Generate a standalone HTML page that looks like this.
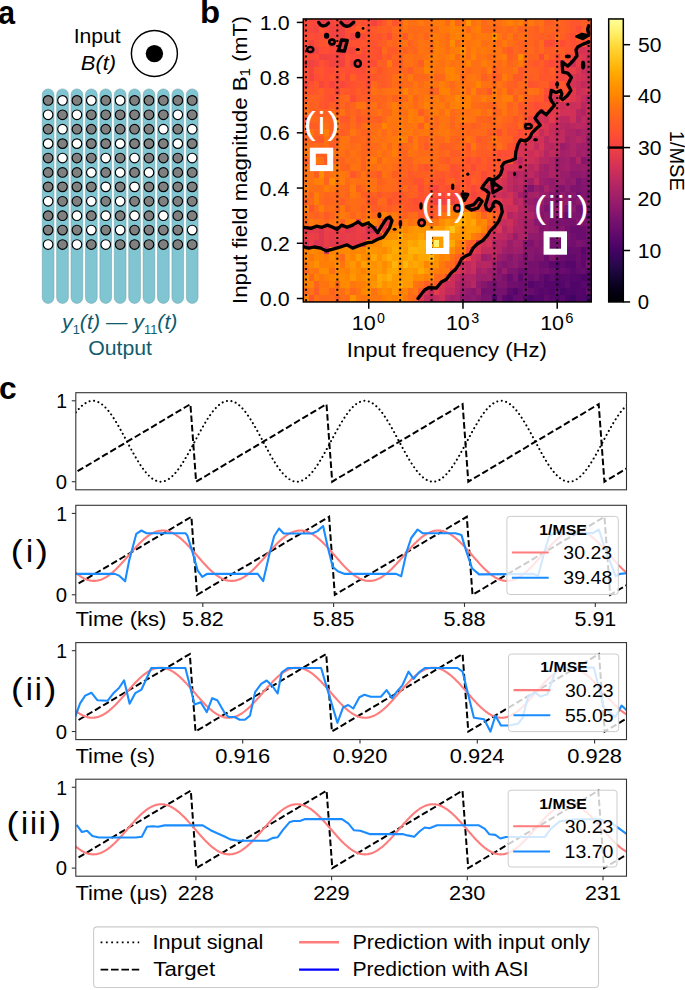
<!DOCTYPE html><html><head><meta charset="utf-8"><style>html,body{margin:0;padding:0;background:#fff;}svg{display:block;font-family:"Liberation Sans",sans-serif;}</style></head><body>
<svg width="685" height="990" viewBox="0 0 685 990">
<rect width="685" height="990" fill="#fff"/>
<g id="pa">
<text x="-1.68" y="23.60" font-size="33.00" font-weight="bold" font-style="normal" fill="#000" textLength="16.79" lengthAdjust="spacingAndGlyphs">a</text>
<text x="73.65" y="42.60" font-size="20.80" font-weight="normal" font-style="normal" fill="#000" textLength="47.11" lengthAdjust="spacingAndGlyphs">Input</text>
<text x="80.83" y="70.30" font-size="20.80" font-weight="normal" font-style="italic" fill="#000" textLength="35.28" lengthAdjust="spacingAndGlyphs">B(t)</text>
<circle cx="154.4" cy="53.5" r="23.0" fill="none" stroke="#000" stroke-width="1.45"/>
<circle cx="154.4" cy="53.6" r="8.7" fill="#000"/>
<rect x="42.25" y="88.9" width="11.7" height="214.5" rx="5.85" ry="5.85" fill="#80c5d2" stroke="#6a9aa3" stroke-width="0.5"/>
<rect x="56.66" y="88.9" width="11.7" height="214.5" rx="5.85" ry="5.85" fill="#80c5d2" stroke="#6a9aa3" stroke-width="0.5"/>
<rect x="71.07" y="88.9" width="11.7" height="214.5" rx="5.85" ry="5.85" fill="#80c5d2" stroke="#6a9aa3" stroke-width="0.5"/>
<rect x="85.48" y="88.9" width="11.7" height="214.5" rx="5.85" ry="5.85" fill="#80c5d2" stroke="#6a9aa3" stroke-width="0.5"/>
<rect x="99.89" y="88.9" width="11.7" height="214.5" rx="5.85" ry="5.85" fill="#80c5d2" stroke="#6a9aa3" stroke-width="0.5"/>
<rect x="114.30" y="88.9" width="11.7" height="214.5" rx="5.85" ry="5.85" fill="#80c5d2" stroke="#6a9aa3" stroke-width="0.5"/>
<rect x="128.71" y="88.9" width="11.7" height="214.5" rx="5.85" ry="5.85" fill="#80c5d2" stroke="#6a9aa3" stroke-width="0.5"/>
<rect x="143.12" y="88.9" width="11.7" height="214.5" rx="5.85" ry="5.85" fill="#80c5d2" stroke="#6a9aa3" stroke-width="0.5"/>
<rect x="157.53" y="88.9" width="11.7" height="214.5" rx="5.85" ry="5.85" fill="#80c5d2" stroke="#6a9aa3" stroke-width="0.5"/>
<rect x="171.94" y="88.9" width="11.7" height="214.5" rx="5.85" ry="5.85" fill="#80c5d2" stroke="#6a9aa3" stroke-width="0.5"/>
<rect x="186.35" y="88.9" width="11.7" height="214.5" rx="5.85" ry="5.85" fill="#80c5d2" stroke="#6a9aa3" stroke-width="0.5"/>
<circle cx="48.10" cy="100.40" r="4.8" fill="#808080" stroke="#000" stroke-width="1.15"/>
<circle cx="62.51" cy="100.40" r="4.8" fill="#fff" stroke="#000" stroke-width="1.15"/>
<circle cx="76.92" cy="100.40" r="4.8" fill="#808080" stroke="#000" stroke-width="1.15"/>
<circle cx="91.33" cy="100.40" r="4.8" fill="#fff" stroke="#000" stroke-width="1.15"/>
<circle cx="105.74" cy="100.40" r="4.8" fill="#808080" stroke="#000" stroke-width="1.15"/>
<circle cx="120.15" cy="100.40" r="4.8" fill="#fff" stroke="#000" stroke-width="1.15"/>
<circle cx="134.56" cy="100.40" r="4.8" fill="#808080" stroke="#000" stroke-width="1.15"/>
<circle cx="148.97" cy="100.40" r="4.8" fill="#808080" stroke="#000" stroke-width="1.15"/>
<circle cx="163.38" cy="100.40" r="4.8" fill="#808080" stroke="#000" stroke-width="1.15"/>
<circle cx="177.79" cy="100.40" r="4.8" fill="#808080" stroke="#000" stroke-width="1.15"/>
<circle cx="192.20" cy="100.40" r="4.8" fill="#808080" stroke="#000" stroke-width="1.15"/>
<circle cx="48.10" cy="114.81" r="4.8" fill="#fff" stroke="#000" stroke-width="1.15"/>
<circle cx="62.51" cy="114.81" r="4.8" fill="#808080" stroke="#000" stroke-width="1.15"/>
<circle cx="76.92" cy="114.81" r="4.8" fill="#fff" stroke="#000" stroke-width="1.15"/>
<circle cx="91.33" cy="114.81" r="4.8" fill="#808080" stroke="#000" stroke-width="1.15"/>
<circle cx="105.74" cy="114.81" r="4.8" fill="#808080" stroke="#000" stroke-width="1.15"/>
<circle cx="120.15" cy="114.81" r="4.8" fill="#808080" stroke="#000" stroke-width="1.15"/>
<circle cx="134.56" cy="114.81" r="4.8" fill="#808080" stroke="#000" stroke-width="1.15"/>
<circle cx="148.97" cy="114.81" r="4.8" fill="#808080" stroke="#000" stroke-width="1.15"/>
<circle cx="163.38" cy="114.81" r="4.8" fill="#808080" stroke="#000" stroke-width="1.15"/>
<circle cx="177.79" cy="114.81" r="4.8" fill="#fff" stroke="#000" stroke-width="1.15"/>
<circle cx="192.20" cy="114.81" r="4.8" fill="#808080" stroke="#000" stroke-width="1.15"/>
<circle cx="48.10" cy="129.22" r="4.8" fill="#808080" stroke="#000" stroke-width="1.15"/>
<circle cx="62.51" cy="129.22" r="4.8" fill="#fff" stroke="#000" stroke-width="1.15"/>
<circle cx="76.92" cy="129.22" r="4.8" fill="#808080" stroke="#000" stroke-width="1.15"/>
<circle cx="91.33" cy="129.22" r="4.8" fill="#808080" stroke="#000" stroke-width="1.15"/>
<circle cx="105.74" cy="129.22" r="4.8" fill="#808080" stroke="#000" stroke-width="1.15"/>
<circle cx="120.15" cy="129.22" r="4.8" fill="#808080" stroke="#000" stroke-width="1.15"/>
<circle cx="134.56" cy="129.22" r="4.8" fill="#808080" stroke="#000" stroke-width="1.15"/>
<circle cx="148.97" cy="129.22" r="4.8" fill="#808080" stroke="#000" stroke-width="1.15"/>
<circle cx="163.38" cy="129.22" r="4.8" fill="#fff" stroke="#000" stroke-width="1.15"/>
<circle cx="177.79" cy="129.22" r="4.8" fill="#808080" stroke="#000" stroke-width="1.15"/>
<circle cx="192.20" cy="129.22" r="4.8" fill="#fff" stroke="#000" stroke-width="1.15"/>
<circle cx="48.10" cy="143.63" r="4.8" fill="#fff" stroke="#000" stroke-width="1.15"/>
<circle cx="62.51" cy="143.63" r="4.8" fill="#808080" stroke="#000" stroke-width="1.15"/>
<circle cx="76.92" cy="143.63" r="4.8" fill="#fff" stroke="#000" stroke-width="1.15"/>
<circle cx="91.33" cy="143.63" r="4.8" fill="#808080" stroke="#000" stroke-width="1.15"/>
<circle cx="105.74" cy="143.63" r="4.8" fill="#808080" stroke="#000" stroke-width="1.15"/>
<circle cx="120.15" cy="143.63" r="4.8" fill="#fff" stroke="#000" stroke-width="1.15"/>
<circle cx="134.56" cy="143.63" r="4.8" fill="#808080" stroke="#000" stroke-width="1.15"/>
<circle cx="148.97" cy="143.63" r="4.8" fill="#808080" stroke="#000" stroke-width="1.15"/>
<circle cx="163.38" cy="143.63" r="4.8" fill="#808080" stroke="#000" stroke-width="1.15"/>
<circle cx="177.79" cy="143.63" r="4.8" fill="#fff" stroke="#000" stroke-width="1.15"/>
<circle cx="192.20" cy="143.63" r="4.8" fill="#808080" stroke="#000" stroke-width="1.15"/>
<circle cx="48.10" cy="158.04" r="4.8" fill="#808080" stroke="#000" stroke-width="1.15"/>
<circle cx="62.51" cy="158.04" r="4.8" fill="#fff" stroke="#000" stroke-width="1.15"/>
<circle cx="76.92" cy="158.04" r="4.8" fill="#808080" stroke="#000" stroke-width="1.15"/>
<circle cx="91.33" cy="158.04" r="4.8" fill="#808080" stroke="#000" stroke-width="1.15"/>
<circle cx="105.74" cy="158.04" r="4.8" fill="#fff" stroke="#000" stroke-width="1.15"/>
<circle cx="120.15" cy="158.04" r="4.8" fill="#808080" stroke="#000" stroke-width="1.15"/>
<circle cx="134.56" cy="158.04" r="4.8" fill="#fff" stroke="#000" stroke-width="1.15"/>
<circle cx="148.97" cy="158.04" r="4.8" fill="#808080" stroke="#000" stroke-width="1.15"/>
<circle cx="163.38" cy="158.04" r="4.8" fill="#808080" stroke="#000" stroke-width="1.15"/>
<circle cx="177.79" cy="158.04" r="4.8" fill="#808080" stroke="#000" stroke-width="1.15"/>
<circle cx="192.20" cy="158.04" r="4.8" fill="#fff" stroke="#000" stroke-width="1.15"/>
<circle cx="48.10" cy="172.45" r="4.8" fill="#808080" stroke="#000" stroke-width="1.15"/>
<circle cx="62.51" cy="172.45" r="4.8" fill="#808080" stroke="#000" stroke-width="1.15"/>
<circle cx="76.92" cy="172.45" r="4.8" fill="#808080" stroke="#000" stroke-width="1.15"/>
<circle cx="91.33" cy="172.45" r="4.8" fill="#fff" stroke="#000" stroke-width="1.15"/>
<circle cx="105.74" cy="172.45" r="4.8" fill="#808080" stroke="#000" stroke-width="1.15"/>
<circle cx="120.15" cy="172.45" r="4.8" fill="#fff" stroke="#000" stroke-width="1.15"/>
<circle cx="134.56" cy="172.45" r="4.8" fill="#808080" stroke="#000" stroke-width="1.15"/>
<circle cx="148.97" cy="172.45" r="4.8" fill="#fff" stroke="#000" stroke-width="1.15"/>
<circle cx="163.38" cy="172.45" r="4.8" fill="#808080" stroke="#000" stroke-width="1.15"/>
<circle cx="177.79" cy="172.45" r="4.8" fill="#808080" stroke="#000" stroke-width="1.15"/>
<circle cx="192.20" cy="172.45" r="4.8" fill="#808080" stroke="#000" stroke-width="1.15"/>
<circle cx="48.10" cy="186.86" r="4.8" fill="#808080" stroke="#000" stroke-width="1.15"/>
<circle cx="62.51" cy="186.86" r="4.8" fill="#808080" stroke="#000" stroke-width="1.15"/>
<circle cx="76.92" cy="186.86" r="4.8" fill="#808080" stroke="#000" stroke-width="1.15"/>
<circle cx="91.33" cy="186.86" r="4.8" fill="#808080" stroke="#000" stroke-width="1.15"/>
<circle cx="105.74" cy="186.86" r="4.8" fill="#fff" stroke="#000" stroke-width="1.15"/>
<circle cx="120.15" cy="186.86" r="4.8" fill="#808080" stroke="#000" stroke-width="1.15"/>
<circle cx="134.56" cy="186.86" r="4.8" fill="#fff" stroke="#000" stroke-width="1.15"/>
<circle cx="148.97" cy="186.86" r="4.8" fill="#808080" stroke="#000" stroke-width="1.15"/>
<circle cx="163.38" cy="186.86" r="4.8" fill="#808080" stroke="#000" stroke-width="1.15"/>
<circle cx="177.79" cy="186.86" r="4.8" fill="#808080" stroke="#000" stroke-width="1.15"/>
<circle cx="192.20" cy="186.86" r="4.8" fill="#808080" stroke="#000" stroke-width="1.15"/>
<circle cx="48.10" cy="201.27" r="4.8" fill="#fff" stroke="#000" stroke-width="1.15"/>
<circle cx="62.51" cy="201.27" r="4.8" fill="#808080" stroke="#000" stroke-width="1.15"/>
<circle cx="76.92" cy="201.27" r="4.8" fill="#808080" stroke="#000" stroke-width="1.15"/>
<circle cx="91.33" cy="201.27" r="4.8" fill="#fff" stroke="#000" stroke-width="1.15"/>
<circle cx="105.74" cy="201.27" r="4.8" fill="#808080" stroke="#000" stroke-width="1.15"/>
<circle cx="120.15" cy="201.27" r="4.8" fill="#fff" stroke="#000" stroke-width="1.15"/>
<circle cx="134.56" cy="201.27" r="4.8" fill="#808080" stroke="#000" stroke-width="1.15"/>
<circle cx="148.97" cy="201.27" r="4.8" fill="#808080" stroke="#000" stroke-width="1.15"/>
<circle cx="163.38" cy="201.27" r="4.8" fill="#808080" stroke="#000" stroke-width="1.15"/>
<circle cx="177.79" cy="201.27" r="4.8" fill="#808080" stroke="#000" stroke-width="1.15"/>
<circle cx="192.20" cy="201.27" r="4.8" fill="#808080" stroke="#000" stroke-width="1.15"/>
<circle cx="48.10" cy="215.68" r="4.8" fill="#808080" stroke="#000" stroke-width="1.15"/>
<circle cx="62.51" cy="215.68" r="4.8" fill="#808080" stroke="#000" stroke-width="1.15"/>
<circle cx="76.92" cy="215.68" r="4.8" fill="#fff" stroke="#000" stroke-width="1.15"/>
<circle cx="91.33" cy="215.68" r="4.8" fill="#808080" stroke="#000" stroke-width="1.15"/>
<circle cx="105.74" cy="215.68" r="4.8" fill="#fff" stroke="#000" stroke-width="1.15"/>
<circle cx="120.15" cy="215.68" r="4.8" fill="#808080" stroke="#000" stroke-width="1.15"/>
<circle cx="134.56" cy="215.68" r="4.8" fill="#fff" stroke="#000" stroke-width="1.15"/>
<circle cx="148.97" cy="215.68" r="4.8" fill="#808080" stroke="#000" stroke-width="1.15"/>
<circle cx="163.38" cy="215.68" r="4.8" fill="#fff" stroke="#000" stroke-width="1.15"/>
<circle cx="177.79" cy="215.68" r="4.8" fill="#808080" stroke="#000" stroke-width="1.15"/>
<circle cx="192.20" cy="215.68" r="4.8" fill="#808080" stroke="#000" stroke-width="1.15"/>
<circle cx="48.10" cy="230.09" r="4.8" fill="#808080" stroke="#000" stroke-width="1.15"/>
<circle cx="62.51" cy="230.09" r="4.8" fill="#808080" stroke="#000" stroke-width="1.15"/>
<circle cx="76.92" cy="230.09" r="4.8" fill="#808080" stroke="#000" stroke-width="1.15"/>
<circle cx="91.33" cy="230.09" r="4.8" fill="#fff" stroke="#000" stroke-width="1.15"/>
<circle cx="105.74" cy="230.09" r="4.8" fill="#808080" stroke="#000" stroke-width="1.15"/>
<circle cx="120.15" cy="230.09" r="4.8" fill="#fff" stroke="#000" stroke-width="1.15"/>
<circle cx="134.56" cy="230.09" r="4.8" fill="#808080" stroke="#000" stroke-width="1.15"/>
<circle cx="148.97" cy="230.09" r="4.8" fill="#808080" stroke="#000" stroke-width="1.15"/>
<circle cx="163.38" cy="230.09" r="4.8" fill="#808080" stroke="#000" stroke-width="1.15"/>
<circle cx="177.79" cy="230.09" r="4.8" fill="#808080" stroke="#000" stroke-width="1.15"/>
<circle cx="192.20" cy="230.09" r="4.8" fill="#fff" stroke="#000" stroke-width="1.15"/>
<circle cx="48.10" cy="244.50" r="4.8" fill="#fff" stroke="#000" stroke-width="1.15"/>
<circle cx="62.51" cy="244.50" r="4.8" fill="#808080" stroke="#000" stroke-width="1.15"/>
<circle cx="76.92" cy="244.50" r="4.8" fill="#fff" stroke="#000" stroke-width="1.15"/>
<circle cx="91.33" cy="244.50" r="4.8" fill="#808080" stroke="#000" stroke-width="1.15"/>
<circle cx="105.74" cy="244.50" r="4.8" fill="#fff" stroke="#000" stroke-width="1.15"/>
<circle cx="120.15" cy="244.50" r="4.8" fill="#808080" stroke="#000" stroke-width="1.15"/>
<circle cx="134.56" cy="244.50" r="4.8" fill="#808080" stroke="#000" stroke-width="1.15"/>
<circle cx="148.97" cy="244.50" r="4.8" fill="#808080" stroke="#000" stroke-width="1.15"/>
<circle cx="163.38" cy="244.50" r="4.8" fill="#808080" stroke="#000" stroke-width="1.15"/>
<circle cx="177.79" cy="244.50" r="4.8" fill="#808080" stroke="#000" stroke-width="1.15"/>
<circle cx="192.20" cy="244.50" r="4.8" fill="#808080" stroke="#000" stroke-width="1.15"/>
<text x="62.0" y="329.3" font-size="21.0" font-style="italic" fill="#0f5b6d" textLength="115.5" lengthAdjust="spacingAndGlyphs">y<tspan font-size="12.5" dy="5" font-style="normal">1</tspan><tspan dy="-5">(t) — y</tspan><tspan font-size="12.5" dy="5" font-style="normal">11</tspan><tspan dy="-5">(t)</tspan></text>
<text x="88.19" y="354.60" font-size="21.00" font-weight="normal" font-style="normal" fill="#0f5b6d" textLength="63.76" lengthAdjust="spacingAndGlyphs">Output</text>
</g>
<g id="pb">
<text x="200.13" y="23.20" font-size="32.00" font-weight="bold" font-style="normal" fill="#000" textLength="20.12" lengthAdjust="spacingAndGlyphs">b</text>
<g shape-rendering="crispEdges">
<rect x="303.31" y="295.05" width="5.29" height="6.96" fill="#ff7e06"/>
<rect x="308.55" y="295.05" width="5.29" height="6.96" fill="#ff562b"/>
<rect x="313.78" y="295.05" width="5.29" height="6.96" fill="#ff6f13"/>
<rect x="319.02" y="295.05" width="5.29" height="6.96" fill="#ff671b"/>
<rect x="324.25" y="295.05" width="5.29" height="6.96" fill="#ff671b"/>
<rect x="329.49" y="295.05" width="5.29" height="6.96" fill="#ff6a18"/>
<rect x="334.72" y="295.05" width="5.29" height="6.96" fill="#ff5a27"/>
<rect x="339.96" y="295.05" width="5.29" height="6.96" fill="#ff6c16"/>
<rect x="345.19" y="295.05" width="5.29" height="6.96" fill="#ff6919"/>
<rect x="350.43" y="295.05" width="5.29" height="6.96" fill="#ff9400"/>
<rect x="355.66" y="295.05" width="5.29" height="6.96" fill="#ff780c"/>
<rect x="360.90" y="295.05" width="5.29" height="6.96" fill="#ff740f"/>
<rect x="366.13" y="295.05" width="5.29" height="6.96" fill="#ff780c"/>
<rect x="371.37" y="295.05" width="5.29" height="6.96" fill="#ff780c"/>
<rect x="376.60" y="295.05" width="5.29" height="6.96" fill="#ff760e"/>
<rect x="381.84" y="295.05" width="5.29" height="6.96" fill="#ff7e06"/>
<rect x="387.07" y="295.05" width="5.29" height="6.96" fill="#ff8700"/>
<rect x="392.31" y="295.05" width="5.29" height="6.96" fill="#ff8005"/>
<rect x="397.54" y="295.05" width="5.29" height="6.96" fill="#ff8b00"/>
<rect x="402.78" y="295.05" width="5.29" height="6.96" fill="#ff780c"/>
<rect x="408.01" y="295.05" width="5.29" height="6.96" fill="#ff6c16"/>
<rect x="413.25" y="295.05" width="5.29" height="6.96" fill="#ff631f"/>
<rect x="418.48" y="295.05" width="5.29" height="6.96" fill="#dd3750"/>
<rect x="423.72" y="295.05" width="5.29" height="6.96" fill="#c42b5d"/>
<rect x="428.95" y="295.05" width="5.29" height="6.96" fill="#bb2861"/>
<rect x="434.19" y="295.05" width="5.29" height="6.96" fill="#c22b5e"/>
<rect x="439.42" y="295.05" width="5.29" height="6.96" fill="#cd2f59"/>
<rect x="444.66" y="295.05" width="5.29" height="6.96" fill="#ac2366"/>
<rect x="449.89" y="295.05" width="5.29" height="6.96" fill="#a32068"/>
<rect x="455.13" y="295.05" width="5.29" height="6.96" fill="#a82267"/>
<rect x="460.36" y="295.05" width="5.29" height="6.96" fill="#8e196c"/>
<rect x="465.60" y="295.05" width="5.29" height="6.96" fill="#8c186d"/>
<rect x="470.83" y="295.05" width="5.29" height="6.96" fill="#901a6c"/>
<rect x="476.07" y="295.05" width="5.29" height="6.96" fill="#87166d"/>
<rect x="481.30" y="295.05" width="5.29" height="6.96" fill="#7b136e"/>
<rect x="486.54" y="295.05" width="5.29" height="6.96" fill="#7d136e"/>
<rect x="491.77" y="295.05" width="5.29" height="6.96" fill="#520569"/>
<rect x="497.01" y="295.05" width="5.29" height="6.96" fill="#76116e"/>
<rect x="502.24" y="295.05" width="5.29" height="6.96" fill="#5d086c"/>
<rect x="507.48" y="295.05" width="5.29" height="6.96" fill="#54066a"/>
<rect x="512.71" y="295.05" width="5.29" height="6.96" fill="#650b6d"/>
<rect x="517.95" y="295.05" width="5.29" height="6.96" fill="#670b6d"/>
<rect x="523.18" y="295.05" width="5.29" height="6.96" fill="#57076b"/>
<rect x="528.42" y="295.05" width="5.29" height="6.96" fill="#4e0568"/>
<rect x="533.65" y="295.05" width="5.29" height="6.96" fill="#57076b"/>
<rect x="538.89" y="295.05" width="5.29" height="6.96" fill="#54066a"/>
<rect x="544.12" y="295.05" width="5.29" height="6.96" fill="#630a6d"/>
<rect x="549.36" y="295.05" width="5.29" height="6.96" fill="#59076b"/>
<rect x="554.59" y="295.05" width="5.29" height="6.96" fill="#520569"/>
<rect x="559.83" y="295.05" width="5.29" height="6.96" fill="#59076b"/>
<rect x="565.06" y="295.05" width="5.29" height="6.96" fill="#4a0466"/>
<rect x="570.30" y="295.05" width="5.29" height="6.96" fill="#420462"/>
<rect x="575.53" y="295.05" width="5.29" height="6.96" fill="#500568"/>
<rect x="580.77" y="295.05" width="5.29" height="6.96" fill="#500568"/>
<rect x="586.00" y="295.05" width="5.29" height="6.96" fill="#460464"/>
<rect x="303.31" y="288.15" width="5.29" height="6.96" fill="#ff6919"/>
<rect x="308.55" y="288.15" width="5.29" height="6.96" fill="#ff7311"/>
<rect x="313.78" y="288.15" width="5.29" height="6.96" fill="#ff5c26"/>
<rect x="319.02" y="288.15" width="5.29" height="6.96" fill="#ff780c"/>
<rect x="324.25" y="288.15" width="5.29" height="6.96" fill="#ff760e"/>
<rect x="329.49" y="288.15" width="5.29" height="6.96" fill="#ff641d"/>
<rect x="334.72" y="288.15" width="5.29" height="6.96" fill="#ff740f"/>
<rect x="339.96" y="288.15" width="5.29" height="6.96" fill="#ff6e15"/>
<rect x="345.19" y="288.15" width="5.29" height="6.96" fill="#ff8005"/>
<rect x="350.43" y="288.15" width="5.29" height="6.96" fill="#ff6919"/>
<rect x="355.66" y="288.15" width="5.29" height="6.96" fill="#ff740f"/>
<rect x="360.90" y="288.15" width="5.29" height="6.96" fill="#ff8700"/>
<rect x="366.13" y="288.15" width="5.29" height="6.96" fill="#ff8e00"/>
<rect x="371.37" y="288.15" width="5.29" height="6.96" fill="#ff7112"/>
<rect x="376.60" y="288.15" width="5.29" height="6.96" fill="#ff8203"/>
<rect x="381.84" y="288.15" width="5.29" height="6.96" fill="#ff8c00"/>
<rect x="387.07" y="288.15" width="5.29" height="6.96" fill="#ff8501"/>
<rect x="392.31" y="288.15" width="5.29" height="6.96" fill="#ff9b00"/>
<rect x="397.54" y="288.15" width="5.29" height="6.96" fill="#ff7e06"/>
<rect x="402.78" y="288.15" width="5.29" height="6.96" fill="#ff8501"/>
<rect x="408.01" y="288.15" width="5.29" height="6.96" fill="#ff6f13"/>
<rect x="413.25" y="288.15" width="5.29" height="6.96" fill="#ff780c"/>
<rect x="418.48" y="288.15" width="5.29" height="6.96" fill="#ff562b"/>
<rect x="423.72" y="288.15" width="5.29" height="6.96" fill="#d53255"/>
<rect x="428.95" y="288.15" width="5.29" height="6.96" fill="#c12a5e"/>
<rect x="434.19" y="288.15" width="5.29" height="6.96" fill="#e43a4b"/>
<rect x="439.42" y="288.15" width="5.29" height="6.96" fill="#d13157"/>
<rect x="444.66" y="288.15" width="5.29" height="6.96" fill="#c42b5d"/>
<rect x="449.89" y="288.15" width="5.29" height="6.96" fill="#c12a5e"/>
<rect x="455.13" y="288.15" width="5.29" height="6.96" fill="#b02465"/>
<rect x="460.36" y="288.15" width="5.29" height="6.96" fill="#9b1d6a"/>
<rect x="465.60" y="288.15" width="5.29" height="6.96" fill="#901a6c"/>
<rect x="470.83" y="288.15" width="5.29" height="6.96" fill="#89176d"/>
<rect x="476.07" y="288.15" width="5.29" height="6.96" fill="#991d6b"/>
<rect x="481.30" y="288.15" width="5.29" height="6.96" fill="#74106e"/>
<rect x="486.54" y="288.15" width="5.29" height="6.96" fill="#78116e"/>
<rect x="491.77" y="288.15" width="5.29" height="6.96" fill="#74106e"/>
<rect x="497.01" y="288.15" width="5.29" height="6.96" fill="#76116e"/>
<rect x="502.24" y="288.15" width="5.29" height="6.96" fill="#76116e"/>
<rect x="507.48" y="288.15" width="5.29" height="6.96" fill="#5f096c"/>
<rect x="512.71" y="288.15" width="5.29" height="6.96" fill="#56066a"/>
<rect x="517.95" y="288.15" width="5.29" height="6.96" fill="#650b6d"/>
<rect x="523.18" y="288.15" width="5.29" height="6.96" fill="#6e0e6e"/>
<rect x="528.42" y="288.15" width="5.29" height="6.96" fill="#670b6d"/>
<rect x="533.65" y="288.15" width="5.29" height="6.96" fill="#5f096c"/>
<rect x="538.89" y="288.15" width="5.29" height="6.96" fill="#57076b"/>
<rect x="544.12" y="288.15" width="5.29" height="6.96" fill="#5b086c"/>
<rect x="549.36" y="288.15" width="5.29" height="6.96" fill="#54066a"/>
<rect x="554.59" y="288.15" width="5.29" height="6.96" fill="#5d086c"/>
<rect x="559.83" y="288.15" width="5.29" height="6.96" fill="#4a0466"/>
<rect x="565.06" y="288.15" width="5.29" height="6.96" fill="#520569"/>
<rect x="570.30" y="288.15" width="5.29" height="6.96" fill="#4e0568"/>
<rect x="575.53" y="288.15" width="5.29" height="6.96" fill="#54066a"/>
<rect x="580.77" y="288.15" width="5.29" height="6.96" fill="#500568"/>
<rect x="586.00" y="288.15" width="5.29" height="6.96" fill="#670b6d"/>
<rect x="303.31" y="281.24" width="5.29" height="6.96" fill="#ff8203"/>
<rect x="308.55" y="281.24" width="5.29" height="6.96" fill="#ff8402"/>
<rect x="313.78" y="281.24" width="5.29" height="6.96" fill="#ff641d"/>
<rect x="319.02" y="281.24" width="5.29" height="6.96" fill="#ff740f"/>
<rect x="324.25" y="281.24" width="5.29" height="6.96" fill="#ff7311"/>
<rect x="329.49" y="281.24" width="5.29" height="6.96" fill="#ff7e06"/>
<rect x="334.72" y="281.24" width="5.29" height="6.96" fill="#ff661c"/>
<rect x="339.96" y="281.24" width="5.29" height="6.96" fill="#ff8900"/>
<rect x="345.19" y="281.24" width="5.29" height="6.96" fill="#ff8b00"/>
<rect x="350.43" y="281.24" width="5.29" height="6.96" fill="#ff760e"/>
<rect x="355.66" y="281.24" width="5.29" height="6.96" fill="#ff7d08"/>
<rect x="360.90" y="281.24" width="5.29" height="6.96" fill="#ff8005"/>
<rect x="366.13" y="281.24" width="5.29" height="6.96" fill="#ff8b00"/>
<rect x="371.37" y="281.24" width="5.29" height="6.96" fill="#ff9400"/>
<rect x="376.60" y="281.24" width="5.29" height="6.96" fill="#ffa500"/>
<rect x="381.84" y="281.24" width="5.29" height="6.96" fill="#ff9000"/>
<rect x="387.07" y="281.24" width="5.29" height="6.96" fill="#ff9b00"/>
<rect x="392.31" y="281.24" width="5.29" height="6.96" fill="#ff9600"/>
<rect x="397.54" y="281.24" width="5.29" height="6.96" fill="#ffa600"/>
<rect x="402.78" y="281.24" width="5.29" height="6.96" fill="#ff9700"/>
<rect x="408.01" y="281.24" width="5.29" height="6.96" fill="#ff9700"/>
<rect x="413.25" y="281.24" width="5.29" height="6.96" fill="#ff740f"/>
<rect x="418.48" y="281.24" width="5.29" height="6.96" fill="#ff6e15"/>
<rect x="423.72" y="281.24" width="5.29" height="6.96" fill="#ff5c26"/>
<rect x="428.95" y="281.24" width="5.29" height="6.96" fill="#ff6a18"/>
<rect x="434.19" y="281.24" width="5.29" height="6.96" fill="#ff5c26"/>
<rect x="439.42" y="281.24" width="5.29" height="6.96" fill="#d63354"/>
<rect x="444.66" y="281.24" width="5.29" height="6.96" fill="#ca2e5a"/>
<rect x="449.89" y="281.24" width="5.29" height="6.96" fill="#ca2e5a"/>
<rect x="455.13" y="281.24" width="5.29" height="6.96" fill="#b22564"/>
<rect x="460.36" y="281.24" width="5.29" height="6.96" fill="#a52068"/>
<rect x="465.60" y="281.24" width="5.29" height="6.96" fill="#aa2266"/>
<rect x="470.83" y="281.24" width="5.29" height="6.96" fill="#b72762"/>
<rect x="476.07" y="281.24" width="5.29" height="6.96" fill="#921a6c"/>
<rect x="481.30" y="281.24" width="5.29" height="6.96" fill="#87166d"/>
<rect x="486.54" y="281.24" width="5.29" height="6.96" fill="#7a126e"/>
<rect x="491.77" y="281.24" width="5.29" height="6.96" fill="#74106e"/>
<rect x="497.01" y="281.24" width="5.29" height="6.96" fill="#81156e"/>
<rect x="502.24" y="281.24" width="5.29" height="6.96" fill="#81156e"/>
<rect x="507.48" y="281.24" width="5.29" height="6.96" fill="#720f6e"/>
<rect x="512.71" y="281.24" width="5.29" height="6.96" fill="#720f6e"/>
<rect x="517.95" y="281.24" width="5.29" height="6.96" fill="#6c0d6e"/>
<rect x="523.18" y="281.24" width="5.29" height="6.96" fill="#6b0d6e"/>
<rect x="528.42" y="281.24" width="5.29" height="6.96" fill="#56066a"/>
<rect x="533.65" y="281.24" width="5.29" height="6.96" fill="#5d086c"/>
<rect x="538.89" y="281.24" width="5.29" height="6.96" fill="#610a6d"/>
<rect x="544.12" y="281.24" width="5.29" height="6.96" fill="#56066a"/>
<rect x="549.36" y="281.24" width="5.29" height="6.96" fill="#56066a"/>
<rect x="554.59" y="281.24" width="5.29" height="6.96" fill="#500568"/>
<rect x="559.83" y="281.24" width="5.29" height="6.96" fill="#54066a"/>
<rect x="565.06" y="281.24" width="5.29" height="6.96" fill="#5f096c"/>
<rect x="570.30" y="281.24" width="5.29" height="6.96" fill="#500568"/>
<rect x="575.53" y="281.24" width="5.29" height="6.96" fill="#520569"/>
<rect x="580.77" y="281.24" width="5.29" height="6.96" fill="#59076b"/>
<rect x="586.00" y="281.24" width="5.29" height="6.96" fill="#57076b"/>
<rect x="303.31" y="274.34" width="5.29" height="6.96" fill="#ff8700"/>
<rect x="308.55" y="274.34" width="5.29" height="6.96" fill="#ff661c"/>
<rect x="313.78" y="274.34" width="5.29" height="6.96" fill="#ff8203"/>
<rect x="319.02" y="274.34" width="5.29" height="6.96" fill="#ff760e"/>
<rect x="324.25" y="274.34" width="5.29" height="6.96" fill="#ff7e06"/>
<rect x="329.49" y="274.34" width="5.29" height="6.96" fill="#ff8501"/>
<rect x="334.72" y="274.34" width="5.29" height="6.96" fill="#ff8900"/>
<rect x="339.96" y="274.34" width="5.29" height="6.96" fill="#ff8c00"/>
<rect x="345.19" y="274.34" width="5.29" height="6.96" fill="#ff8501"/>
<rect x="350.43" y="274.34" width="5.29" height="6.96" fill="#ff9700"/>
<rect x="355.66" y="274.34" width="5.29" height="6.96" fill="#ff8700"/>
<rect x="360.90" y="274.34" width="5.29" height="6.96" fill="#ff8b00"/>
<rect x="366.13" y="274.34" width="5.29" height="6.96" fill="#ff9700"/>
<rect x="371.37" y="274.34" width="5.29" height="6.96" fill="#ff8c00"/>
<rect x="376.60" y="274.34" width="5.29" height="6.96" fill="#ffaa00"/>
<rect x="381.84" y="274.34" width="5.29" height="6.96" fill="#ffa100"/>
<rect x="387.07" y="274.34" width="5.29" height="6.96" fill="#ffb005"/>
<rect x="392.31" y="274.34" width="5.29" height="6.96" fill="#ff9b00"/>
<rect x="397.54" y="274.34" width="5.29" height="6.96" fill="#ff9700"/>
<rect x="402.78" y="274.34" width="5.29" height="6.96" fill="#ff9b00"/>
<rect x="408.01" y="274.34" width="5.29" height="6.96" fill="#ff9b00"/>
<rect x="413.25" y="274.34" width="5.29" height="6.96" fill="#ff8900"/>
<rect x="418.48" y="274.34" width="5.29" height="6.96" fill="#ff8c00"/>
<rect x="423.72" y="274.34" width="5.29" height="6.96" fill="#ff8005"/>
<rect x="428.95" y="274.34" width="5.29" height="6.96" fill="#ff9000"/>
<rect x="434.19" y="274.34" width="5.29" height="6.96" fill="#ff6919"/>
<rect x="439.42" y="274.34" width="5.29" height="6.96" fill="#ff671b"/>
<rect x="444.66" y="274.34" width="5.29" height="6.96" fill="#fa483a"/>
<rect x="449.89" y="274.34" width="5.29" height="6.96" fill="#ca2e5a"/>
<rect x="455.13" y="274.34" width="5.29" height="6.96" fill="#bf295f"/>
<rect x="460.36" y="274.34" width="5.29" height="6.96" fill="#b02465"/>
<rect x="465.60" y="274.34" width="5.29" height="6.96" fill="#b42563"/>
<rect x="470.83" y="274.34" width="5.29" height="6.96" fill="#b22564"/>
<rect x="476.07" y="274.34" width="5.29" height="6.96" fill="#9f1f69"/>
<rect x="481.30" y="274.34" width="5.29" height="6.96" fill="#9d1e6a"/>
<rect x="486.54" y="274.34" width="5.29" height="6.96" fill="#a32068"/>
<rect x="491.77" y="274.34" width="5.29" height="6.96" fill="#8e196c"/>
<rect x="497.01" y="274.34" width="5.29" height="6.96" fill="#87166d"/>
<rect x="502.24" y="274.34" width="5.29" height="6.96" fill="#7b136e"/>
<rect x="507.48" y="274.34" width="5.29" height="6.96" fill="#690c6d"/>
<rect x="512.71" y="274.34" width="5.29" height="6.96" fill="#7d136e"/>
<rect x="517.95" y="274.34" width="5.29" height="6.96" fill="#5f096c"/>
<rect x="523.18" y="274.34" width="5.29" height="6.96" fill="#76116e"/>
<rect x="528.42" y="274.34" width="5.29" height="6.96" fill="#6b0d6e"/>
<rect x="533.65" y="274.34" width="5.29" height="6.96" fill="#74106e"/>
<rect x="538.89" y="274.34" width="5.29" height="6.96" fill="#650b6d"/>
<rect x="544.12" y="274.34" width="5.29" height="6.96" fill="#59076b"/>
<rect x="549.36" y="274.34" width="5.29" height="6.96" fill="#630a6d"/>
<rect x="554.59" y="274.34" width="5.29" height="6.96" fill="#57076b"/>
<rect x="559.83" y="274.34" width="5.29" height="6.96" fill="#59076b"/>
<rect x="565.06" y="274.34" width="5.29" height="6.96" fill="#5b086c"/>
<rect x="570.30" y="274.34" width="5.29" height="6.96" fill="#57076b"/>
<rect x="575.53" y="274.34" width="5.29" height="6.96" fill="#56066a"/>
<rect x="580.77" y="274.34" width="5.29" height="6.96" fill="#4c0567"/>
<rect x="586.00" y="274.34" width="5.29" height="6.96" fill="#520569"/>
<rect x="303.31" y="267.44" width="5.29" height="6.96" fill="#ff671b"/>
<rect x="308.55" y="267.44" width="5.29" height="6.96" fill="#ff7b09"/>
<rect x="313.78" y="267.44" width="5.29" height="6.96" fill="#ff7311"/>
<rect x="319.02" y="267.44" width="5.29" height="6.96" fill="#ff8b00"/>
<rect x="324.25" y="267.44" width="5.29" height="6.96" fill="#ff8c00"/>
<rect x="329.49" y="267.44" width="5.29" height="6.96" fill="#ff6f13"/>
<rect x="334.72" y="267.44" width="5.29" height="6.96" fill="#ff8402"/>
<rect x="339.96" y="267.44" width="5.29" height="6.96" fill="#ff8501"/>
<rect x="345.19" y="267.44" width="5.29" height="6.96" fill="#ff7e06"/>
<rect x="350.43" y="267.44" width="5.29" height="6.96" fill="#ff9000"/>
<rect x="355.66" y="267.44" width="5.29" height="6.96" fill="#ff8900"/>
<rect x="360.90" y="267.44" width="5.29" height="6.96" fill="#ff8005"/>
<rect x="366.13" y="267.44" width="5.29" height="6.96" fill="#ff9000"/>
<rect x="371.37" y="267.44" width="5.29" height="6.96" fill="#ff9600"/>
<rect x="376.60" y="267.44" width="5.29" height="6.96" fill="#ff9900"/>
<rect x="381.84" y="267.44" width="5.29" height="6.96" fill="#ff8e00"/>
<rect x="387.07" y="267.44" width="5.29" height="6.96" fill="#ffa500"/>
<rect x="392.31" y="267.44" width="5.29" height="6.96" fill="#ffa800"/>
<rect x="397.54" y="267.44" width="5.29" height="6.96" fill="#ff9600"/>
<rect x="402.78" y="267.44" width="5.29" height="6.96" fill="#ff9900"/>
<rect x="408.01" y="267.44" width="5.29" height="6.96" fill="#ff9d00"/>
<rect x="413.25" y="267.44" width="5.29" height="6.96" fill="#ff9600"/>
<rect x="418.48" y="267.44" width="5.29" height="6.96" fill="#ffaa00"/>
<rect x="423.72" y="267.44" width="5.29" height="6.96" fill="#ff9700"/>
<rect x="428.95" y="267.44" width="5.29" height="6.96" fill="#ff8700"/>
<rect x="434.19" y="267.44" width="5.29" height="6.96" fill="#ff7d08"/>
<rect x="439.42" y="267.44" width="5.29" height="6.96" fill="#ff760e"/>
<rect x="444.66" y="267.44" width="5.29" height="6.96" fill="#ff760e"/>
<rect x="449.89" y="267.44" width="5.29" height="6.96" fill="#ff4e33"/>
<rect x="455.13" y="267.44" width="5.29" height="6.96" fill="#d83453"/>
<rect x="460.36" y="267.44" width="5.29" height="6.96" fill="#cf3058"/>
<rect x="465.60" y="267.44" width="5.29" height="6.96" fill="#bd2960"/>
<rect x="470.83" y="267.44" width="5.29" height="6.96" fill="#c82d5b"/>
<rect x="476.07" y="267.44" width="5.29" height="6.96" fill="#a52068"/>
<rect x="481.30" y="267.44" width="5.29" height="6.96" fill="#ac2366"/>
<rect x="486.54" y="267.44" width="5.29" height="6.96" fill="#9d1e6a"/>
<rect x="491.77" y="267.44" width="5.29" height="6.96" fill="#9b1d6a"/>
<rect x="497.01" y="267.44" width="5.29" height="6.96" fill="#81156e"/>
<rect x="502.24" y="267.44" width="5.29" height="6.96" fill="#991d6b"/>
<rect x="507.48" y="267.44" width="5.29" height="6.96" fill="#81156e"/>
<rect x="512.71" y="267.44" width="5.29" height="6.96" fill="#7f146e"/>
<rect x="517.95" y="267.44" width="5.29" height="6.96" fill="#700f6e"/>
<rect x="523.18" y="267.44" width="5.29" height="6.96" fill="#6e0e6e"/>
<rect x="528.42" y="267.44" width="5.29" height="6.96" fill="#78116e"/>
<rect x="533.65" y="267.44" width="5.29" height="6.96" fill="#78116e"/>
<rect x="538.89" y="267.44" width="5.29" height="6.96" fill="#720f6e"/>
<rect x="544.12" y="267.44" width="5.29" height="6.96" fill="#74106e"/>
<rect x="549.36" y="267.44" width="5.29" height="6.96" fill="#6c0d6e"/>
<rect x="554.59" y="267.44" width="5.29" height="6.96" fill="#630a6d"/>
<rect x="559.83" y="267.44" width="5.29" height="6.96" fill="#690c6d"/>
<rect x="565.06" y="267.44" width="5.29" height="6.96" fill="#650b6d"/>
<rect x="570.30" y="267.44" width="5.29" height="6.96" fill="#5b086c"/>
<rect x="575.53" y="267.44" width="5.29" height="6.96" fill="#630a6d"/>
<rect x="580.77" y="267.44" width="5.29" height="6.96" fill="#670b6d"/>
<rect x="586.00" y="267.44" width="5.29" height="6.96" fill="#5b086c"/>
<rect x="303.31" y="260.54" width="5.29" height="6.96" fill="#ff780c"/>
<rect x="308.55" y="260.54" width="5.29" height="6.96" fill="#ff8402"/>
<rect x="313.78" y="260.54" width="5.29" height="6.96" fill="#ff9000"/>
<rect x="319.02" y="260.54" width="5.29" height="6.96" fill="#ff7d08"/>
<rect x="324.25" y="260.54" width="5.29" height="6.96" fill="#ff8005"/>
<rect x="329.49" y="260.54" width="5.29" height="6.96" fill="#ff8005"/>
<rect x="334.72" y="260.54" width="5.29" height="6.96" fill="#ff9000"/>
<rect x="339.96" y="260.54" width="5.29" height="6.96" fill="#ff740f"/>
<rect x="345.19" y="260.54" width="5.29" height="6.96" fill="#ff8c00"/>
<rect x="350.43" y="260.54" width="5.29" height="6.96" fill="#ff9700"/>
<rect x="355.66" y="260.54" width="5.29" height="6.96" fill="#ff8501"/>
<rect x="360.90" y="260.54" width="5.29" height="6.96" fill="#ffa100"/>
<rect x="366.13" y="260.54" width="5.29" height="6.96" fill="#ff9900"/>
<rect x="371.37" y="260.54" width="5.29" height="6.96" fill="#ff9000"/>
<rect x="376.60" y="260.54" width="5.29" height="6.96" fill="#ff9b00"/>
<rect x="381.84" y="260.54" width="5.29" height="6.96" fill="#ff8c00"/>
<rect x="387.07" y="260.54" width="5.29" height="6.96" fill="#ff9900"/>
<rect x="392.31" y="260.54" width="5.29" height="6.96" fill="#ffb409"/>
<rect x="397.54" y="260.54" width="5.29" height="6.96" fill="#ff9900"/>
<rect x="402.78" y="260.54" width="5.29" height="6.96" fill="#ffb60b"/>
<rect x="408.01" y="260.54" width="5.29" height="6.96" fill="#ffa100"/>
<rect x="413.25" y="260.54" width="5.29" height="6.96" fill="#ffaa00"/>
<rect x="418.48" y="260.54" width="5.29" height="6.96" fill="#ff9f00"/>
<rect x="423.72" y="260.54" width="5.29" height="6.96" fill="#ff8700"/>
<rect x="428.95" y="260.54" width="5.29" height="6.96" fill="#ff9400"/>
<rect x="434.19" y="260.54" width="5.29" height="6.96" fill="#ff9200"/>
<rect x="439.42" y="260.54" width="5.29" height="6.96" fill="#ff780c"/>
<rect x="444.66" y="260.54" width="5.29" height="6.96" fill="#ff6919"/>
<rect x="449.89" y="260.54" width="5.29" height="6.96" fill="#ff6919"/>
<rect x="455.13" y="260.54" width="5.29" height="6.96" fill="#ff4d35"/>
<rect x="460.36" y="260.54" width="5.29" height="6.96" fill="#c42b5d"/>
<rect x="465.60" y="260.54" width="5.29" height="6.96" fill="#c12a5e"/>
<rect x="470.83" y="260.54" width="5.29" height="6.96" fill="#ca2e5a"/>
<rect x="476.07" y="260.54" width="5.29" height="6.96" fill="#b42563"/>
<rect x="481.30" y="260.54" width="5.29" height="6.96" fill="#b92761"/>
<rect x="486.54" y="260.54" width="5.29" height="6.96" fill="#b52663"/>
<rect x="491.77" y="260.54" width="5.29" height="6.96" fill="#9d1e6a"/>
<rect x="497.01" y="260.54" width="5.29" height="6.96" fill="#8a186d"/>
<rect x="502.24" y="260.54" width="5.29" height="6.96" fill="#83156e"/>
<rect x="507.48" y="260.54" width="5.29" height="6.96" fill="#8a186d"/>
<rect x="512.71" y="260.54" width="5.29" height="6.96" fill="#901a6c"/>
<rect x="517.95" y="260.54" width="5.29" height="6.96" fill="#83156e"/>
<rect x="523.18" y="260.54" width="5.29" height="6.96" fill="#81156e"/>
<rect x="528.42" y="260.54" width="5.29" height="6.96" fill="#74106e"/>
<rect x="533.65" y="260.54" width="5.29" height="6.96" fill="#78116e"/>
<rect x="538.89" y="260.54" width="5.29" height="6.96" fill="#6c0d6e"/>
<rect x="544.12" y="260.54" width="5.29" height="6.96" fill="#6b0d6e"/>
<rect x="549.36" y="260.54" width="5.29" height="6.96" fill="#5d086c"/>
<rect x="554.59" y="260.54" width="5.29" height="6.96" fill="#57076b"/>
<rect x="559.83" y="260.54" width="5.29" height="6.96" fill="#610a6d"/>
<rect x="565.06" y="260.54" width="5.29" height="6.96" fill="#57076b"/>
<rect x="570.30" y="260.54" width="5.29" height="6.96" fill="#57076b"/>
<rect x="575.53" y="260.54" width="5.29" height="6.96" fill="#670b6d"/>
<rect x="580.77" y="260.54" width="5.29" height="6.96" fill="#5d086c"/>
<rect x="586.00" y="260.54" width="5.29" height="6.96" fill="#7b136e"/>
<rect x="303.31" y="253.63" width="5.29" height="6.96" fill="#ff8402"/>
<rect x="308.55" y="253.63" width="5.29" height="6.96" fill="#ff760e"/>
<rect x="313.78" y="253.63" width="5.29" height="6.96" fill="#ff8501"/>
<rect x="319.02" y="253.63" width="5.29" height="6.96" fill="#ff8203"/>
<rect x="324.25" y="253.63" width="5.29" height="6.96" fill="#ff790b"/>
<rect x="329.49" y="253.63" width="5.29" height="6.96" fill="#ff8c00"/>
<rect x="334.72" y="253.63" width="5.29" height="6.96" fill="#ff7b09"/>
<rect x="339.96" y="253.63" width="5.29" height="6.96" fill="#ff6919"/>
<rect x="345.19" y="253.63" width="5.29" height="6.96" fill="#ff9000"/>
<rect x="350.43" y="253.63" width="5.29" height="6.96" fill="#ff8501"/>
<rect x="355.66" y="253.63" width="5.29" height="6.96" fill="#ff9d00"/>
<rect x="360.90" y="253.63" width="5.29" height="6.96" fill="#ff8b00"/>
<rect x="366.13" y="253.63" width="5.29" height="6.96" fill="#ff8700"/>
<rect x="371.37" y="253.63" width="5.29" height="6.96" fill="#ffa600"/>
<rect x="376.60" y="253.63" width="5.29" height="6.96" fill="#ff8e00"/>
<rect x="381.84" y="253.63" width="5.29" height="6.96" fill="#ff9f00"/>
<rect x="387.07" y="253.63" width="5.29" height="6.96" fill="#ffae03"/>
<rect x="392.31" y="253.63" width="5.29" height="6.96" fill="#ffa300"/>
<rect x="397.54" y="253.63" width="5.29" height="6.96" fill="#ffa300"/>
<rect x="402.78" y="253.63" width="5.29" height="6.96" fill="#ffa500"/>
<rect x="408.01" y="253.63" width="5.29" height="6.96" fill="#ffac01"/>
<rect x="413.25" y="253.63" width="5.29" height="6.96" fill="#ff9900"/>
<rect x="418.48" y="253.63" width="5.29" height="6.96" fill="#ffa800"/>
<rect x="423.72" y="253.63" width="5.29" height="6.96" fill="#ffa600"/>
<rect x="428.95" y="253.63" width="5.29" height="6.96" fill="#ffb80e"/>
<rect x="434.19" y="253.63" width="5.29" height="6.96" fill="#ff9200"/>
<rect x="439.42" y="253.63" width="5.29" height="6.96" fill="#ff8402"/>
<rect x="444.66" y="253.63" width="5.29" height="6.96" fill="#ff8900"/>
<rect x="449.89" y="253.63" width="5.29" height="6.96" fill="#ff6f13"/>
<rect x="455.13" y="253.63" width="5.29" height="6.96" fill="#ff6120"/>
<rect x="460.36" y="253.63" width="5.29" height="6.96" fill="#ff5032"/>
<rect x="465.60" y="253.63" width="5.29" height="6.96" fill="#e63b4a"/>
<rect x="470.83" y="253.63" width="5.29" height="6.96" fill="#cc2e59"/>
<rect x="476.07" y="253.63" width="5.29" height="6.96" fill="#c42b5d"/>
<rect x="481.30" y="253.63" width="5.29" height="6.96" fill="#9d1e6a"/>
<rect x="486.54" y="253.63" width="5.29" height="6.96" fill="#a72168"/>
<rect x="491.77" y="253.63" width="5.29" height="6.96" fill="#b92761"/>
<rect x="497.01" y="253.63" width="5.29" height="6.96" fill="#9b1d6a"/>
<rect x="502.24" y="253.63" width="5.29" height="6.96" fill="#941b6c"/>
<rect x="507.48" y="253.63" width="5.29" height="6.96" fill="#87166d"/>
<rect x="512.71" y="253.63" width="5.29" height="6.96" fill="#941b6c"/>
<rect x="517.95" y="253.63" width="5.29" height="6.96" fill="#8a186d"/>
<rect x="523.18" y="253.63" width="5.29" height="6.96" fill="#78116e"/>
<rect x="528.42" y="253.63" width="5.29" height="6.96" fill="#87166d"/>
<rect x="533.65" y="253.63" width="5.29" height="6.96" fill="#7d136e"/>
<rect x="538.89" y="253.63" width="5.29" height="6.96" fill="#7f146e"/>
<rect x="544.12" y="253.63" width="5.29" height="6.96" fill="#6c0d6e"/>
<rect x="549.36" y="253.63" width="5.29" height="6.96" fill="#83156e"/>
<rect x="554.59" y="253.63" width="5.29" height="6.96" fill="#720f6e"/>
<rect x="559.83" y="253.63" width="5.29" height="6.96" fill="#690c6d"/>
<rect x="565.06" y="253.63" width="5.29" height="6.96" fill="#630a6d"/>
<rect x="570.30" y="253.63" width="5.29" height="6.96" fill="#630a6d"/>
<rect x="575.53" y="253.63" width="5.29" height="6.96" fill="#6c0d6e"/>
<rect x="580.77" y="253.63" width="5.29" height="6.96" fill="#5f096c"/>
<rect x="586.00" y="253.63" width="5.29" height="6.96" fill="#6b0d6e"/>
<rect x="303.31" y="246.73" width="5.29" height="6.96" fill="#ff8005"/>
<rect x="308.55" y="246.73" width="5.29" height="6.96" fill="#ff8900"/>
<rect x="313.78" y="246.73" width="5.29" height="6.96" fill="#ff8501"/>
<rect x="319.02" y="246.73" width="5.29" height="6.96" fill="#ff7e06"/>
<rect x="324.25" y="246.73" width="5.29" height="6.96" fill="#d83453"/>
<rect x="329.49" y="246.73" width="5.29" height="6.96" fill="#ff8501"/>
<rect x="334.72" y="246.73" width="5.29" height="6.96" fill="#ff8b00"/>
<rect x="339.96" y="246.73" width="5.29" height="6.96" fill="#ff8700"/>
<rect x="345.19" y="246.73" width="5.29" height="6.96" fill="#ff8c00"/>
<rect x="350.43" y="246.73" width="5.29" height="6.96" fill="#ff8501"/>
<rect x="355.66" y="246.73" width="5.29" height="6.96" fill="#ff8700"/>
<rect x="360.90" y="246.73" width="5.29" height="6.96" fill="#ff8402"/>
<rect x="366.13" y="246.73" width="5.29" height="6.96" fill="#ff9d00"/>
<rect x="371.37" y="246.73" width="5.29" height="6.96" fill="#ff9400"/>
<rect x="376.60" y="246.73" width="5.29" height="6.96" fill="#ff9000"/>
<rect x="381.84" y="246.73" width="5.29" height="6.96" fill="#ff8b00"/>
<rect x="387.07" y="246.73" width="5.29" height="6.96" fill="#ff9900"/>
<rect x="392.31" y="246.73" width="5.29" height="6.96" fill="#ffac01"/>
<rect x="397.54" y="246.73" width="5.29" height="6.96" fill="#ffa500"/>
<rect x="402.78" y="246.73" width="5.29" height="6.96" fill="#ff9900"/>
<rect x="408.01" y="246.73" width="5.29" height="6.96" fill="#ffb207"/>
<rect x="413.25" y="246.73" width="5.29" height="6.96" fill="#ffb409"/>
<rect x="418.48" y="246.73" width="5.29" height="6.96" fill="#ffb005"/>
<rect x="423.72" y="246.73" width="5.29" height="6.96" fill="#ffae03"/>
<rect x="428.95" y="246.73" width="5.29" height="6.96" fill="#ffb207"/>
<rect x="434.19" y="246.73" width="5.29" height="6.96" fill="#ffa500"/>
<rect x="439.42" y="246.73" width="5.29" height="6.96" fill="#ff9f00"/>
<rect x="444.66" y="246.73" width="5.29" height="6.96" fill="#ff8402"/>
<rect x="449.89" y="246.73" width="5.29" height="6.96" fill="#ff8e00"/>
<rect x="455.13" y="246.73" width="5.29" height="6.96" fill="#ff760e"/>
<rect x="460.36" y="246.73" width="5.29" height="6.96" fill="#ff7b09"/>
<rect x="465.60" y="246.73" width="5.29" height="6.96" fill="#ff4d35"/>
<rect x="470.83" y="246.73" width="5.29" height="6.96" fill="#e3394c"/>
<rect x="476.07" y="246.73" width="5.29" height="6.96" fill="#da3552"/>
<rect x="481.30" y="246.73" width="5.29" height="6.96" fill="#c22b5e"/>
<rect x="486.54" y="246.73" width="5.29" height="6.96" fill="#c42b5d"/>
<rect x="491.77" y="246.73" width="5.29" height="6.96" fill="#bf295f"/>
<rect x="497.01" y="246.73" width="5.29" height="6.96" fill="#b42563"/>
<rect x="502.24" y="246.73" width="5.29" height="6.96" fill="#9f1f69"/>
<rect x="507.48" y="246.73" width="5.29" height="6.96" fill="#9b1d6a"/>
<rect x="512.71" y="246.73" width="5.29" height="6.96" fill="#a11f69"/>
<rect x="517.95" y="246.73" width="5.29" height="6.96" fill="#9d1e6a"/>
<rect x="523.18" y="246.73" width="5.29" height="6.96" fill="#8c186d"/>
<rect x="528.42" y="246.73" width="5.29" height="6.96" fill="#87166d"/>
<rect x="533.65" y="246.73" width="5.29" height="6.96" fill="#83156e"/>
<rect x="538.89" y="246.73" width="5.29" height="6.96" fill="#87166d"/>
<rect x="544.12" y="246.73" width="5.29" height="6.96" fill="#6e0e6e"/>
<rect x="549.36" y="246.73" width="5.29" height="6.96" fill="#670b6d"/>
<rect x="554.59" y="246.73" width="5.29" height="6.96" fill="#720f6e"/>
<rect x="559.83" y="246.73" width="5.29" height="6.96" fill="#630a6d"/>
<rect x="565.06" y="246.73" width="5.29" height="6.96" fill="#650b6d"/>
<rect x="570.30" y="246.73" width="5.29" height="6.96" fill="#6b0d6e"/>
<rect x="575.53" y="246.73" width="5.29" height="6.96" fill="#6c0d6e"/>
<rect x="580.77" y="246.73" width="5.29" height="6.96" fill="#59076b"/>
<rect x="586.00" y="246.73" width="5.29" height="6.96" fill="#6c0d6e"/>
<rect x="303.31" y="239.83" width="5.29" height="6.96" fill="#da3552"/>
<rect x="308.55" y="239.83" width="5.29" height="6.96" fill="#e93d48"/>
<rect x="313.78" y="239.83" width="5.29" height="6.96" fill="#da3552"/>
<rect x="319.02" y="239.83" width="5.29" height="6.96" fill="#dd3750"/>
<rect x="324.25" y="239.83" width="5.29" height="6.96" fill="#e93d48"/>
<rect x="329.49" y="239.83" width="5.29" height="6.96" fill="#e3394c"/>
<rect x="334.72" y="239.83" width="5.29" height="6.96" fill="#e1384d"/>
<rect x="339.96" y="239.83" width="5.29" height="6.96" fill="#e3394c"/>
<rect x="345.19" y="239.83" width="5.29" height="6.96" fill="#e83c49"/>
<rect x="350.43" y="239.83" width="5.29" height="6.96" fill="#e43a4b"/>
<rect x="355.66" y="239.83" width="5.29" height="6.96" fill="#e63b4a"/>
<rect x="360.90" y="239.83" width="5.29" height="6.96" fill="#ec3f45"/>
<rect x="366.13" y="239.83" width="5.29" height="6.96" fill="#ff8402"/>
<rect x="371.37" y="239.83" width="5.29" height="6.96" fill="#ff8900"/>
<rect x="376.60" y="239.83" width="5.29" height="6.96" fill="#ff8b00"/>
<rect x="381.84" y="239.83" width="5.29" height="6.96" fill="#ff9f00"/>
<rect x="387.07" y="239.83" width="5.29" height="6.96" fill="#ffa100"/>
<rect x="392.31" y="239.83" width="5.29" height="6.96" fill="#ffa600"/>
<rect x="397.54" y="239.83" width="5.29" height="6.96" fill="#ff9b00"/>
<rect x="402.78" y="239.83" width="5.29" height="6.96" fill="#ff9d00"/>
<rect x="408.01" y="239.83" width="5.29" height="6.96" fill="#ffaa00"/>
<rect x="413.25" y="239.83" width="5.29" height="6.96" fill="#ffa100"/>
<rect x="418.48" y="239.83" width="5.29" height="6.96" fill="#ffb005"/>
<rect x="423.72" y="239.83" width="5.29" height="6.96" fill="#ffb207"/>
<rect x="428.95" y="239.83" width="5.29" height="6.96" fill="#ffa500"/>
<rect x="434.19" y="239.83" width="5.29" height="6.96" fill="#fff16c"/>
<rect x="439.42" y="239.83" width="5.29" height="6.96" fill="#ff9d00"/>
<rect x="444.66" y="239.83" width="5.29" height="6.96" fill="#ffaa00"/>
<rect x="449.89" y="239.83" width="5.29" height="6.96" fill="#ffaa00"/>
<rect x="455.13" y="239.83" width="5.29" height="6.96" fill="#ff8700"/>
<rect x="460.36" y="239.83" width="5.29" height="6.96" fill="#ff7b09"/>
<rect x="465.60" y="239.83" width="5.29" height="6.96" fill="#ff5c26"/>
<rect x="470.83" y="239.83" width="5.29" height="6.96" fill="#ff5e23"/>
<rect x="476.07" y="239.83" width="5.29" height="6.96" fill="#df374e"/>
<rect x="481.30" y="239.83" width="5.29" height="6.96" fill="#cd2f59"/>
<rect x="486.54" y="239.83" width="5.29" height="6.96" fill="#d53255"/>
<rect x="491.77" y="239.83" width="5.29" height="6.96" fill="#b22564"/>
<rect x="497.01" y="239.83" width="5.29" height="6.96" fill="#b52663"/>
<rect x="502.24" y="239.83" width="5.29" height="6.96" fill="#b02465"/>
<rect x="507.48" y="239.83" width="5.29" height="6.96" fill="#991d6b"/>
<rect x="512.71" y="239.83" width="5.29" height="6.96" fill="#a82267"/>
<rect x="517.95" y="239.83" width="5.29" height="6.96" fill="#a52068"/>
<rect x="523.18" y="239.83" width="5.29" height="6.96" fill="#83156e"/>
<rect x="528.42" y="239.83" width="5.29" height="6.96" fill="#7d136e"/>
<rect x="533.65" y="239.83" width="5.29" height="6.96" fill="#8e196c"/>
<rect x="538.89" y="239.83" width="5.29" height="6.96" fill="#83156e"/>
<rect x="544.12" y="239.83" width="5.29" height="6.96" fill="#720f6e"/>
<rect x="549.36" y="239.83" width="5.29" height="6.96" fill="#76116e"/>
<rect x="554.59" y="239.83" width="5.29" height="6.96" fill="#74106e"/>
<rect x="559.83" y="239.83" width="5.29" height="6.96" fill="#720f6e"/>
<rect x="565.06" y="239.83" width="5.29" height="6.96" fill="#78116e"/>
<rect x="570.30" y="239.83" width="5.29" height="6.96" fill="#720f6e"/>
<rect x="575.53" y="239.83" width="5.29" height="6.96" fill="#7d136e"/>
<rect x="580.77" y="239.83" width="5.29" height="6.96" fill="#78116e"/>
<rect x="586.00" y="239.83" width="5.29" height="6.96" fill="#6e0e6e"/>
<rect x="303.31" y="232.93" width="5.29" height="6.96" fill="#ec3f45"/>
<rect x="308.55" y="232.93" width="5.29" height="6.96" fill="#ec3f45"/>
<rect x="313.78" y="232.93" width="5.29" height="6.96" fill="#e93d48"/>
<rect x="319.02" y="232.93" width="5.29" height="6.96" fill="#dd3750"/>
<rect x="324.25" y="232.93" width="5.29" height="6.96" fill="#eb3e46"/>
<rect x="329.49" y="232.93" width="5.29" height="6.96" fill="#e63b4a"/>
<rect x="334.72" y="232.93" width="5.29" height="6.96" fill="#ec3f45"/>
<rect x="339.96" y="232.93" width="5.29" height="6.96" fill="#e63b4a"/>
<rect x="345.19" y="232.93" width="5.29" height="6.96" fill="#e93d48"/>
<rect x="350.43" y="232.93" width="5.29" height="6.96" fill="#e83c49"/>
<rect x="355.66" y="232.93" width="5.29" height="6.96" fill="#ec3f45"/>
<rect x="360.90" y="232.93" width="5.29" height="6.96" fill="#e63b4a"/>
<rect x="366.13" y="232.93" width="5.29" height="6.96" fill="#e43a4b"/>
<rect x="371.37" y="232.93" width="5.29" height="6.96" fill="#e83c49"/>
<rect x="376.60" y="232.93" width="5.29" height="6.96" fill="#e3394c"/>
<rect x="381.84" y="232.93" width="5.29" height="6.96" fill="#ff8c00"/>
<rect x="387.07" y="232.93" width="5.29" height="6.96" fill="#ff8e00"/>
<rect x="392.31" y="232.93" width="5.29" height="6.96" fill="#ff9400"/>
<rect x="397.54" y="232.93" width="5.29" height="6.96" fill="#ffa800"/>
<rect x="402.78" y="232.93" width="5.29" height="6.96" fill="#ff9200"/>
<rect x="408.01" y="232.93" width="5.29" height="6.96" fill="#ff9700"/>
<rect x="413.25" y="232.93" width="5.29" height="6.96" fill="#ff9700"/>
<rect x="418.48" y="232.93" width="5.29" height="6.96" fill="#ffa300"/>
<rect x="423.72" y="232.93" width="5.29" height="6.96" fill="#ff9200"/>
<rect x="428.95" y="232.93" width="5.29" height="6.96" fill="#ff9700"/>
<rect x="434.19" y="232.93" width="5.29" height="6.96" fill="#ff9f00"/>
<rect x="439.42" y="232.93" width="5.29" height="6.96" fill="#ffa500"/>
<rect x="444.66" y="232.93" width="5.29" height="6.96" fill="#ff9d00"/>
<rect x="449.89" y="232.93" width="5.29" height="6.96" fill="#ff9700"/>
<rect x="455.13" y="232.93" width="5.29" height="6.96" fill="#ff9000"/>
<rect x="460.36" y="232.93" width="5.29" height="6.96" fill="#ff9700"/>
<rect x="465.60" y="232.93" width="5.29" height="6.96" fill="#ff9700"/>
<rect x="470.83" y="232.93" width="5.29" height="6.96" fill="#ff7e06"/>
<rect x="476.07" y="232.93" width="5.29" height="6.96" fill="#ff7112"/>
<rect x="481.30" y="232.93" width="5.29" height="6.96" fill="#ff5c26"/>
<rect x="486.54" y="232.93" width="5.29" height="6.96" fill="#d13157"/>
<rect x="491.77" y="232.93" width="5.29" height="6.96" fill="#ca2e5a"/>
<rect x="497.01" y="232.93" width="5.29" height="6.96" fill="#c12a5e"/>
<rect x="502.24" y="232.93" width="5.29" height="6.96" fill="#bd2960"/>
<rect x="507.48" y="232.93" width="5.29" height="6.96" fill="#b02465"/>
<rect x="512.71" y="232.93" width="5.29" height="6.96" fill="#9b1d6a"/>
<rect x="517.95" y="232.93" width="5.29" height="6.96" fill="#ac2366"/>
<rect x="523.18" y="232.93" width="5.29" height="6.96" fill="#ac2366"/>
<rect x="528.42" y="232.93" width="5.29" height="6.96" fill="#901a6c"/>
<rect x="533.65" y="232.93" width="5.29" height="6.96" fill="#921a6c"/>
<rect x="538.89" y="232.93" width="5.29" height="6.96" fill="#8a186d"/>
<rect x="544.12" y="232.93" width="5.29" height="6.96" fill="#8a186d"/>
<rect x="549.36" y="232.93" width="5.29" height="6.96" fill="#6e0e6e"/>
<rect x="554.59" y="232.93" width="5.29" height="6.96" fill="#8a186d"/>
<rect x="559.83" y="232.93" width="5.29" height="6.96" fill="#720f6e"/>
<rect x="565.06" y="232.93" width="5.29" height="6.96" fill="#81156e"/>
<rect x="570.30" y="232.93" width="5.29" height="6.96" fill="#720f6e"/>
<rect x="575.53" y="232.93" width="5.29" height="6.96" fill="#6b0d6e"/>
<rect x="580.77" y="232.93" width="5.29" height="6.96" fill="#6b0d6e"/>
<rect x="586.00" y="232.93" width="5.29" height="6.96" fill="#74106e"/>
<rect x="303.31" y="226.02" width="5.29" height="6.96" fill="#df374e"/>
<rect x="308.55" y="226.02" width="5.29" height="6.96" fill="#e3394c"/>
<rect x="313.78" y="226.02" width="5.29" height="6.96" fill="#e3394c"/>
<rect x="319.02" y="226.02" width="5.29" height="6.96" fill="#da3552"/>
<rect x="324.25" y="226.02" width="5.29" height="6.96" fill="#ec3f45"/>
<rect x="329.49" y="226.02" width="5.29" height="6.96" fill="#e93d48"/>
<rect x="334.72" y="226.02" width="5.29" height="6.96" fill="#e63b4a"/>
<rect x="339.96" y="226.02" width="5.29" height="6.96" fill="#ec3f45"/>
<rect x="345.19" y="226.02" width="5.29" height="6.96" fill="#df374e"/>
<rect x="350.43" y="226.02" width="5.29" height="6.96" fill="#e43a4b"/>
<rect x="355.66" y="226.02" width="5.29" height="6.96" fill="#ec3f45"/>
<rect x="360.90" y="226.02" width="5.29" height="6.96" fill="#eb3e46"/>
<rect x="366.13" y="226.02" width="5.29" height="6.96" fill="#d63354"/>
<rect x="371.37" y="226.02" width="5.29" height="6.96" fill="#cf3058"/>
<rect x="376.60" y="226.02" width="5.29" height="6.96" fill="#ff760e"/>
<rect x="381.84" y="226.02" width="5.29" height="6.96" fill="#ec3f45"/>
<rect x="387.07" y="226.02" width="5.29" height="6.96" fill="#ff8203"/>
<rect x="392.31" y="226.02" width="5.29" height="6.96" fill="#ff8700"/>
<rect x="397.54" y="226.02" width="5.29" height="6.96" fill="#ff9200"/>
<rect x="402.78" y="226.02" width="5.29" height="6.96" fill="#ff8402"/>
<rect x="408.01" y="226.02" width="5.29" height="6.96" fill="#ff9000"/>
<rect x="413.25" y="226.02" width="5.29" height="6.96" fill="#ff9700"/>
<rect x="418.48" y="226.02" width="5.29" height="6.96" fill="#ff9600"/>
<rect x="423.72" y="226.02" width="5.29" height="6.96" fill="#ff9600"/>
<rect x="428.95" y="226.02" width="5.29" height="6.96" fill="#ff8c00"/>
<rect x="434.19" y="226.02" width="5.29" height="6.96" fill="#ff9d00"/>
<rect x="439.42" y="226.02" width="5.29" height="6.96" fill="#ff9900"/>
<rect x="444.66" y="226.02" width="5.29" height="6.96" fill="#ffb005"/>
<rect x="449.89" y="226.02" width="5.29" height="6.96" fill="#ffc219"/>
<rect x="455.13" y="226.02" width="5.29" height="6.96" fill="#ffa100"/>
<rect x="460.36" y="226.02" width="5.29" height="6.96" fill="#ff9400"/>
<rect x="465.60" y="226.02" width="5.29" height="6.96" fill="#ff9d00"/>
<rect x="470.83" y="226.02" width="5.29" height="6.96" fill="#ff9d00"/>
<rect x="476.07" y="226.02" width="5.29" height="6.96" fill="#ff9600"/>
<rect x="481.30" y="226.02" width="5.29" height="6.96" fill="#ff8005"/>
<rect x="486.54" y="226.02" width="5.29" height="6.96" fill="#ff532e"/>
<rect x="491.77" y="226.02" width="5.29" height="6.96" fill="#d33156"/>
<rect x="497.01" y="226.02" width="5.29" height="6.96" fill="#dd3750"/>
<rect x="502.24" y="226.02" width="5.29" height="6.96" fill="#b92761"/>
<rect x="507.48" y="226.02" width="5.29" height="6.96" fill="#c62c5c"/>
<rect x="512.71" y="226.02" width="5.29" height="6.96" fill="#b02465"/>
<rect x="517.95" y="226.02" width="5.29" height="6.96" fill="#b02465"/>
<rect x="523.18" y="226.02" width="5.29" height="6.96" fill="#a72168"/>
<rect x="528.42" y="226.02" width="5.29" height="6.96" fill="#a11f69"/>
<rect x="533.65" y="226.02" width="5.29" height="6.96" fill="#9b1d6a"/>
<rect x="538.89" y="226.02" width="5.29" height="6.96" fill="#81156e"/>
<rect x="544.12" y="226.02" width="5.29" height="6.96" fill="#8a186d"/>
<rect x="549.36" y="226.02" width="5.29" height="6.96" fill="#83156e"/>
<rect x="554.59" y="226.02" width="5.29" height="6.96" fill="#81156e"/>
<rect x="559.83" y="226.02" width="5.29" height="6.96" fill="#87166d"/>
<rect x="565.06" y="226.02" width="5.29" height="6.96" fill="#74106e"/>
<rect x="570.30" y="226.02" width="5.29" height="6.96" fill="#6c0d6e"/>
<rect x="575.53" y="226.02" width="5.29" height="6.96" fill="#6b0d6e"/>
<rect x="580.77" y="226.02" width="5.29" height="6.96" fill="#6c0d6e"/>
<rect x="586.00" y="226.02" width="5.29" height="6.96" fill="#76116e"/>
<rect x="303.31" y="219.12" width="5.29" height="6.96" fill="#ff671b"/>
<rect x="308.55" y="219.12" width="5.29" height="6.96" fill="#ff7b09"/>
<rect x="313.78" y="219.12" width="5.29" height="6.96" fill="#ff7311"/>
<rect x="319.02" y="219.12" width="5.29" height="6.96" fill="#ff6e15"/>
<rect x="324.25" y="219.12" width="5.29" height="6.96" fill="#ff641d"/>
<rect x="329.49" y="219.12" width="5.29" height="6.96" fill="#ff7112"/>
<rect x="334.72" y="219.12" width="5.29" height="6.96" fill="#ff760e"/>
<rect x="339.96" y="219.12" width="5.29" height="6.96" fill="#ff6120"/>
<rect x="345.19" y="219.12" width="5.29" height="6.96" fill="#ff7b09"/>
<rect x="350.43" y="219.12" width="5.29" height="6.96" fill="#ff8005"/>
<rect x="355.66" y="219.12" width="5.29" height="6.96" fill="#e83c49"/>
<rect x="360.90" y="219.12" width="5.29" height="6.96" fill="#ff780c"/>
<rect x="366.13" y="219.12" width="5.29" height="6.96" fill="#ff8b00"/>
<rect x="371.37" y="219.12" width="5.29" height="6.96" fill="#ff8005"/>
<rect x="376.60" y="219.12" width="5.29" height="6.96" fill="#ff6c16"/>
<rect x="381.84" y="219.12" width="5.29" height="6.96" fill="#e63b4a"/>
<rect x="387.07" y="219.12" width="5.29" height="6.96" fill="#e43a4b"/>
<rect x="392.31" y="219.12" width="5.29" height="6.96" fill="#ff740f"/>
<rect x="397.54" y="219.12" width="5.29" height="6.96" fill="#ff6120"/>
<rect x="402.78" y="219.12" width="5.29" height="6.96" fill="#ff7e06"/>
<rect x="408.01" y="219.12" width="5.29" height="6.96" fill="#ff6f13"/>
<rect x="413.25" y="219.12" width="5.29" height="6.96" fill="#ff760e"/>
<rect x="418.48" y="219.12" width="5.29" height="6.96" fill="#e93d48"/>
<rect x="423.72" y="219.12" width="5.29" height="6.96" fill="#ff7d08"/>
<rect x="428.95" y="219.12" width="5.29" height="6.96" fill="#ff7112"/>
<rect x="434.19" y="219.12" width="5.29" height="6.96" fill="#ff740f"/>
<rect x="439.42" y="219.12" width="5.29" height="6.96" fill="#ff8b00"/>
<rect x="444.66" y="219.12" width="5.29" height="6.96" fill="#ff9d00"/>
<rect x="449.89" y="219.12" width="5.29" height="6.96" fill="#ff9400"/>
<rect x="455.13" y="219.12" width="5.29" height="6.96" fill="#ffae03"/>
<rect x="460.36" y="219.12" width="5.29" height="6.96" fill="#ffaa00"/>
<rect x="465.60" y="219.12" width="5.29" height="6.96" fill="#ff9b00"/>
<rect x="470.83" y="219.12" width="5.29" height="6.96" fill="#ffa800"/>
<rect x="476.07" y="219.12" width="5.29" height="6.96" fill="#ff8402"/>
<rect x="481.30" y="219.12" width="5.29" height="6.96" fill="#ff8900"/>
<rect x="486.54" y="219.12" width="5.29" height="6.96" fill="#ff6a18"/>
<rect x="491.77" y="219.12" width="5.29" height="6.96" fill="#ff5e23"/>
<rect x="497.01" y="219.12" width="5.29" height="6.96" fill="#cf3058"/>
<rect x="502.24" y="219.12" width="5.29" height="6.96" fill="#c62c5c"/>
<rect x="507.48" y="219.12" width="5.29" height="6.96" fill="#cd2f59"/>
<rect x="512.71" y="219.12" width="5.29" height="6.96" fill="#b92761"/>
<rect x="517.95" y="219.12" width="5.29" height="6.96" fill="#ae2465"/>
<rect x="523.18" y="219.12" width="5.29" height="6.96" fill="#a11f69"/>
<rect x="528.42" y="219.12" width="5.29" height="6.96" fill="#a32068"/>
<rect x="533.65" y="219.12" width="5.29" height="6.96" fill="#89176d"/>
<rect x="538.89" y="219.12" width="5.29" height="6.96" fill="#85166d"/>
<rect x="544.12" y="219.12" width="5.29" height="6.96" fill="#8a186d"/>
<rect x="549.36" y="219.12" width="5.29" height="6.96" fill="#7d136e"/>
<rect x="554.59" y="219.12" width="5.29" height="6.96" fill="#7b136e"/>
<rect x="559.83" y="219.12" width="5.29" height="6.96" fill="#7d136e"/>
<rect x="565.06" y="219.12" width="5.29" height="6.96" fill="#7a126e"/>
<rect x="570.30" y="219.12" width="5.29" height="6.96" fill="#76116e"/>
<rect x="575.53" y="219.12" width="5.29" height="6.96" fill="#87166d"/>
<rect x="580.77" y="219.12" width="5.29" height="6.96" fill="#7d136e"/>
<rect x="586.00" y="219.12" width="5.29" height="6.96" fill="#7d136e"/>
<rect x="303.31" y="212.22" width="5.29" height="6.96" fill="#ff6c16"/>
<rect x="308.55" y="212.22" width="5.29" height="6.96" fill="#ff671b"/>
<rect x="313.78" y="212.22" width="5.29" height="6.96" fill="#ff6022"/>
<rect x="319.02" y="212.22" width="5.29" height="6.96" fill="#ff6919"/>
<rect x="324.25" y="212.22" width="5.29" height="6.96" fill="#ff5a27"/>
<rect x="329.49" y="212.22" width="5.29" height="6.96" fill="#ff661c"/>
<rect x="334.72" y="212.22" width="5.29" height="6.96" fill="#ff7311"/>
<rect x="339.96" y="212.22" width="5.29" height="6.96" fill="#ff7b09"/>
<rect x="345.19" y="212.22" width="5.29" height="6.96" fill="#ff740f"/>
<rect x="350.43" y="212.22" width="5.29" height="6.96" fill="#ff641d"/>
<rect x="355.66" y="212.22" width="5.29" height="6.96" fill="#ff6f13"/>
<rect x="360.90" y="212.22" width="5.29" height="6.96" fill="#ff641d"/>
<rect x="366.13" y="212.22" width="5.29" height="6.96" fill="#ff7311"/>
<rect x="371.37" y="212.22" width="5.29" height="6.96" fill="#ff6919"/>
<rect x="376.60" y="212.22" width="5.29" height="6.96" fill="#ff7112"/>
<rect x="381.84" y="212.22" width="5.29" height="6.96" fill="#ff8005"/>
<rect x="387.07" y="212.22" width="5.29" height="6.96" fill="#ff6f13"/>
<rect x="392.31" y="212.22" width="5.29" height="6.96" fill="#ff7b09"/>
<rect x="397.54" y="212.22" width="5.29" height="6.96" fill="#ff661c"/>
<rect x="402.78" y="212.22" width="5.29" height="6.96" fill="#ff6022"/>
<rect x="408.01" y="212.22" width="5.29" height="6.96" fill="#ff6a18"/>
<rect x="413.25" y="212.22" width="5.29" height="6.96" fill="#ff6c16"/>
<rect x="418.48" y="212.22" width="5.29" height="6.96" fill="#ff572a"/>
<rect x="423.72" y="212.22" width="5.29" height="6.96" fill="#ff5a27"/>
<rect x="428.95" y="212.22" width="5.29" height="6.96" fill="#ff4d35"/>
<rect x="434.19" y="212.22" width="5.29" height="6.96" fill="#ff6022"/>
<rect x="439.42" y="212.22" width="5.29" height="6.96" fill="#ff760e"/>
<rect x="444.66" y="212.22" width="5.29" height="6.96" fill="#ff790b"/>
<rect x="449.89" y="212.22" width="5.29" height="6.96" fill="#ff8203"/>
<rect x="455.13" y="212.22" width="5.29" height="6.96" fill="#ff8501"/>
<rect x="460.36" y="212.22" width="5.29" height="6.96" fill="#ffa300"/>
<rect x="465.60" y="212.22" width="5.29" height="6.96" fill="#ff9d00"/>
<rect x="470.83" y="212.22" width="5.29" height="6.96" fill="#ff8e00"/>
<rect x="476.07" y="212.22" width="5.29" height="6.96" fill="#ff7d08"/>
<rect x="481.30" y="212.22" width="5.29" height="6.96" fill="#ff6120"/>
<rect x="486.54" y="212.22" width="5.29" height="6.96" fill="#ff7311"/>
<rect x="491.77" y="212.22" width="5.29" height="6.96" fill="#ff631f"/>
<rect x="497.01" y="212.22" width="5.29" height="6.96" fill="#ff5032"/>
<rect x="502.24" y="212.22" width="5.29" height="6.96" fill="#dd3750"/>
<rect x="507.48" y="212.22" width="5.29" height="6.96" fill="#b42563"/>
<rect x="512.71" y="212.22" width="5.29" height="6.96" fill="#bd2960"/>
<rect x="517.95" y="212.22" width="5.29" height="6.96" fill="#b22564"/>
<rect x="523.18" y="212.22" width="5.29" height="6.96" fill="#ae2465"/>
<rect x="528.42" y="212.22" width="5.29" height="6.96" fill="#b02465"/>
<rect x="533.65" y="212.22" width="5.29" height="6.96" fill="#9f1f69"/>
<rect x="538.89" y="212.22" width="5.29" height="6.96" fill="#81156e"/>
<rect x="544.12" y="212.22" width="5.29" height="6.96" fill="#8a186d"/>
<rect x="549.36" y="212.22" width="5.29" height="6.96" fill="#8c186d"/>
<rect x="554.59" y="212.22" width="5.29" height="6.96" fill="#87166d"/>
<rect x="559.83" y="212.22" width="5.29" height="6.96" fill="#74106e"/>
<rect x="565.06" y="212.22" width="5.29" height="6.96" fill="#6c0d6e"/>
<rect x="570.30" y="212.22" width="5.29" height="6.96" fill="#81156e"/>
<rect x="575.53" y="212.22" width="5.29" height="6.96" fill="#7b136e"/>
<rect x="580.77" y="212.22" width="5.29" height="6.96" fill="#76116e"/>
<rect x="586.00" y="212.22" width="5.29" height="6.96" fill="#610a6d"/>
<rect x="303.31" y="205.31" width="5.29" height="6.96" fill="#ff7d08"/>
<rect x="308.55" y="205.31" width="5.29" height="6.96" fill="#ff552d"/>
<rect x="313.78" y="205.31" width="5.29" height="6.96" fill="#ff6919"/>
<rect x="319.02" y="205.31" width="5.29" height="6.96" fill="#ff7e06"/>
<rect x="324.25" y="205.31" width="5.29" height="6.96" fill="#ff6a18"/>
<rect x="329.49" y="205.31" width="5.29" height="6.96" fill="#ff6e15"/>
<rect x="334.72" y="205.31" width="5.29" height="6.96" fill="#ff6120"/>
<rect x="339.96" y="205.31" width="5.29" height="6.96" fill="#ff780c"/>
<rect x="345.19" y="205.31" width="5.29" height="6.96" fill="#ff6022"/>
<rect x="350.43" y="205.31" width="5.29" height="6.96" fill="#ff6c16"/>
<rect x="355.66" y="205.31" width="5.29" height="6.96" fill="#ff6a18"/>
<rect x="360.90" y="205.31" width="5.29" height="6.96" fill="#ff6022"/>
<rect x="366.13" y="205.31" width="5.29" height="6.96" fill="#ff6f13"/>
<rect x="371.37" y="205.31" width="5.29" height="6.96" fill="#ff5a27"/>
<rect x="376.60" y="205.31" width="5.29" height="6.96" fill="#ff5e23"/>
<rect x="381.84" y="205.31" width="5.29" height="6.96" fill="#ff631f"/>
<rect x="387.07" y="205.31" width="5.29" height="6.96" fill="#ff5d24"/>
<rect x="392.31" y="205.31" width="5.29" height="6.96" fill="#ff631f"/>
<rect x="397.54" y="205.31" width="5.29" height="6.96" fill="#ff661c"/>
<rect x="402.78" y="205.31" width="5.29" height="6.96" fill="#ff5929"/>
<rect x="408.01" y="205.31" width="5.29" height="6.96" fill="#ff552d"/>
<rect x="413.25" y="205.31" width="5.29" height="6.96" fill="#ff532e"/>
<rect x="418.48" y="205.31" width="5.29" height="6.96" fill="#ff522f"/>
<rect x="423.72" y="205.31" width="5.29" height="6.96" fill="#ff5929"/>
<rect x="428.95" y="205.31" width="5.29" height="6.96" fill="#ff5032"/>
<rect x="434.19" y="205.31" width="5.29" height="6.96" fill="#ff5929"/>
<rect x="439.42" y="205.31" width="5.29" height="6.96" fill="#ff5a27"/>
<rect x="444.66" y="205.31" width="5.29" height="6.96" fill="#ff5a27"/>
<rect x="449.89" y="205.31" width="5.29" height="6.96" fill="#ff6e15"/>
<rect x="455.13" y="205.31" width="5.29" height="6.96" fill="#e93d48"/>
<rect x="460.36" y="205.31" width="5.29" height="6.96" fill="#ff6f13"/>
<rect x="465.60" y="205.31" width="5.29" height="6.96" fill="#ff780c"/>
<rect x="470.83" y="205.31" width="5.29" height="6.96" fill="#e93d48"/>
<rect x="476.07" y="205.31" width="5.29" height="6.96" fill="#ff5c26"/>
<rect x="481.30" y="205.31" width="5.29" height="6.96" fill="#f9473b"/>
<rect x="486.54" y="205.31" width="5.29" height="6.96" fill="#d83453"/>
<rect x="491.77" y="205.31" width="5.29" height="6.96" fill="#f9473b"/>
<rect x="497.01" y="205.31" width="5.29" height="6.96" fill="#ff4d35"/>
<rect x="502.24" y="205.31" width="5.29" height="6.96" fill="#d33156"/>
<rect x="507.48" y="205.31" width="5.29" height="6.96" fill="#cc2e59"/>
<rect x="512.71" y="205.31" width="5.29" height="6.96" fill="#cf3058"/>
<rect x="517.95" y="205.31" width="5.29" height="6.96" fill="#b72762"/>
<rect x="523.18" y="205.31" width="5.29" height="6.96" fill="#b22564"/>
<rect x="528.42" y="205.31" width="5.29" height="6.96" fill="#a32068"/>
<rect x="533.65" y="205.31" width="5.29" height="6.96" fill="#991d6b"/>
<rect x="538.89" y="205.31" width="5.29" height="6.96" fill="#8e196c"/>
<rect x="544.12" y="205.31" width="5.29" height="6.96" fill="#7d136e"/>
<rect x="549.36" y="205.31" width="5.29" height="6.96" fill="#8c186d"/>
<rect x="554.59" y="205.31" width="5.29" height="6.96" fill="#981c6b"/>
<rect x="559.83" y="205.31" width="5.29" height="6.96" fill="#89176d"/>
<rect x="565.06" y="205.31" width="5.29" height="6.96" fill="#7b136e"/>
<rect x="570.30" y="205.31" width="5.29" height="6.96" fill="#8e196c"/>
<rect x="575.53" y="205.31" width="5.29" height="6.96" fill="#76116e"/>
<rect x="580.77" y="205.31" width="5.29" height="6.96" fill="#720f6e"/>
<rect x="586.00" y="205.31" width="5.29" height="6.96" fill="#6b0d6e"/>
<rect x="303.31" y="198.41" width="5.29" height="6.96" fill="#ff631f"/>
<rect x="308.55" y="198.41" width="5.29" height="6.96" fill="#ff6919"/>
<rect x="313.78" y="198.41" width="5.29" height="6.96" fill="#ff7e06"/>
<rect x="319.02" y="198.41" width="5.29" height="6.96" fill="#ff6a18"/>
<rect x="324.25" y="198.41" width="5.29" height="6.96" fill="#ff631f"/>
<rect x="329.49" y="198.41" width="5.29" height="6.96" fill="#ff661c"/>
<rect x="334.72" y="198.41" width="5.29" height="6.96" fill="#ff6919"/>
<rect x="339.96" y="198.41" width="5.29" height="6.96" fill="#ff5c26"/>
<rect x="345.19" y="198.41" width="5.29" height="6.96" fill="#ff6a18"/>
<rect x="350.43" y="198.41" width="5.29" height="6.96" fill="#ff6e15"/>
<rect x="355.66" y="198.41" width="5.29" height="6.96" fill="#ff6919"/>
<rect x="360.90" y="198.41" width="5.29" height="6.96" fill="#ff6a18"/>
<rect x="366.13" y="198.41" width="5.29" height="6.96" fill="#ff5a27"/>
<rect x="371.37" y="198.41" width="5.29" height="6.96" fill="#ff552d"/>
<rect x="376.60" y="198.41" width="5.29" height="6.96" fill="#ff6a18"/>
<rect x="381.84" y="198.41" width="5.29" height="6.96" fill="#ff671b"/>
<rect x="387.07" y="198.41" width="5.29" height="6.96" fill="#ff5032"/>
<rect x="392.31" y="198.41" width="5.29" height="6.96" fill="#ff5a27"/>
<rect x="397.54" y="198.41" width="5.29" height="6.96" fill="#ff572a"/>
<rect x="402.78" y="198.41" width="5.29" height="6.96" fill="#ff5929"/>
<rect x="408.01" y="198.41" width="5.29" height="6.96" fill="#ff552d"/>
<rect x="413.25" y="198.41" width="5.29" height="6.96" fill="#ff4d35"/>
<rect x="418.48" y="198.41" width="5.29" height="6.96" fill="#ff5131"/>
<rect x="423.72" y="198.41" width="5.29" height="6.96" fill="#ff4e33"/>
<rect x="428.95" y="198.41" width="5.29" height="6.96" fill="#fd4b37"/>
<rect x="434.19" y="198.41" width="5.29" height="6.96" fill="#f34340"/>
<rect x="439.42" y="198.41" width="5.29" height="6.96" fill="#f34340"/>
<rect x="444.66" y="198.41" width="5.29" height="6.96" fill="#f7463d"/>
<rect x="449.89" y="198.41" width="5.29" height="6.96" fill="#f34340"/>
<rect x="455.13" y="198.41" width="5.29" height="6.96" fill="#ff4d35"/>
<rect x="460.36" y="198.41" width="5.29" height="6.96" fill="#ff5032"/>
<rect x="465.60" y="198.41" width="5.29" height="6.96" fill="#ff4d35"/>
<rect x="470.83" y="198.41" width="5.29" height="6.96" fill="#fa483a"/>
<rect x="476.07" y="198.41" width="5.29" height="6.96" fill="#e93d48"/>
<rect x="481.30" y="198.41" width="5.29" height="6.96" fill="#ff532e"/>
<rect x="486.54" y="198.41" width="5.29" height="6.96" fill="#d33156"/>
<rect x="491.77" y="198.41" width="5.29" height="6.96" fill="#e93d48"/>
<rect x="497.01" y="198.41" width="5.29" height="6.96" fill="#e43a4b"/>
<rect x="502.24" y="198.41" width="5.29" height="6.96" fill="#d63354"/>
<rect x="507.48" y="198.41" width="5.29" height="6.96" fill="#d63354"/>
<rect x="512.71" y="198.41" width="5.29" height="6.96" fill="#b52663"/>
<rect x="517.95" y="198.41" width="5.29" height="6.96" fill="#bd2960"/>
<rect x="523.18" y="198.41" width="5.29" height="6.96" fill="#a11f69"/>
<rect x="528.42" y="198.41" width="5.29" height="6.96" fill="#9b1d6a"/>
<rect x="533.65" y="198.41" width="5.29" height="6.96" fill="#921a6c"/>
<rect x="538.89" y="198.41" width="5.29" height="6.96" fill="#9b1d6a"/>
<rect x="544.12" y="198.41" width="5.29" height="6.96" fill="#89176d"/>
<rect x="549.36" y="198.41" width="5.29" height="6.96" fill="#8e196c"/>
<rect x="554.59" y="198.41" width="5.29" height="6.96" fill="#7d136e"/>
<rect x="559.83" y="198.41" width="5.29" height="6.96" fill="#901a6c"/>
<rect x="565.06" y="198.41" width="5.29" height="6.96" fill="#961b6b"/>
<rect x="570.30" y="198.41" width="5.29" height="6.96" fill="#81156e"/>
<rect x="575.53" y="198.41" width="5.29" height="6.96" fill="#8e196c"/>
<rect x="580.77" y="198.41" width="5.29" height="6.96" fill="#81156e"/>
<rect x="586.00" y="198.41" width="5.29" height="6.96" fill="#901a6c"/>
<rect x="303.31" y="191.51" width="5.29" height="6.96" fill="#ff7112"/>
<rect x="308.55" y="191.51" width="5.29" height="6.96" fill="#ff6120"/>
<rect x="313.78" y="191.51" width="5.29" height="6.96" fill="#ff7d08"/>
<rect x="319.02" y="191.51" width="5.29" height="6.96" fill="#ff6e15"/>
<rect x="324.25" y="191.51" width="5.29" height="6.96" fill="#ff661c"/>
<rect x="329.49" y="191.51" width="5.29" height="6.96" fill="#ff6919"/>
<rect x="334.72" y="191.51" width="5.29" height="6.96" fill="#ff6120"/>
<rect x="339.96" y="191.51" width="5.29" height="6.96" fill="#ff6c16"/>
<rect x="345.19" y="191.51" width="5.29" height="6.96" fill="#ff641d"/>
<rect x="350.43" y="191.51" width="5.29" height="6.96" fill="#ff790b"/>
<rect x="355.66" y="191.51" width="5.29" height="6.96" fill="#ff7112"/>
<rect x="360.90" y="191.51" width="5.29" height="6.96" fill="#ff5c26"/>
<rect x="366.13" y="191.51" width="5.29" height="6.96" fill="#ff5c26"/>
<rect x="371.37" y="191.51" width="5.29" height="6.96" fill="#ff6120"/>
<rect x="376.60" y="191.51" width="5.29" height="6.96" fill="#ff552d"/>
<rect x="381.84" y="191.51" width="5.29" height="6.96" fill="#ff6022"/>
<rect x="387.07" y="191.51" width="5.29" height="6.96" fill="#ff5e23"/>
<rect x="392.31" y="191.51" width="5.29" height="6.96" fill="#ff562b"/>
<rect x="397.54" y="191.51" width="5.29" height="6.96" fill="#ff562b"/>
<rect x="402.78" y="191.51" width="5.29" height="6.96" fill="#ff5c26"/>
<rect x="408.01" y="191.51" width="5.29" height="6.96" fill="#ff6120"/>
<rect x="413.25" y="191.51" width="5.29" height="6.96" fill="#ff6022"/>
<rect x="418.48" y="191.51" width="5.29" height="6.96" fill="#ff522f"/>
<rect x="423.72" y="191.51" width="5.29" height="6.96" fill="#ff562b"/>
<rect x="428.95" y="191.51" width="5.29" height="6.96" fill="#fc4a39"/>
<rect x="434.19" y="191.51" width="5.29" height="6.96" fill="#ff5131"/>
<rect x="439.42" y="191.51" width="5.29" height="6.96" fill="#f9473b"/>
<rect x="444.66" y="191.51" width="5.29" height="6.96" fill="#ff532e"/>
<rect x="449.89" y="191.51" width="5.29" height="6.96" fill="#f7463d"/>
<rect x="455.13" y="191.51" width="5.29" height="6.96" fill="#f9473b"/>
<rect x="460.36" y="191.51" width="5.29" height="6.96" fill="#e93d48"/>
<rect x="465.60" y="191.51" width="5.29" height="6.96" fill="#ff5131"/>
<rect x="470.83" y="191.51" width="5.29" height="6.96" fill="#f4443f"/>
<rect x="476.07" y="191.51" width="5.29" height="6.96" fill="#fc4a39"/>
<rect x="481.30" y="191.51" width="5.29" height="6.96" fill="#ff4d35"/>
<rect x="486.54" y="191.51" width="5.29" height="6.96" fill="#e1384d"/>
<rect x="491.77" y="191.51" width="5.29" height="6.96" fill="#ca2e5a"/>
<rect x="497.01" y="191.51" width="5.29" height="6.96" fill="#cf3058"/>
<rect x="502.24" y="191.51" width="5.29" height="6.96" fill="#c62c5c"/>
<rect x="507.48" y="191.51" width="5.29" height="6.96" fill="#cf3058"/>
<rect x="512.71" y="191.51" width="5.29" height="6.96" fill="#bf295f"/>
<rect x="517.95" y="191.51" width="5.29" height="6.96" fill="#a32068"/>
<rect x="523.18" y="191.51" width="5.29" height="6.96" fill="#921a6c"/>
<rect x="528.42" y="191.51" width="5.29" height="6.96" fill="#a52068"/>
<rect x="533.65" y="191.51" width="5.29" height="6.96" fill="#a82267"/>
<rect x="538.89" y="191.51" width="5.29" height="6.96" fill="#991d6b"/>
<rect x="544.12" y="191.51" width="5.29" height="6.96" fill="#9b1d6a"/>
<rect x="549.36" y="191.51" width="5.29" height="6.96" fill="#89176d"/>
<rect x="554.59" y="191.51" width="5.29" height="6.96" fill="#7d136e"/>
<rect x="559.83" y="191.51" width="5.29" height="6.96" fill="#901a6c"/>
<rect x="565.06" y="191.51" width="5.29" height="6.96" fill="#87166d"/>
<rect x="570.30" y="191.51" width="5.29" height="6.96" fill="#8a186d"/>
<rect x="575.53" y="191.51" width="5.29" height="6.96" fill="#74106e"/>
<rect x="580.77" y="191.51" width="5.29" height="6.96" fill="#81156e"/>
<rect x="586.00" y="191.51" width="5.29" height="6.96" fill="#78116e"/>
<rect x="303.31" y="184.61" width="5.29" height="6.96" fill="#ff7b09"/>
<rect x="308.55" y="184.61" width="5.29" height="6.96" fill="#ff6e15"/>
<rect x="313.78" y="184.61" width="5.29" height="6.96" fill="#ff6e15"/>
<rect x="319.02" y="184.61" width="5.29" height="6.96" fill="#ff6e15"/>
<rect x="324.25" y="184.61" width="5.29" height="6.96" fill="#ff7e06"/>
<rect x="329.49" y="184.61" width="5.29" height="6.96" fill="#ff740f"/>
<rect x="334.72" y="184.61" width="5.29" height="6.96" fill="#ff6c16"/>
<rect x="339.96" y="184.61" width="5.29" height="6.96" fill="#ff6919"/>
<rect x="345.19" y="184.61" width="5.29" height="6.96" fill="#ff671b"/>
<rect x="350.43" y="184.61" width="5.29" height="6.96" fill="#ff7d08"/>
<rect x="355.66" y="184.61" width="5.29" height="6.96" fill="#ff5e23"/>
<rect x="360.90" y="184.61" width="5.29" height="6.96" fill="#ff661c"/>
<rect x="366.13" y="184.61" width="5.29" height="6.96" fill="#ff7112"/>
<rect x="371.37" y="184.61" width="5.29" height="6.96" fill="#ff740f"/>
<rect x="376.60" y="184.61" width="5.29" height="6.96" fill="#ff661c"/>
<rect x="381.84" y="184.61" width="5.29" height="6.96" fill="#ff6a18"/>
<rect x="387.07" y="184.61" width="5.29" height="6.96" fill="#ff6919"/>
<rect x="392.31" y="184.61" width="5.29" height="6.96" fill="#ff671b"/>
<rect x="397.54" y="184.61" width="5.29" height="6.96" fill="#ff5e23"/>
<rect x="402.78" y="184.61" width="5.29" height="6.96" fill="#ff6919"/>
<rect x="408.01" y="184.61" width="5.29" height="6.96" fill="#ff5c26"/>
<rect x="413.25" y="184.61" width="5.29" height="6.96" fill="#ff631f"/>
<rect x="418.48" y="184.61" width="5.29" height="6.96" fill="#ff4d35"/>
<rect x="423.72" y="184.61" width="5.29" height="6.96" fill="#ff5a27"/>
<rect x="428.95" y="184.61" width="5.29" height="6.96" fill="#fa483a"/>
<rect x="434.19" y="184.61" width="5.29" height="6.96" fill="#f9473b"/>
<rect x="439.42" y="184.61" width="5.29" height="6.96" fill="#ff552d"/>
<rect x="444.66" y="184.61" width="5.29" height="6.96" fill="#ff4c36"/>
<rect x="449.89" y="184.61" width="5.29" height="6.96" fill="#ff552d"/>
<rect x="455.13" y="184.61" width="5.29" height="6.96" fill="#fc4a39"/>
<rect x="460.36" y="184.61" width="5.29" height="6.96" fill="#ff5d24"/>
<rect x="465.60" y="184.61" width="5.29" height="6.96" fill="#ff5032"/>
<rect x="470.83" y="184.61" width="5.29" height="6.96" fill="#f9473b"/>
<rect x="476.07" y="184.61" width="5.29" height="6.96" fill="#ff4e33"/>
<rect x="481.30" y="184.61" width="5.29" height="6.96" fill="#e83c49"/>
<rect x="486.54" y="184.61" width="5.29" height="6.96" fill="#cf3058"/>
<rect x="491.77" y="184.61" width="5.29" height="6.96" fill="#d53255"/>
<rect x="497.01" y="184.61" width="5.29" height="6.96" fill="#dd3750"/>
<rect x="502.24" y="184.61" width="5.29" height="6.96" fill="#cd2f59"/>
<rect x="507.48" y="184.61" width="5.29" height="6.96" fill="#bd2960"/>
<rect x="512.71" y="184.61" width="5.29" height="6.96" fill="#b02465"/>
<rect x="517.95" y="184.61" width="5.29" height="6.96" fill="#b52663"/>
<rect x="523.18" y="184.61" width="5.29" height="6.96" fill="#991d6b"/>
<rect x="528.42" y="184.61" width="5.29" height="6.96" fill="#83156e"/>
<rect x="533.65" y="184.61" width="5.29" height="6.96" fill="#991d6b"/>
<rect x="538.89" y="184.61" width="5.29" height="6.96" fill="#921a6c"/>
<rect x="544.12" y="184.61" width="5.29" height="6.96" fill="#aa2266"/>
<rect x="549.36" y="184.61" width="5.29" height="6.96" fill="#961b6b"/>
<rect x="554.59" y="184.61" width="5.29" height="6.96" fill="#87166d"/>
<rect x="559.83" y="184.61" width="5.29" height="6.96" fill="#83156e"/>
<rect x="565.06" y="184.61" width="5.29" height="6.96" fill="#901a6c"/>
<rect x="570.30" y="184.61" width="5.29" height="6.96" fill="#7f146e"/>
<rect x="575.53" y="184.61" width="5.29" height="6.96" fill="#7f146e"/>
<rect x="580.77" y="184.61" width="5.29" height="6.96" fill="#83156e"/>
<rect x="586.00" y="184.61" width="5.29" height="6.96" fill="#83156e"/>
<rect x="303.31" y="177.70" width="5.29" height="6.96" fill="#ff7311"/>
<rect x="308.55" y="177.70" width="5.29" height="6.96" fill="#ff7311"/>
<rect x="313.78" y="177.70" width="5.29" height="6.96" fill="#ff7e06"/>
<rect x="319.02" y="177.70" width="5.29" height="6.96" fill="#ff8203"/>
<rect x="324.25" y="177.70" width="5.29" height="6.96" fill="#ff631f"/>
<rect x="329.49" y="177.70" width="5.29" height="6.96" fill="#ff8b00"/>
<rect x="334.72" y="177.70" width="5.29" height="6.96" fill="#ff7311"/>
<rect x="339.96" y="177.70" width="5.29" height="6.96" fill="#ff7d08"/>
<rect x="345.19" y="177.70" width="5.29" height="6.96" fill="#ff6919"/>
<rect x="350.43" y="177.70" width="5.29" height="6.96" fill="#ff7311"/>
<rect x="355.66" y="177.70" width="5.29" height="6.96" fill="#ff6f13"/>
<rect x="360.90" y="177.70" width="5.29" height="6.96" fill="#ff6e15"/>
<rect x="366.13" y="177.70" width="5.29" height="6.96" fill="#ff740f"/>
<rect x="371.37" y="177.70" width="5.29" height="6.96" fill="#ff6f13"/>
<rect x="376.60" y="177.70" width="5.29" height="6.96" fill="#ff6022"/>
<rect x="381.84" y="177.70" width="5.29" height="6.96" fill="#ff661c"/>
<rect x="387.07" y="177.70" width="5.29" height="6.96" fill="#ff6c16"/>
<rect x="392.31" y="177.70" width="5.29" height="6.96" fill="#ff6919"/>
<rect x="397.54" y="177.70" width="5.29" height="6.96" fill="#ff5e23"/>
<rect x="402.78" y="177.70" width="5.29" height="6.96" fill="#ff5d24"/>
<rect x="408.01" y="177.70" width="5.29" height="6.96" fill="#ff5d24"/>
<rect x="413.25" y="177.70" width="5.29" height="6.96" fill="#ff532e"/>
<rect x="418.48" y="177.70" width="5.29" height="6.96" fill="#ff5131"/>
<rect x="423.72" y="177.70" width="5.29" height="6.96" fill="#ff641d"/>
<rect x="428.95" y="177.70" width="5.29" height="6.96" fill="#ff532e"/>
<rect x="434.19" y="177.70" width="5.29" height="6.96" fill="#ff562b"/>
<rect x="439.42" y="177.70" width="5.29" height="6.96" fill="#ff5032"/>
<rect x="444.66" y="177.70" width="5.29" height="6.96" fill="#ff6022"/>
<rect x="449.89" y="177.70" width="5.29" height="6.96" fill="#ff631f"/>
<rect x="455.13" y="177.70" width="5.29" height="6.96" fill="#ff522f"/>
<rect x="460.36" y="177.70" width="5.29" height="6.96" fill="#ff572a"/>
<rect x="465.60" y="177.70" width="5.29" height="6.96" fill="#ff4d35"/>
<rect x="470.83" y="177.70" width="5.29" height="6.96" fill="#ff6022"/>
<rect x="476.07" y="177.70" width="5.29" height="6.96" fill="#ff572a"/>
<rect x="481.30" y="177.70" width="5.29" height="6.96" fill="#fa483a"/>
<rect x="486.54" y="177.70" width="5.29" height="6.96" fill="#e93d48"/>
<rect x="491.77" y="177.70" width="5.29" height="6.96" fill="#e1384d"/>
<rect x="497.01" y="177.70" width="5.29" height="6.96" fill="#dc3651"/>
<rect x="502.24" y="177.70" width="5.29" height="6.96" fill="#d33156"/>
<rect x="507.48" y="177.70" width="5.29" height="6.96" fill="#c12a5e"/>
<rect x="512.71" y="177.70" width="5.29" height="6.96" fill="#b92761"/>
<rect x="517.95" y="177.70" width="5.29" height="6.96" fill="#bd2960"/>
<rect x="523.18" y="177.70" width="5.29" height="6.96" fill="#b02465"/>
<rect x="528.42" y="177.70" width="5.29" height="6.96" fill="#a32068"/>
<rect x="533.65" y="177.70" width="5.29" height="6.96" fill="#bd2960"/>
<rect x="538.89" y="177.70" width="5.29" height="6.96" fill="#a11f69"/>
<rect x="544.12" y="177.70" width="5.29" height="6.96" fill="#991d6b"/>
<rect x="549.36" y="177.70" width="5.29" height="6.96" fill="#941b6c"/>
<rect x="554.59" y="177.70" width="5.29" height="6.96" fill="#9d1e6a"/>
<rect x="559.83" y="177.70" width="5.29" height="6.96" fill="#9d1e6a"/>
<rect x="565.06" y="177.70" width="5.29" height="6.96" fill="#921a6c"/>
<rect x="570.30" y="177.70" width="5.29" height="6.96" fill="#961b6b"/>
<rect x="575.53" y="177.70" width="5.29" height="6.96" fill="#7b136e"/>
<rect x="580.77" y="177.70" width="5.29" height="6.96" fill="#85166d"/>
<rect x="586.00" y="177.70" width="5.29" height="6.96" fill="#83156e"/>
<rect x="303.31" y="170.80" width="5.29" height="6.96" fill="#ff6f13"/>
<rect x="308.55" y="170.80" width="5.29" height="6.96" fill="#ff740f"/>
<rect x="313.78" y="170.80" width="5.29" height="6.96" fill="#ff5e23"/>
<rect x="319.02" y="170.80" width="5.29" height="6.96" fill="#ff8e00"/>
<rect x="324.25" y="170.80" width="5.29" height="6.96" fill="#ff6919"/>
<rect x="329.49" y="170.80" width="5.29" height="6.96" fill="#ff7311"/>
<rect x="334.72" y="170.80" width="5.29" height="6.96" fill="#ff780c"/>
<rect x="339.96" y="170.80" width="5.29" height="6.96" fill="#ff780c"/>
<rect x="345.19" y="170.80" width="5.29" height="6.96" fill="#ff7112"/>
<rect x="350.43" y="170.80" width="5.29" height="6.96" fill="#ff562b"/>
<rect x="355.66" y="170.80" width="5.29" height="6.96" fill="#ff641d"/>
<rect x="360.90" y="170.80" width="5.29" height="6.96" fill="#ff740f"/>
<rect x="366.13" y="170.80" width="5.29" height="6.96" fill="#ff641d"/>
<rect x="371.37" y="170.80" width="5.29" height="6.96" fill="#ff6120"/>
<rect x="376.60" y="170.80" width="5.29" height="6.96" fill="#ff562b"/>
<rect x="381.84" y="170.80" width="5.29" height="6.96" fill="#ff7311"/>
<rect x="387.07" y="170.80" width="5.29" height="6.96" fill="#ff6c16"/>
<rect x="392.31" y="170.80" width="5.29" height="6.96" fill="#ff5e23"/>
<rect x="397.54" y="170.80" width="5.29" height="6.96" fill="#ff641d"/>
<rect x="402.78" y="170.80" width="5.29" height="6.96" fill="#ff631f"/>
<rect x="408.01" y="170.80" width="5.29" height="6.96" fill="#ff5929"/>
<rect x="413.25" y="170.80" width="5.29" height="6.96" fill="#ff5d24"/>
<rect x="418.48" y="170.80" width="5.29" height="6.96" fill="#ff6022"/>
<rect x="423.72" y="170.80" width="5.29" height="6.96" fill="#ff6022"/>
<rect x="428.95" y="170.80" width="5.29" height="6.96" fill="#ff641d"/>
<rect x="434.19" y="170.80" width="5.29" height="6.96" fill="#ff5a27"/>
<rect x="439.42" y="170.80" width="5.29" height="6.96" fill="#ff562b"/>
<rect x="444.66" y="170.80" width="5.29" height="6.96" fill="#ff5c26"/>
<rect x="449.89" y="170.80" width="5.29" height="6.96" fill="#ff532e"/>
<rect x="455.13" y="170.80" width="5.29" height="6.96" fill="#ff4e33"/>
<rect x="460.36" y="170.80" width="5.29" height="6.96" fill="#ff6022"/>
<rect x="465.60" y="170.80" width="5.29" height="6.96" fill="#ff532e"/>
<rect x="470.83" y="170.80" width="5.29" height="6.96" fill="#ff562b"/>
<rect x="476.07" y="170.80" width="5.29" height="6.96" fill="#ff5929"/>
<rect x="481.30" y="170.80" width="5.29" height="6.96" fill="#fc4a39"/>
<rect x="486.54" y="170.80" width="5.29" height="6.96" fill="#ff552d"/>
<rect x="491.77" y="170.80" width="5.29" height="6.96" fill="#ff532e"/>
<rect x="497.01" y="170.80" width="5.29" height="6.96" fill="#ff4c36"/>
<rect x="502.24" y="170.80" width="5.29" height="6.96" fill="#dc3651"/>
<rect x="507.48" y="170.80" width="5.29" height="6.96" fill="#c42b5d"/>
<rect x="512.71" y="170.80" width="5.29" height="6.96" fill="#ac2366"/>
<rect x="517.95" y="170.80" width="5.29" height="6.96" fill="#bb2861"/>
<rect x="523.18" y="170.80" width="5.29" height="6.96" fill="#b22564"/>
<rect x="528.42" y="170.80" width="5.29" height="6.96" fill="#bf295f"/>
<rect x="533.65" y="170.80" width="5.29" height="6.96" fill="#b22564"/>
<rect x="538.89" y="170.80" width="5.29" height="6.96" fill="#a52068"/>
<rect x="544.12" y="170.80" width="5.29" height="6.96" fill="#a52068"/>
<rect x="549.36" y="170.80" width="5.29" height="6.96" fill="#ae2465"/>
<rect x="554.59" y="170.80" width="5.29" height="6.96" fill="#a72168"/>
<rect x="559.83" y="170.80" width="5.29" height="6.96" fill="#9b1d6a"/>
<rect x="565.06" y="170.80" width="5.29" height="6.96" fill="#991d6b"/>
<rect x="570.30" y="170.80" width="5.29" height="6.96" fill="#8e196c"/>
<rect x="575.53" y="170.80" width="5.29" height="6.96" fill="#8e196c"/>
<rect x="580.77" y="170.80" width="5.29" height="6.96" fill="#941b6c"/>
<rect x="586.00" y="170.80" width="5.29" height="6.96" fill="#8a186d"/>
<rect x="303.31" y="163.90" width="5.29" height="6.96" fill="#ff7112"/>
<rect x="308.55" y="163.90" width="5.29" height="6.96" fill="#ff641d"/>
<rect x="313.78" y="163.90" width="5.29" height="6.96" fill="#ff6022"/>
<rect x="319.02" y="163.90" width="5.29" height="6.96" fill="#ff5e23"/>
<rect x="324.25" y="163.90" width="5.29" height="6.96" fill="#ff6a18"/>
<rect x="329.49" y="163.90" width="5.29" height="6.96" fill="#ff790b"/>
<rect x="334.72" y="163.90" width="5.29" height="6.96" fill="#ff790b"/>
<rect x="339.96" y="163.90" width="5.29" height="6.96" fill="#ff641d"/>
<rect x="345.19" y="163.90" width="5.29" height="6.96" fill="#ff6022"/>
<rect x="350.43" y="163.90" width="5.29" height="6.96" fill="#ff740f"/>
<rect x="355.66" y="163.90" width="5.29" height="6.96" fill="#ff7112"/>
<rect x="360.90" y="163.90" width="5.29" height="6.96" fill="#ff6022"/>
<rect x="366.13" y="163.90" width="5.29" height="6.96" fill="#ff760e"/>
<rect x="371.37" y="163.90" width="5.29" height="6.96" fill="#ff6c16"/>
<rect x="376.60" y="163.90" width="5.29" height="6.96" fill="#ff760e"/>
<rect x="381.84" y="163.90" width="5.29" height="6.96" fill="#ff6e15"/>
<rect x="387.07" y="163.90" width="5.29" height="6.96" fill="#ff7112"/>
<rect x="392.31" y="163.90" width="5.29" height="6.96" fill="#ff6c16"/>
<rect x="397.54" y="163.90" width="5.29" height="6.96" fill="#ff6022"/>
<rect x="402.78" y="163.90" width="5.29" height="6.96" fill="#ff641d"/>
<rect x="408.01" y="163.90" width="5.29" height="6.96" fill="#ff6022"/>
<rect x="413.25" y="163.90" width="5.29" height="6.96" fill="#ff6a18"/>
<rect x="418.48" y="163.90" width="5.29" height="6.96" fill="#ff5a27"/>
<rect x="423.72" y="163.90" width="5.29" height="6.96" fill="#ff552d"/>
<rect x="428.95" y="163.90" width="5.29" height="6.96" fill="#ff641d"/>
<rect x="434.19" y="163.90" width="5.29" height="6.96" fill="#ff671b"/>
<rect x="439.42" y="163.90" width="5.29" height="6.96" fill="#ff6919"/>
<rect x="444.66" y="163.90" width="5.29" height="6.96" fill="#ff661c"/>
<rect x="449.89" y="163.90" width="5.29" height="6.96" fill="#ff5131"/>
<rect x="455.13" y="163.90" width="5.29" height="6.96" fill="#ff552d"/>
<rect x="460.36" y="163.90" width="5.29" height="6.96" fill="#ff562b"/>
<rect x="465.60" y="163.90" width="5.29" height="6.96" fill="#ff5929"/>
<rect x="470.83" y="163.90" width="5.29" height="6.96" fill="#fc4a39"/>
<rect x="476.07" y="163.90" width="5.29" height="6.96" fill="#ff572a"/>
<rect x="481.30" y="163.90" width="5.29" height="6.96" fill="#ff5929"/>
<rect x="486.54" y="163.90" width="5.29" height="6.96" fill="#ff5032"/>
<rect x="491.77" y="163.90" width="5.29" height="6.96" fill="#ff552d"/>
<rect x="497.01" y="163.90" width="5.29" height="6.96" fill="#ff572a"/>
<rect x="502.24" y="163.90" width="5.29" height="6.96" fill="#da3552"/>
<rect x="507.48" y="163.90" width="5.29" height="6.96" fill="#dd3750"/>
<rect x="512.71" y="163.90" width="5.29" height="6.96" fill="#da3552"/>
<rect x="517.95" y="163.90" width="5.29" height="6.96" fill="#cf3058"/>
<rect x="523.18" y="163.90" width="5.29" height="6.96" fill="#c82d5b"/>
<rect x="528.42" y="163.90" width="5.29" height="6.96" fill="#b92761"/>
<rect x="533.65" y="163.90" width="5.29" height="6.96" fill="#c22b5e"/>
<rect x="538.89" y="163.90" width="5.29" height="6.96" fill="#aa2266"/>
<rect x="544.12" y="163.90" width="5.29" height="6.96" fill="#a11f69"/>
<rect x="549.36" y="163.90" width="5.29" height="6.96" fill="#ac2366"/>
<rect x="554.59" y="163.90" width="5.29" height="6.96" fill="#991d6b"/>
<rect x="559.83" y="163.90" width="5.29" height="6.96" fill="#a11f69"/>
<rect x="565.06" y="163.90" width="5.29" height="6.96" fill="#a52068"/>
<rect x="570.30" y="163.90" width="5.29" height="6.96" fill="#981c6b"/>
<rect x="575.53" y="163.90" width="5.29" height="6.96" fill="#961b6b"/>
<rect x="580.77" y="163.90" width="5.29" height="6.96" fill="#9b1d6a"/>
<rect x="586.00" y="163.90" width="5.29" height="6.96" fill="#981c6b"/>
<rect x="303.31" y="157.00" width="5.29" height="6.96" fill="#ff5e23"/>
<rect x="308.55" y="157.00" width="5.29" height="6.96" fill="#ff6022"/>
<rect x="313.78" y="157.00" width="5.29" height="6.96" fill="#ff780c"/>
<rect x="319.02" y="157.00" width="5.29" height="6.96" fill="#ff6f13"/>
<rect x="324.25" y="157.00" width="5.29" height="6.96" fill="#ff5a27"/>
<rect x="329.49" y="157.00" width="5.29" height="6.96" fill="#ff6022"/>
<rect x="334.72" y="157.00" width="5.29" height="6.96" fill="#ff6c16"/>
<rect x="339.96" y="157.00" width="5.29" height="6.96" fill="#ff631f"/>
<rect x="345.19" y="157.00" width="5.29" height="6.96" fill="#ff6f13"/>
<rect x="350.43" y="157.00" width="5.29" height="6.96" fill="#ff6c16"/>
<rect x="355.66" y="157.00" width="5.29" height="6.96" fill="#ff7112"/>
<rect x="360.90" y="157.00" width="5.29" height="6.96" fill="#ff6120"/>
<rect x="366.13" y="157.00" width="5.29" height="6.96" fill="#ff7112"/>
<rect x="371.37" y="157.00" width="5.29" height="6.96" fill="#ff7e06"/>
<rect x="376.60" y="157.00" width="5.29" height="6.96" fill="#ff641d"/>
<rect x="381.84" y="157.00" width="5.29" height="6.96" fill="#ff780c"/>
<rect x="387.07" y="157.00" width="5.29" height="6.96" fill="#ff740f"/>
<rect x="392.31" y="157.00" width="5.29" height="6.96" fill="#ff7112"/>
<rect x="397.54" y="157.00" width="5.29" height="6.96" fill="#ff6a18"/>
<rect x="402.78" y="157.00" width="5.29" height="6.96" fill="#ff6120"/>
<rect x="408.01" y="157.00" width="5.29" height="6.96" fill="#ff6120"/>
<rect x="413.25" y="157.00" width="5.29" height="6.96" fill="#ff6f13"/>
<rect x="418.48" y="157.00" width="5.29" height="6.96" fill="#ff6f13"/>
<rect x="423.72" y="157.00" width="5.29" height="6.96" fill="#ff7112"/>
<rect x="428.95" y="157.00" width="5.29" height="6.96" fill="#ff6e15"/>
<rect x="434.19" y="157.00" width="5.29" height="6.96" fill="#ff6a18"/>
<rect x="439.42" y="157.00" width="5.29" height="6.96" fill="#ff5e23"/>
<rect x="444.66" y="157.00" width="5.29" height="6.96" fill="#ff572a"/>
<rect x="449.89" y="157.00" width="5.29" height="6.96" fill="#ff6120"/>
<rect x="455.13" y="157.00" width="5.29" height="6.96" fill="#ff631f"/>
<rect x="460.36" y="157.00" width="5.29" height="6.96" fill="#ff5e23"/>
<rect x="465.60" y="157.00" width="5.29" height="6.96" fill="#ff5131"/>
<rect x="470.83" y="157.00" width="5.29" height="6.96" fill="#ff5929"/>
<rect x="476.07" y="157.00" width="5.29" height="6.96" fill="#ff5131"/>
<rect x="481.30" y="157.00" width="5.29" height="6.96" fill="#ff5d24"/>
<rect x="486.54" y="157.00" width="5.29" height="6.96" fill="#ff522f"/>
<rect x="491.77" y="157.00" width="5.29" height="6.96" fill="#ff562b"/>
<rect x="497.01" y="157.00" width="5.29" height="6.96" fill="#ff552d"/>
<rect x="502.24" y="157.00" width="5.29" height="6.96" fill="#ff5032"/>
<rect x="507.48" y="157.00" width="5.29" height="6.96" fill="#ff562b"/>
<rect x="512.71" y="157.00" width="5.29" height="6.96" fill="#d33156"/>
<rect x="517.95" y="157.00" width="5.29" height="6.96" fill="#bf295f"/>
<rect x="523.18" y="157.00" width="5.29" height="6.96" fill="#d53255"/>
<rect x="528.42" y="157.00" width="5.29" height="6.96" fill="#cf3058"/>
<rect x="533.65" y="157.00" width="5.29" height="6.96" fill="#c82d5b"/>
<rect x="538.89" y="157.00" width="5.29" height="6.96" fill="#b72762"/>
<rect x="544.12" y="157.00" width="5.29" height="6.96" fill="#b52663"/>
<rect x="549.36" y="157.00" width="5.29" height="6.96" fill="#ac2366"/>
<rect x="554.59" y="157.00" width="5.29" height="6.96" fill="#991d6b"/>
<rect x="559.83" y="157.00" width="5.29" height="6.96" fill="#9d1e6a"/>
<rect x="565.06" y="157.00" width="5.29" height="6.96" fill="#a52068"/>
<rect x="570.30" y="157.00" width="5.29" height="6.96" fill="#961b6b"/>
<rect x="575.53" y="157.00" width="5.29" height="6.96" fill="#ae2465"/>
<rect x="580.77" y="157.00" width="5.29" height="6.96" fill="#87166d"/>
<rect x="586.00" y="157.00" width="5.29" height="6.96" fill="#901a6c"/>
<rect x="303.31" y="150.09" width="5.29" height="6.96" fill="#ff740f"/>
<rect x="308.55" y="150.09" width="5.29" height="6.96" fill="#ff641d"/>
<rect x="313.78" y="150.09" width="5.29" height="6.96" fill="#ff6022"/>
<rect x="319.02" y="150.09" width="5.29" height="6.96" fill="#ff5e23"/>
<rect x="324.25" y="150.09" width="5.29" height="6.96" fill="#ff641d"/>
<rect x="329.49" y="150.09" width="5.29" height="6.96" fill="#ff780c"/>
<rect x="334.72" y="150.09" width="5.29" height="6.96" fill="#ff6e15"/>
<rect x="339.96" y="150.09" width="5.29" height="6.96" fill="#ff6f13"/>
<rect x="345.19" y="150.09" width="5.29" height="6.96" fill="#ff661c"/>
<rect x="350.43" y="150.09" width="5.29" height="6.96" fill="#ff7311"/>
<rect x="355.66" y="150.09" width="5.29" height="6.96" fill="#ff6c16"/>
<rect x="360.90" y="150.09" width="5.29" height="6.96" fill="#ff641d"/>
<rect x="366.13" y="150.09" width="5.29" height="6.96" fill="#ff671b"/>
<rect x="371.37" y="150.09" width="5.29" height="6.96" fill="#ff6e15"/>
<rect x="376.60" y="150.09" width="5.29" height="6.96" fill="#ff780c"/>
<rect x="381.84" y="150.09" width="5.29" height="6.96" fill="#ff6c16"/>
<rect x="387.07" y="150.09" width="5.29" height="6.96" fill="#ff7112"/>
<rect x="392.31" y="150.09" width="5.29" height="6.96" fill="#ff8005"/>
<rect x="397.54" y="150.09" width="5.29" height="6.96" fill="#ff671b"/>
<rect x="402.78" y="150.09" width="5.29" height="6.96" fill="#ff631f"/>
<rect x="408.01" y="150.09" width="5.29" height="6.96" fill="#ff740f"/>
<rect x="413.25" y="150.09" width="5.29" height="6.96" fill="#ff6f13"/>
<rect x="418.48" y="150.09" width="5.29" height="6.96" fill="#ff6919"/>
<rect x="423.72" y="150.09" width="5.29" height="6.96" fill="#ff6c16"/>
<rect x="428.95" y="150.09" width="5.29" height="6.96" fill="#ff661c"/>
<rect x="434.19" y="150.09" width="5.29" height="6.96" fill="#ff6c16"/>
<rect x="439.42" y="150.09" width="5.29" height="6.96" fill="#ff631f"/>
<rect x="444.66" y="150.09" width="5.29" height="6.96" fill="#ff6c16"/>
<rect x="449.89" y="150.09" width="5.29" height="6.96" fill="#ff5a27"/>
<rect x="455.13" y="150.09" width="5.29" height="6.96" fill="#ff5c26"/>
<rect x="460.36" y="150.09" width="5.29" height="6.96" fill="#ff6120"/>
<rect x="465.60" y="150.09" width="5.29" height="6.96" fill="#ff5d24"/>
<rect x="470.83" y="150.09" width="5.29" height="6.96" fill="#ff661c"/>
<rect x="476.07" y="150.09" width="5.29" height="6.96" fill="#ff5e23"/>
<rect x="481.30" y="150.09" width="5.29" height="6.96" fill="#ff5a27"/>
<rect x="486.54" y="150.09" width="5.29" height="6.96" fill="#ff5e23"/>
<rect x="491.77" y="150.09" width="5.29" height="6.96" fill="#ff562b"/>
<rect x="497.01" y="150.09" width="5.29" height="6.96" fill="#ff4d35"/>
<rect x="502.24" y="150.09" width="5.29" height="6.96" fill="#ff4e33"/>
<rect x="507.48" y="150.09" width="5.29" height="6.96" fill="#ff4e33"/>
<rect x="512.71" y="150.09" width="5.29" height="6.96" fill="#fc4a39"/>
<rect x="517.95" y="150.09" width="5.29" height="6.96" fill="#d83453"/>
<rect x="523.18" y="150.09" width="5.29" height="6.96" fill="#d63354"/>
<rect x="528.42" y="150.09" width="5.29" height="6.96" fill="#cc2e59"/>
<rect x="533.65" y="150.09" width="5.29" height="6.96" fill="#d53255"/>
<rect x="538.89" y="150.09" width="5.29" height="6.96" fill="#ca2e5a"/>
<rect x="544.12" y="150.09" width="5.29" height="6.96" fill="#b52663"/>
<rect x="549.36" y="150.09" width="5.29" height="6.96" fill="#c42b5d"/>
<rect x="554.59" y="150.09" width="5.29" height="6.96" fill="#b92761"/>
<rect x="559.83" y="150.09" width="5.29" height="6.96" fill="#a52068"/>
<rect x="565.06" y="150.09" width="5.29" height="6.96" fill="#a82267"/>
<rect x="570.30" y="150.09" width="5.29" height="6.96" fill="#ae2465"/>
<rect x="575.53" y="150.09" width="5.29" height="6.96" fill="#a11f69"/>
<rect x="580.77" y="150.09" width="5.29" height="6.96" fill="#a72168"/>
<rect x="586.00" y="150.09" width="5.29" height="6.96" fill="#9d1e6a"/>
<rect x="303.31" y="143.19" width="5.29" height="6.96" fill="#ff6f13"/>
<rect x="308.55" y="143.19" width="5.29" height="6.96" fill="#ff661c"/>
<rect x="313.78" y="143.19" width="5.29" height="6.96" fill="#ff6c16"/>
<rect x="319.02" y="143.19" width="5.29" height="6.96" fill="#ff661c"/>
<rect x="324.25" y="143.19" width="5.29" height="6.96" fill="#ff6e15"/>
<rect x="329.49" y="143.19" width="5.29" height="6.96" fill="#ff5a27"/>
<rect x="334.72" y="143.19" width="5.29" height="6.96" fill="#ff6c16"/>
<rect x="339.96" y="143.19" width="5.29" height="6.96" fill="#ff740f"/>
<rect x="345.19" y="143.19" width="5.29" height="6.96" fill="#ff6f13"/>
<rect x="350.43" y="143.19" width="5.29" height="6.96" fill="#ff6a18"/>
<rect x="355.66" y="143.19" width="5.29" height="6.96" fill="#ff6f13"/>
<rect x="360.90" y="143.19" width="5.29" height="6.96" fill="#ff641d"/>
<rect x="366.13" y="143.19" width="5.29" height="6.96" fill="#ff641d"/>
<rect x="371.37" y="143.19" width="5.29" height="6.96" fill="#ff6919"/>
<rect x="376.60" y="143.19" width="5.29" height="6.96" fill="#ff6c16"/>
<rect x="381.84" y="143.19" width="5.29" height="6.96" fill="#ff780c"/>
<rect x="387.07" y="143.19" width="5.29" height="6.96" fill="#ff671b"/>
<rect x="392.31" y="143.19" width="5.29" height="6.96" fill="#ff790b"/>
<rect x="397.54" y="143.19" width="5.29" height="6.96" fill="#ff631f"/>
<rect x="402.78" y="143.19" width="5.29" height="6.96" fill="#ff6919"/>
<rect x="408.01" y="143.19" width="5.29" height="6.96" fill="#ff6e15"/>
<rect x="413.25" y="143.19" width="5.29" height="6.96" fill="#ff790b"/>
<rect x="418.48" y="143.19" width="5.29" height="6.96" fill="#ff671b"/>
<rect x="423.72" y="143.19" width="5.29" height="6.96" fill="#ff5a27"/>
<rect x="428.95" y="143.19" width="5.29" height="6.96" fill="#ff6f13"/>
<rect x="434.19" y="143.19" width="5.29" height="6.96" fill="#ff6a18"/>
<rect x="439.42" y="143.19" width="5.29" height="6.96" fill="#ff6022"/>
<rect x="444.66" y="143.19" width="5.29" height="6.96" fill="#ff6022"/>
<rect x="449.89" y="143.19" width="5.29" height="6.96" fill="#ff6120"/>
<rect x="455.13" y="143.19" width="5.29" height="6.96" fill="#ff671b"/>
<rect x="460.36" y="143.19" width="5.29" height="6.96" fill="#ff6a18"/>
<rect x="465.60" y="143.19" width="5.29" height="6.96" fill="#ff572a"/>
<rect x="470.83" y="143.19" width="5.29" height="6.96" fill="#ff780c"/>
<rect x="476.07" y="143.19" width="5.29" height="6.96" fill="#ff6120"/>
<rect x="481.30" y="143.19" width="5.29" height="6.96" fill="#ff5e23"/>
<rect x="486.54" y="143.19" width="5.29" height="6.96" fill="#ff661c"/>
<rect x="491.77" y="143.19" width="5.29" height="6.96" fill="#ff6022"/>
<rect x="497.01" y="143.19" width="5.29" height="6.96" fill="#ff7112"/>
<rect x="502.24" y="143.19" width="5.29" height="6.96" fill="#ff631f"/>
<rect x="507.48" y="143.19" width="5.29" height="6.96" fill="#ff532e"/>
<rect x="512.71" y="143.19" width="5.29" height="6.96" fill="#ff4c36"/>
<rect x="517.95" y="143.19" width="5.29" height="6.96" fill="#d53255"/>
<rect x="523.18" y="143.19" width="5.29" height="6.96" fill="#d33156"/>
<rect x="528.42" y="143.19" width="5.29" height="6.96" fill="#d83453"/>
<rect x="533.65" y="143.19" width="5.29" height="6.96" fill="#c42b5d"/>
<rect x="538.89" y="143.19" width="5.29" height="6.96" fill="#d63354"/>
<rect x="544.12" y="143.19" width="5.29" height="6.96" fill="#bd2960"/>
<rect x="549.36" y="143.19" width="5.29" height="6.96" fill="#b72762"/>
<rect x="554.59" y="143.19" width="5.29" height="6.96" fill="#bf295f"/>
<rect x="559.83" y="143.19" width="5.29" height="6.96" fill="#9b1d6a"/>
<rect x="565.06" y="143.19" width="5.29" height="6.96" fill="#a32068"/>
<rect x="570.30" y="143.19" width="5.29" height="6.96" fill="#ae2465"/>
<rect x="575.53" y="143.19" width="5.29" height="6.96" fill="#a52068"/>
<rect x="580.77" y="143.19" width="5.29" height="6.96" fill="#a11f69"/>
<rect x="586.00" y="143.19" width="5.29" height="6.96" fill="#a11f69"/>
<rect x="303.31" y="136.29" width="5.29" height="6.96" fill="#ff6120"/>
<rect x="308.55" y="136.29" width="5.29" height="6.96" fill="#ff661c"/>
<rect x="313.78" y="136.29" width="5.29" height="6.96" fill="#ff5c26"/>
<rect x="319.02" y="136.29" width="5.29" height="6.96" fill="#ff572a"/>
<rect x="324.25" y="136.29" width="5.29" height="6.96" fill="#ff7311"/>
<rect x="329.49" y="136.29" width="5.29" height="6.96" fill="#ff5e23"/>
<rect x="334.72" y="136.29" width="5.29" height="6.96" fill="#ff6022"/>
<rect x="339.96" y="136.29" width="5.29" height="6.96" fill="#ff740f"/>
<rect x="345.19" y="136.29" width="5.29" height="6.96" fill="#ff7311"/>
<rect x="350.43" y="136.29" width="5.29" height="6.96" fill="#ff641d"/>
<rect x="355.66" y="136.29" width="5.29" height="6.96" fill="#ff661c"/>
<rect x="360.90" y="136.29" width="5.29" height="6.96" fill="#ff6a18"/>
<rect x="366.13" y="136.29" width="5.29" height="6.96" fill="#ff641d"/>
<rect x="371.37" y="136.29" width="5.29" height="6.96" fill="#ff7311"/>
<rect x="376.60" y="136.29" width="5.29" height="6.96" fill="#ff6f13"/>
<rect x="381.84" y="136.29" width="5.29" height="6.96" fill="#ff6f13"/>
<rect x="387.07" y="136.29" width="5.29" height="6.96" fill="#ff760e"/>
<rect x="392.31" y="136.29" width="5.29" height="6.96" fill="#ff780c"/>
<rect x="397.54" y="136.29" width="5.29" height="6.96" fill="#ff8402"/>
<rect x="402.78" y="136.29" width="5.29" height="6.96" fill="#ff8005"/>
<rect x="408.01" y="136.29" width="5.29" height="6.96" fill="#ff6120"/>
<rect x="413.25" y="136.29" width="5.29" height="6.96" fill="#ff790b"/>
<rect x="418.48" y="136.29" width="5.29" height="6.96" fill="#ff661c"/>
<rect x="423.72" y="136.29" width="5.29" height="6.96" fill="#ff631f"/>
<rect x="428.95" y="136.29" width="5.29" height="6.96" fill="#ff760e"/>
<rect x="434.19" y="136.29" width="5.29" height="6.96" fill="#ff6919"/>
<rect x="439.42" y="136.29" width="5.29" height="6.96" fill="#ff6a18"/>
<rect x="444.66" y="136.29" width="5.29" height="6.96" fill="#ff760e"/>
<rect x="449.89" y="136.29" width="5.29" height="6.96" fill="#ff641d"/>
<rect x="455.13" y="136.29" width="5.29" height="6.96" fill="#ff6120"/>
<rect x="460.36" y="136.29" width="5.29" height="6.96" fill="#ff6a18"/>
<rect x="465.60" y="136.29" width="5.29" height="6.96" fill="#ff7311"/>
<rect x="470.83" y="136.29" width="5.29" height="6.96" fill="#ff6a18"/>
<rect x="476.07" y="136.29" width="5.29" height="6.96" fill="#ff5929"/>
<rect x="481.30" y="136.29" width="5.29" height="6.96" fill="#ff5e23"/>
<rect x="486.54" y="136.29" width="5.29" height="6.96" fill="#ff6120"/>
<rect x="491.77" y="136.29" width="5.29" height="6.96" fill="#ff7311"/>
<rect x="497.01" y="136.29" width="5.29" height="6.96" fill="#ff661c"/>
<rect x="502.24" y="136.29" width="5.29" height="6.96" fill="#ff631f"/>
<rect x="507.48" y="136.29" width="5.29" height="6.96" fill="#ff6120"/>
<rect x="512.71" y="136.29" width="5.29" height="6.96" fill="#ff5131"/>
<rect x="517.95" y="136.29" width="5.29" height="6.96" fill="#ff4e33"/>
<rect x="523.18" y="136.29" width="5.29" height="6.96" fill="#ff5131"/>
<rect x="528.42" y="136.29" width="5.29" height="6.96" fill="#d33156"/>
<rect x="533.65" y="136.29" width="5.29" height="6.96" fill="#d33156"/>
<rect x="538.89" y="136.29" width="5.29" height="6.96" fill="#d13157"/>
<rect x="544.12" y="136.29" width="5.29" height="6.96" fill="#bb2861"/>
<rect x="549.36" y="136.29" width="5.29" height="6.96" fill="#c82d5b"/>
<rect x="554.59" y="136.29" width="5.29" height="6.96" fill="#c22b5e"/>
<rect x="559.83" y="136.29" width="5.29" height="6.96" fill="#c12a5e"/>
<rect x="565.06" y="136.29" width="5.29" height="6.96" fill="#a82267"/>
<rect x="570.30" y="136.29" width="5.29" height="6.96" fill="#ae2465"/>
<rect x="575.53" y="136.29" width="5.29" height="6.96" fill="#b72762"/>
<rect x="580.77" y="136.29" width="5.29" height="6.96" fill="#ae2465"/>
<rect x="586.00" y="136.29" width="5.29" height="6.96" fill="#9b1d6a"/>
<rect x="303.31" y="129.39" width="5.29" height="6.96" fill="#ff671b"/>
<rect x="308.55" y="129.39" width="5.29" height="6.96" fill="#ff7112"/>
<rect x="313.78" y="129.39" width="5.29" height="6.96" fill="#ff641d"/>
<rect x="319.02" y="129.39" width="5.29" height="6.96" fill="#ff671b"/>
<rect x="324.25" y="129.39" width="5.29" height="6.96" fill="#ff7d08"/>
<rect x="329.49" y="129.39" width="5.29" height="6.96" fill="#ff641d"/>
<rect x="334.72" y="129.39" width="5.29" height="6.96" fill="#ff641d"/>
<rect x="339.96" y="129.39" width="5.29" height="6.96" fill="#ff5d24"/>
<rect x="345.19" y="129.39" width="5.29" height="6.96" fill="#ff6120"/>
<rect x="350.43" y="129.39" width="5.29" height="6.96" fill="#ff760e"/>
<rect x="355.66" y="129.39" width="5.29" height="6.96" fill="#ff6919"/>
<rect x="360.90" y="129.39" width="5.29" height="6.96" fill="#ff6120"/>
<rect x="366.13" y="129.39" width="5.29" height="6.96" fill="#ff641d"/>
<rect x="371.37" y="129.39" width="5.29" height="6.96" fill="#ff6e15"/>
<rect x="376.60" y="129.39" width="5.29" height="6.96" fill="#ff760e"/>
<rect x="381.84" y="129.39" width="5.29" height="6.96" fill="#ff6919"/>
<rect x="387.07" y="129.39" width="5.29" height="6.96" fill="#ff780c"/>
<rect x="392.31" y="129.39" width="5.29" height="6.96" fill="#ff6e15"/>
<rect x="397.54" y="129.39" width="5.29" height="6.96" fill="#ff780c"/>
<rect x="402.78" y="129.39" width="5.29" height="6.96" fill="#ff780c"/>
<rect x="408.01" y="129.39" width="5.29" height="6.96" fill="#ff790b"/>
<rect x="413.25" y="129.39" width="5.29" height="6.96" fill="#ff6f13"/>
<rect x="418.48" y="129.39" width="5.29" height="6.96" fill="#ff7311"/>
<rect x="423.72" y="129.39" width="5.29" height="6.96" fill="#ff780c"/>
<rect x="428.95" y="129.39" width="5.29" height="6.96" fill="#ff671b"/>
<rect x="434.19" y="129.39" width="5.29" height="6.96" fill="#ff740f"/>
<rect x="439.42" y="129.39" width="5.29" height="6.96" fill="#ff760e"/>
<rect x="444.66" y="129.39" width="5.29" height="6.96" fill="#ff790b"/>
<rect x="449.89" y="129.39" width="5.29" height="6.96" fill="#ff6e15"/>
<rect x="455.13" y="129.39" width="5.29" height="6.96" fill="#ff6a18"/>
<rect x="460.36" y="129.39" width="5.29" height="6.96" fill="#ff6c16"/>
<rect x="465.60" y="129.39" width="5.29" height="6.96" fill="#ff641d"/>
<rect x="470.83" y="129.39" width="5.29" height="6.96" fill="#ff671b"/>
<rect x="476.07" y="129.39" width="5.29" height="6.96" fill="#ff6a18"/>
<rect x="481.30" y="129.39" width="5.29" height="6.96" fill="#ff6919"/>
<rect x="486.54" y="129.39" width="5.29" height="6.96" fill="#ff5c26"/>
<rect x="491.77" y="129.39" width="5.29" height="6.96" fill="#ff6022"/>
<rect x="497.01" y="129.39" width="5.29" height="6.96" fill="#ff5131"/>
<rect x="502.24" y="129.39" width="5.29" height="6.96" fill="#ff641d"/>
<rect x="507.48" y="129.39" width="5.29" height="6.96" fill="#ff572a"/>
<rect x="512.71" y="129.39" width="5.29" height="6.96" fill="#ff5929"/>
<rect x="517.95" y="129.39" width="5.29" height="6.96" fill="#ff4d35"/>
<rect x="523.18" y="129.39" width="5.29" height="6.96" fill="#ff532e"/>
<rect x="528.42" y="129.39" width="5.29" height="6.96" fill="#ff5032"/>
<rect x="533.65" y="129.39" width="5.29" height="6.96" fill="#e43a4b"/>
<rect x="538.89" y="129.39" width="5.29" height="6.96" fill="#c62c5c"/>
<rect x="544.12" y="129.39" width="5.29" height="6.96" fill="#d63354"/>
<rect x="549.36" y="129.39" width="5.29" height="6.96" fill="#c62c5c"/>
<rect x="554.59" y="129.39" width="5.29" height="6.96" fill="#b92761"/>
<rect x="559.83" y="129.39" width="5.29" height="6.96" fill="#c12a5e"/>
<rect x="565.06" y="129.39" width="5.29" height="6.96" fill="#b22564"/>
<rect x="570.30" y="129.39" width="5.29" height="6.96" fill="#ae2465"/>
<rect x="575.53" y="129.39" width="5.29" height="6.96" fill="#a72168"/>
<rect x="580.77" y="129.39" width="5.29" height="6.96" fill="#ae2465"/>
<rect x="586.00" y="129.39" width="5.29" height="6.96" fill="#a82267"/>
<rect x="303.31" y="122.48" width="5.29" height="6.96" fill="#ff6120"/>
<rect x="308.55" y="122.48" width="5.29" height="6.96" fill="#ff5a27"/>
<rect x="313.78" y="122.48" width="5.29" height="6.96" fill="#ff5e23"/>
<rect x="319.02" y="122.48" width="5.29" height="6.96" fill="#ff661c"/>
<rect x="324.25" y="122.48" width="5.29" height="6.96" fill="#ff6e15"/>
<rect x="329.49" y="122.48" width="5.29" height="6.96" fill="#ff631f"/>
<rect x="334.72" y="122.48" width="5.29" height="6.96" fill="#ff6f13"/>
<rect x="339.96" y="122.48" width="5.29" height="6.96" fill="#ff641d"/>
<rect x="345.19" y="122.48" width="5.29" height="6.96" fill="#ff5c26"/>
<rect x="350.43" y="122.48" width="5.29" height="6.96" fill="#ff6c16"/>
<rect x="355.66" y="122.48" width="5.29" height="6.96" fill="#ff6022"/>
<rect x="360.90" y="122.48" width="5.29" height="6.96" fill="#ff6c16"/>
<rect x="366.13" y="122.48" width="5.29" height="6.96" fill="#ff7311"/>
<rect x="371.37" y="122.48" width="5.29" height="6.96" fill="#ff6919"/>
<rect x="376.60" y="122.48" width="5.29" height="6.96" fill="#ff6c16"/>
<rect x="381.84" y="122.48" width="5.29" height="6.96" fill="#ff8501"/>
<rect x="387.07" y="122.48" width="5.29" height="6.96" fill="#ff7311"/>
<rect x="392.31" y="122.48" width="5.29" height="6.96" fill="#ff740f"/>
<rect x="397.54" y="122.48" width="5.29" height="6.96" fill="#ff7b09"/>
<rect x="402.78" y="122.48" width="5.29" height="6.96" fill="#ff7311"/>
<rect x="408.01" y="122.48" width="5.29" height="6.96" fill="#ff7311"/>
<rect x="413.25" y="122.48" width="5.29" height="6.96" fill="#ff760e"/>
<rect x="418.48" y="122.48" width="5.29" height="6.96" fill="#ff5e23"/>
<rect x="423.72" y="122.48" width="5.29" height="6.96" fill="#ff8005"/>
<rect x="428.95" y="122.48" width="5.29" height="6.96" fill="#ff6919"/>
<rect x="434.19" y="122.48" width="5.29" height="6.96" fill="#ff6919"/>
<rect x="439.42" y="122.48" width="5.29" height="6.96" fill="#ff760e"/>
<rect x="444.66" y="122.48" width="5.29" height="6.96" fill="#ff7112"/>
<rect x="449.89" y="122.48" width="5.29" height="6.96" fill="#ff641d"/>
<rect x="455.13" y="122.48" width="5.29" height="6.96" fill="#ff7112"/>
<rect x="460.36" y="122.48" width="5.29" height="6.96" fill="#ff631f"/>
<rect x="465.60" y="122.48" width="5.29" height="6.96" fill="#ff661c"/>
<rect x="470.83" y="122.48" width="5.29" height="6.96" fill="#ff5e23"/>
<rect x="476.07" y="122.48" width="5.29" height="6.96" fill="#ff631f"/>
<rect x="481.30" y="122.48" width="5.29" height="6.96" fill="#ff6c16"/>
<rect x="486.54" y="122.48" width="5.29" height="6.96" fill="#ff671b"/>
<rect x="491.77" y="122.48" width="5.29" height="6.96" fill="#ff671b"/>
<rect x="497.01" y="122.48" width="5.29" height="6.96" fill="#ff6a18"/>
<rect x="502.24" y="122.48" width="5.29" height="6.96" fill="#ff6120"/>
<rect x="507.48" y="122.48" width="5.29" height="6.96" fill="#ff5a27"/>
<rect x="512.71" y="122.48" width="5.29" height="6.96" fill="#ff5a27"/>
<rect x="517.95" y="122.48" width="5.29" height="6.96" fill="#ff6919"/>
<rect x="523.18" y="122.48" width="5.29" height="6.96" fill="#e93d48"/>
<rect x="528.42" y="122.48" width="5.29" height="6.96" fill="#e93d48"/>
<rect x="533.65" y="122.48" width="5.29" height="6.96" fill="#ff4d35"/>
<rect x="538.89" y="122.48" width="5.29" height="6.96" fill="#df374e"/>
<rect x="544.12" y="122.48" width="5.29" height="6.96" fill="#d83453"/>
<rect x="549.36" y="122.48" width="5.29" height="6.96" fill="#cc2e59"/>
<rect x="554.59" y="122.48" width="5.29" height="6.96" fill="#c42b5d"/>
<rect x="559.83" y="122.48" width="5.29" height="6.96" fill="#b92761"/>
<rect x="565.06" y="122.48" width="5.29" height="6.96" fill="#b42563"/>
<rect x="570.30" y="122.48" width="5.29" height="6.96" fill="#bb2861"/>
<rect x="575.53" y="122.48" width="5.29" height="6.96" fill="#bd2960"/>
<rect x="580.77" y="122.48" width="5.29" height="6.96" fill="#bb2861"/>
<rect x="586.00" y="122.48" width="5.29" height="6.96" fill="#b02465"/>
<rect x="303.31" y="115.58" width="5.29" height="6.96" fill="#ff5a27"/>
<rect x="308.55" y="115.58" width="5.29" height="6.96" fill="#ff661c"/>
<rect x="313.78" y="115.58" width="5.29" height="6.96" fill="#ff661c"/>
<rect x="319.02" y="115.58" width="5.29" height="6.96" fill="#ff552d"/>
<rect x="324.25" y="115.58" width="5.29" height="6.96" fill="#ff671b"/>
<rect x="329.49" y="115.58" width="5.29" height="6.96" fill="#ff661c"/>
<rect x="334.72" y="115.58" width="5.29" height="6.96" fill="#ff6f13"/>
<rect x="339.96" y="115.58" width="5.29" height="6.96" fill="#ff5929"/>
<rect x="345.19" y="115.58" width="5.29" height="6.96" fill="#ff5929"/>
<rect x="350.43" y="115.58" width="5.29" height="6.96" fill="#ff6a18"/>
<rect x="355.66" y="115.58" width="5.29" height="6.96" fill="#ff572a"/>
<rect x="360.90" y="115.58" width="5.29" height="6.96" fill="#ff6022"/>
<rect x="366.13" y="115.58" width="5.29" height="6.96" fill="#ff5e23"/>
<rect x="371.37" y="115.58" width="5.29" height="6.96" fill="#ff6120"/>
<rect x="376.60" y="115.58" width="5.29" height="6.96" fill="#ff5c26"/>
<rect x="381.84" y="115.58" width="5.29" height="6.96" fill="#ff6a18"/>
<rect x="387.07" y="115.58" width="5.29" height="6.96" fill="#ff780c"/>
<rect x="392.31" y="115.58" width="5.29" height="6.96" fill="#ff760e"/>
<rect x="397.54" y="115.58" width="5.29" height="6.96" fill="#ff780c"/>
<rect x="402.78" y="115.58" width="5.29" height="6.96" fill="#ff6f13"/>
<rect x="408.01" y="115.58" width="5.29" height="6.96" fill="#ff8005"/>
<rect x="413.25" y="115.58" width="5.29" height="6.96" fill="#ff780c"/>
<rect x="418.48" y="115.58" width="5.29" height="6.96" fill="#ff7d08"/>
<rect x="423.72" y="115.58" width="5.29" height="6.96" fill="#ff661c"/>
<rect x="428.95" y="115.58" width="5.29" height="6.96" fill="#ff760e"/>
<rect x="434.19" y="115.58" width="5.29" height="6.96" fill="#ff6919"/>
<rect x="439.42" y="115.58" width="5.29" height="6.96" fill="#ff740f"/>
<rect x="444.66" y="115.58" width="5.29" height="6.96" fill="#ff7311"/>
<rect x="449.89" y="115.58" width="5.29" height="6.96" fill="#ff661c"/>
<rect x="455.13" y="115.58" width="5.29" height="6.96" fill="#ff7112"/>
<rect x="460.36" y="115.58" width="5.29" height="6.96" fill="#ff790b"/>
<rect x="465.60" y="115.58" width="5.29" height="6.96" fill="#ff7311"/>
<rect x="470.83" y="115.58" width="5.29" height="6.96" fill="#ff7311"/>
<rect x="476.07" y="115.58" width="5.29" height="6.96" fill="#ff641d"/>
<rect x="481.30" y="115.58" width="5.29" height="6.96" fill="#ff641d"/>
<rect x="486.54" y="115.58" width="5.29" height="6.96" fill="#ff6022"/>
<rect x="491.77" y="115.58" width="5.29" height="6.96" fill="#ff6919"/>
<rect x="497.01" y="115.58" width="5.29" height="6.96" fill="#ff6f13"/>
<rect x="502.24" y="115.58" width="5.29" height="6.96" fill="#ff671b"/>
<rect x="507.48" y="115.58" width="5.29" height="6.96" fill="#ff631f"/>
<rect x="512.71" y="115.58" width="5.29" height="6.96" fill="#ff572a"/>
<rect x="517.95" y="115.58" width="5.29" height="6.96" fill="#ff6120"/>
<rect x="523.18" y="115.58" width="5.29" height="6.96" fill="#ff572a"/>
<rect x="528.42" y="115.58" width="5.29" height="6.96" fill="#f6453e"/>
<rect x="533.65" y="115.58" width="5.29" height="6.96" fill="#cf3058"/>
<rect x="538.89" y="115.58" width="5.29" height="6.96" fill="#d53255"/>
<rect x="544.12" y="115.58" width="5.29" height="6.96" fill="#cf3058"/>
<rect x="549.36" y="115.58" width="5.29" height="6.96" fill="#e43a4b"/>
<rect x="554.59" y="115.58" width="5.29" height="6.96" fill="#cd2f59"/>
<rect x="559.83" y="115.58" width="5.29" height="6.96" fill="#bd2960"/>
<rect x="565.06" y="115.58" width="5.29" height="6.96" fill="#bf295f"/>
<rect x="570.30" y="115.58" width="5.29" height="6.96" fill="#cf3058"/>
<rect x="575.53" y="115.58" width="5.29" height="6.96" fill="#b22564"/>
<rect x="580.77" y="115.58" width="5.29" height="6.96" fill="#c12a5e"/>
<rect x="586.00" y="115.58" width="5.29" height="6.96" fill="#b92761"/>
<rect x="303.31" y="108.68" width="5.29" height="6.96" fill="#ff6c16"/>
<rect x="308.55" y="108.68" width="5.29" height="6.96" fill="#ff641d"/>
<rect x="313.78" y="108.68" width="5.29" height="6.96" fill="#ff5c26"/>
<rect x="319.02" y="108.68" width="5.29" height="6.96" fill="#ff641d"/>
<rect x="324.25" y="108.68" width="5.29" height="6.96" fill="#ff6022"/>
<rect x="329.49" y="108.68" width="5.29" height="6.96" fill="#ff671b"/>
<rect x="334.72" y="108.68" width="5.29" height="6.96" fill="#ff5e23"/>
<rect x="339.96" y="108.68" width="5.29" height="6.96" fill="#ff7112"/>
<rect x="345.19" y="108.68" width="5.29" height="6.96" fill="#ff6120"/>
<rect x="350.43" y="108.68" width="5.29" height="6.96" fill="#ff661c"/>
<rect x="355.66" y="108.68" width="5.29" height="6.96" fill="#ff5e23"/>
<rect x="360.90" y="108.68" width="5.29" height="6.96" fill="#ff661c"/>
<rect x="366.13" y="108.68" width="5.29" height="6.96" fill="#ff661c"/>
<rect x="371.37" y="108.68" width="5.29" height="6.96" fill="#ff6a18"/>
<rect x="376.60" y="108.68" width="5.29" height="6.96" fill="#ff7311"/>
<rect x="381.84" y="108.68" width="5.29" height="6.96" fill="#ff671b"/>
<rect x="387.07" y="108.68" width="5.29" height="6.96" fill="#ff671b"/>
<rect x="392.31" y="108.68" width="5.29" height="6.96" fill="#ff7b09"/>
<rect x="397.54" y="108.68" width="5.29" height="6.96" fill="#ff7112"/>
<rect x="402.78" y="108.68" width="5.29" height="6.96" fill="#ff6e15"/>
<rect x="408.01" y="108.68" width="5.29" height="6.96" fill="#ff7e06"/>
<rect x="413.25" y="108.68" width="5.29" height="6.96" fill="#ff7b09"/>
<rect x="418.48" y="108.68" width="5.29" height="6.96" fill="#ff5d24"/>
<rect x="423.72" y="108.68" width="5.29" height="6.96" fill="#ff6f13"/>
<rect x="428.95" y="108.68" width="5.29" height="6.96" fill="#ff7b09"/>
<rect x="434.19" y="108.68" width="5.29" height="6.96" fill="#ff7b09"/>
<rect x="439.42" y="108.68" width="5.29" height="6.96" fill="#ff6e15"/>
<rect x="444.66" y="108.68" width="5.29" height="6.96" fill="#ff8203"/>
<rect x="449.89" y="108.68" width="5.29" height="6.96" fill="#ff6a18"/>
<rect x="455.13" y="108.68" width="5.29" height="6.96" fill="#ff6f13"/>
<rect x="460.36" y="108.68" width="5.29" height="6.96" fill="#ff7311"/>
<rect x="465.60" y="108.68" width="5.29" height="6.96" fill="#ff6f13"/>
<rect x="470.83" y="108.68" width="5.29" height="6.96" fill="#ff760e"/>
<rect x="476.07" y="108.68" width="5.29" height="6.96" fill="#ff780c"/>
<rect x="481.30" y="108.68" width="5.29" height="6.96" fill="#ff6c16"/>
<rect x="486.54" y="108.68" width="5.29" height="6.96" fill="#ff780c"/>
<rect x="491.77" y="108.68" width="5.29" height="6.96" fill="#ff641d"/>
<rect x="497.01" y="108.68" width="5.29" height="6.96" fill="#ff661c"/>
<rect x="502.24" y="108.68" width="5.29" height="6.96" fill="#ff760e"/>
<rect x="507.48" y="108.68" width="5.29" height="6.96" fill="#ff661c"/>
<rect x="512.71" y="108.68" width="5.29" height="6.96" fill="#ff6c16"/>
<rect x="517.95" y="108.68" width="5.29" height="6.96" fill="#ff5c26"/>
<rect x="523.18" y="108.68" width="5.29" height="6.96" fill="#ff5929"/>
<rect x="528.42" y="108.68" width="5.29" height="6.96" fill="#ff552d"/>
<rect x="533.65" y="108.68" width="5.29" height="6.96" fill="#ff5131"/>
<rect x="538.89" y="108.68" width="5.29" height="6.96" fill="#dc3651"/>
<rect x="544.12" y="108.68" width="5.29" height="6.96" fill="#ff4d35"/>
<rect x="549.36" y="108.68" width="5.29" height="6.96" fill="#e3394c"/>
<rect x="554.59" y="108.68" width="5.29" height="6.96" fill="#e1384d"/>
<rect x="559.83" y="108.68" width="5.29" height="6.96" fill="#d13157"/>
<rect x="565.06" y="108.68" width="5.29" height="6.96" fill="#d33156"/>
<rect x="570.30" y="108.68" width="5.29" height="6.96" fill="#d13157"/>
<rect x="575.53" y="108.68" width="5.29" height="6.96" fill="#b92761"/>
<rect x="580.77" y="108.68" width="5.29" height="6.96" fill="#b02465"/>
<rect x="586.00" y="108.68" width="5.29" height="6.96" fill="#cc2e59"/>
<rect x="303.31" y="101.78" width="5.29" height="6.96" fill="#ff6919"/>
<rect x="308.55" y="101.78" width="5.29" height="6.96" fill="#ff5e23"/>
<rect x="313.78" y="101.78" width="5.29" height="6.96" fill="#ff6120"/>
<rect x="319.02" y="101.78" width="5.29" height="6.96" fill="#ff562b"/>
<rect x="324.25" y="101.78" width="5.29" height="6.96" fill="#ff532e"/>
<rect x="329.49" y="101.78" width="5.29" height="6.96" fill="#ff6022"/>
<rect x="334.72" y="101.78" width="5.29" height="6.96" fill="#ff522f"/>
<rect x="339.96" y="101.78" width="5.29" height="6.96" fill="#ff661c"/>
<rect x="345.19" y="101.78" width="5.29" height="6.96" fill="#ff5a27"/>
<rect x="350.43" y="101.78" width="5.29" height="6.96" fill="#ff641d"/>
<rect x="355.66" y="101.78" width="5.29" height="6.96" fill="#ff7311"/>
<rect x="360.90" y="101.78" width="5.29" height="6.96" fill="#ff740f"/>
<rect x="366.13" y="101.78" width="5.29" height="6.96" fill="#ff631f"/>
<rect x="371.37" y="101.78" width="5.29" height="6.96" fill="#ff7112"/>
<rect x="376.60" y="101.78" width="5.29" height="6.96" fill="#ff6120"/>
<rect x="381.84" y="101.78" width="5.29" height="6.96" fill="#ff671b"/>
<rect x="387.07" y="101.78" width="5.29" height="6.96" fill="#ff7112"/>
<rect x="392.31" y="101.78" width="5.29" height="6.96" fill="#ff7e06"/>
<rect x="397.54" y="101.78" width="5.29" height="6.96" fill="#ff6e15"/>
<rect x="402.78" y="101.78" width="5.29" height="6.96" fill="#ff790b"/>
<rect x="408.01" y="101.78" width="5.29" height="6.96" fill="#ff740f"/>
<rect x="413.25" y="101.78" width="5.29" height="6.96" fill="#ff6919"/>
<rect x="418.48" y="101.78" width="5.29" height="6.96" fill="#ff7311"/>
<rect x="423.72" y="101.78" width="5.29" height="6.96" fill="#ff8203"/>
<rect x="428.95" y="101.78" width="5.29" height="6.96" fill="#ff7311"/>
<rect x="434.19" y="101.78" width="5.29" height="6.96" fill="#ff780c"/>
<rect x="439.42" y="101.78" width="5.29" height="6.96" fill="#ff7b09"/>
<rect x="444.66" y="101.78" width="5.29" height="6.96" fill="#ff6c16"/>
<rect x="449.89" y="101.78" width="5.29" height="6.96" fill="#ff7e06"/>
<rect x="455.13" y="101.78" width="5.29" height="6.96" fill="#ff8203"/>
<rect x="460.36" y="101.78" width="5.29" height="6.96" fill="#ff8203"/>
<rect x="465.60" y="101.78" width="5.29" height="6.96" fill="#ff7e06"/>
<rect x="470.83" y="101.78" width="5.29" height="6.96" fill="#ff6c16"/>
<rect x="476.07" y="101.78" width="5.29" height="6.96" fill="#ff6a18"/>
<rect x="481.30" y="101.78" width="5.29" height="6.96" fill="#ff671b"/>
<rect x="486.54" y="101.78" width="5.29" height="6.96" fill="#ff641d"/>
<rect x="491.77" y="101.78" width="5.29" height="6.96" fill="#ff641d"/>
<rect x="497.01" y="101.78" width="5.29" height="6.96" fill="#ff7311"/>
<rect x="502.24" y="101.78" width="5.29" height="6.96" fill="#ff760e"/>
<rect x="507.48" y="101.78" width="5.29" height="6.96" fill="#ff6120"/>
<rect x="512.71" y="101.78" width="5.29" height="6.96" fill="#ff6c16"/>
<rect x="517.95" y="101.78" width="5.29" height="6.96" fill="#ff5929"/>
<rect x="523.18" y="101.78" width="5.29" height="6.96" fill="#ff5d24"/>
<rect x="528.42" y="101.78" width="5.29" height="6.96" fill="#ff532e"/>
<rect x="533.65" y="101.78" width="5.29" height="6.96" fill="#fd4b37"/>
<rect x="538.89" y="101.78" width="5.29" height="6.96" fill="#ff532e"/>
<rect x="544.12" y="101.78" width="5.29" height="6.96" fill="#ff532e"/>
<rect x="549.36" y="101.78" width="5.29" height="6.96" fill="#fd4b37"/>
<rect x="554.59" y="101.78" width="5.29" height="6.96" fill="#d83453"/>
<rect x="559.83" y="101.78" width="5.29" height="6.96" fill="#cd2f59"/>
<rect x="565.06" y="101.78" width="5.29" height="6.96" fill="#d33156"/>
<rect x="570.30" y="101.78" width="5.29" height="6.96" fill="#ca2e5a"/>
<rect x="575.53" y="101.78" width="5.29" height="6.96" fill="#cd2f59"/>
<rect x="580.77" y="101.78" width="5.29" height="6.96" fill="#b92761"/>
<rect x="586.00" y="101.78" width="5.29" height="6.96" fill="#c42b5d"/>
<rect x="303.31" y="94.87" width="5.29" height="6.96" fill="#ff5d24"/>
<rect x="308.55" y="94.87" width="5.29" height="6.96" fill="#ff631f"/>
<rect x="313.78" y="94.87" width="5.29" height="6.96" fill="#ff6120"/>
<rect x="319.02" y="94.87" width="5.29" height="6.96" fill="#ff5a27"/>
<rect x="324.25" y="94.87" width="5.29" height="6.96" fill="#ff532e"/>
<rect x="329.49" y="94.87" width="5.29" height="6.96" fill="#ff4c36"/>
<rect x="334.72" y="94.87" width="5.29" height="6.96" fill="#ff5929"/>
<rect x="339.96" y="94.87" width="5.29" height="6.96" fill="#ff661c"/>
<rect x="345.19" y="94.87" width="5.29" height="6.96" fill="#ff6919"/>
<rect x="350.43" y="94.87" width="5.29" height="6.96" fill="#fd4b37"/>
<rect x="355.66" y="94.87" width="5.29" height="6.96" fill="#ff5929"/>
<rect x="360.90" y="94.87" width="5.29" height="6.96" fill="#ff5d24"/>
<rect x="366.13" y="94.87" width="5.29" height="6.96" fill="#ff5929"/>
<rect x="371.37" y="94.87" width="5.29" height="6.96" fill="#ff661c"/>
<rect x="376.60" y="94.87" width="5.29" height="6.96" fill="#ff661c"/>
<rect x="381.84" y="94.87" width="5.29" height="6.96" fill="#ff641d"/>
<rect x="387.07" y="94.87" width="5.29" height="6.96" fill="#ff6c16"/>
<rect x="392.31" y="94.87" width="5.29" height="6.96" fill="#ff6120"/>
<rect x="397.54" y="94.87" width="5.29" height="6.96" fill="#ff6919"/>
<rect x="402.78" y="94.87" width="5.29" height="6.96" fill="#ff6919"/>
<rect x="408.01" y="94.87" width="5.29" height="6.96" fill="#ff7b09"/>
<rect x="413.25" y="94.87" width="5.29" height="6.96" fill="#ff641d"/>
<rect x="418.48" y="94.87" width="5.29" height="6.96" fill="#ff7112"/>
<rect x="423.72" y="94.87" width="5.29" height="6.96" fill="#ff7b09"/>
<rect x="428.95" y="94.87" width="5.29" height="6.96" fill="#ff7311"/>
<rect x="434.19" y="94.87" width="5.29" height="6.96" fill="#ff7b09"/>
<rect x="439.42" y="94.87" width="5.29" height="6.96" fill="#ff6e15"/>
<rect x="444.66" y="94.87" width="5.29" height="6.96" fill="#ff780c"/>
<rect x="449.89" y="94.87" width="5.29" height="6.96" fill="#ff7b09"/>
<rect x="455.13" y="94.87" width="5.29" height="6.96" fill="#ff8900"/>
<rect x="460.36" y="94.87" width="5.29" height="6.96" fill="#ff790b"/>
<rect x="465.60" y="94.87" width="5.29" height="6.96" fill="#ff8005"/>
<rect x="470.83" y="94.87" width="5.29" height="6.96" fill="#ff7112"/>
<rect x="476.07" y="94.87" width="5.29" height="6.96" fill="#ff7112"/>
<rect x="481.30" y="94.87" width="5.29" height="6.96" fill="#ff7d08"/>
<rect x="486.54" y="94.87" width="5.29" height="6.96" fill="#ff7311"/>
<rect x="491.77" y="94.87" width="5.29" height="6.96" fill="#ff790b"/>
<rect x="497.01" y="94.87" width="5.29" height="6.96" fill="#ff7112"/>
<rect x="502.24" y="94.87" width="5.29" height="6.96" fill="#ff7d08"/>
<rect x="507.48" y="94.87" width="5.29" height="6.96" fill="#ff7d08"/>
<rect x="512.71" y="94.87" width="5.29" height="6.96" fill="#ff5e23"/>
<rect x="517.95" y="94.87" width="5.29" height="6.96" fill="#ff740f"/>
<rect x="523.18" y="94.87" width="5.29" height="6.96" fill="#ff641d"/>
<rect x="528.42" y="94.87" width="5.29" height="6.96" fill="#ff6120"/>
<rect x="533.65" y="94.87" width="5.29" height="6.96" fill="#ff5a27"/>
<rect x="538.89" y="94.87" width="5.29" height="6.96" fill="#ff5c26"/>
<rect x="544.12" y="94.87" width="5.29" height="6.96" fill="#fa483a"/>
<rect x="549.36" y="94.87" width="5.29" height="6.96" fill="#d83453"/>
<rect x="554.59" y="94.87" width="5.29" height="6.96" fill="#d33156"/>
<rect x="559.83" y="94.87" width="5.29" height="6.96" fill="#ff4e33"/>
<rect x="565.06" y="94.87" width="5.29" height="6.96" fill="#e63b4a"/>
<rect x="570.30" y="94.87" width="5.29" height="6.96" fill="#df374e"/>
<rect x="575.53" y="94.87" width="5.29" height="6.96" fill="#d53255"/>
<rect x="580.77" y="94.87" width="5.29" height="6.96" fill="#c62c5c"/>
<rect x="586.00" y="94.87" width="5.29" height="6.96" fill="#b42563"/>
<rect x="303.31" y="87.97" width="5.29" height="6.96" fill="#ff572a"/>
<rect x="308.55" y="87.97" width="5.29" height="6.96" fill="#ff552d"/>
<rect x="313.78" y="87.97" width="5.29" height="6.96" fill="#ff572a"/>
<rect x="319.02" y="87.97" width="5.29" height="6.96" fill="#ff6022"/>
<rect x="324.25" y="87.97" width="5.29" height="6.96" fill="#ff532e"/>
<rect x="329.49" y="87.97" width="5.29" height="6.96" fill="#ff522f"/>
<rect x="334.72" y="87.97" width="5.29" height="6.96" fill="#f6453e"/>
<rect x="339.96" y="87.97" width="5.29" height="6.96" fill="#ff5a27"/>
<rect x="345.19" y="87.97" width="5.29" height="6.96" fill="#ff572a"/>
<rect x="350.43" y="87.97" width="5.29" height="6.96" fill="#ff532e"/>
<rect x="355.66" y="87.97" width="5.29" height="6.96" fill="#ff5d24"/>
<rect x="360.90" y="87.97" width="5.29" height="6.96" fill="#ff552d"/>
<rect x="366.13" y="87.97" width="5.29" height="6.96" fill="#ff5a27"/>
<rect x="371.37" y="87.97" width="5.29" height="6.96" fill="#ff7112"/>
<rect x="376.60" y="87.97" width="5.29" height="6.96" fill="#ff6a18"/>
<rect x="381.84" y="87.97" width="5.29" height="6.96" fill="#ff6f13"/>
<rect x="387.07" y="87.97" width="5.29" height="6.96" fill="#ff7112"/>
<rect x="392.31" y="87.97" width="5.29" height="6.96" fill="#ff7311"/>
<rect x="397.54" y="87.97" width="5.29" height="6.96" fill="#ff7112"/>
<rect x="402.78" y="87.97" width="5.29" height="6.96" fill="#ff8501"/>
<rect x="408.01" y="87.97" width="5.29" height="6.96" fill="#ff7112"/>
<rect x="413.25" y="87.97" width="5.29" height="6.96" fill="#ff780c"/>
<rect x="418.48" y="87.97" width="5.29" height="6.96" fill="#ff7112"/>
<rect x="423.72" y="87.97" width="5.29" height="6.96" fill="#ff6f13"/>
<rect x="428.95" y="87.97" width="5.29" height="6.96" fill="#ff5e23"/>
<rect x="434.19" y="87.97" width="5.29" height="6.96" fill="#ff631f"/>
<rect x="439.42" y="87.97" width="5.29" height="6.96" fill="#ff8203"/>
<rect x="444.66" y="87.97" width="5.29" height="6.96" fill="#ff8203"/>
<rect x="449.89" y="87.97" width="5.29" height="6.96" fill="#ff6f13"/>
<rect x="455.13" y="87.97" width="5.29" height="6.96" fill="#ff7311"/>
<rect x="460.36" y="87.97" width="5.29" height="6.96" fill="#ff790b"/>
<rect x="465.60" y="87.97" width="5.29" height="6.96" fill="#ff6919"/>
<rect x="470.83" y="87.97" width="5.29" height="6.96" fill="#ff8203"/>
<rect x="476.07" y="87.97" width="5.29" height="6.96" fill="#ff661c"/>
<rect x="481.30" y="87.97" width="5.29" height="6.96" fill="#ff671b"/>
<rect x="486.54" y="87.97" width="5.29" height="6.96" fill="#ff562b"/>
<rect x="491.77" y="87.97" width="5.29" height="6.96" fill="#ff790b"/>
<rect x="497.01" y="87.97" width="5.29" height="6.96" fill="#ff6a18"/>
<rect x="502.24" y="87.97" width="5.29" height="6.96" fill="#ff780c"/>
<rect x="507.48" y="87.97" width="5.29" height="6.96" fill="#ff5e23"/>
<rect x="512.71" y="87.97" width="5.29" height="6.96" fill="#ff6919"/>
<rect x="517.95" y="87.97" width="5.29" height="6.96" fill="#ff661c"/>
<rect x="523.18" y="87.97" width="5.29" height="6.96" fill="#ff641d"/>
<rect x="528.42" y="87.97" width="5.29" height="6.96" fill="#ff7112"/>
<rect x="533.65" y="87.97" width="5.29" height="6.96" fill="#ff6f13"/>
<rect x="538.89" y="87.97" width="5.29" height="6.96" fill="#ff6120"/>
<rect x="544.12" y="87.97" width="5.29" height="6.96" fill="#ff4e33"/>
<rect x="549.36" y="87.97" width="5.29" height="6.96" fill="#e83c49"/>
<rect x="554.59" y="87.97" width="5.29" height="6.96" fill="#ff562b"/>
<rect x="559.83" y="87.97" width="5.29" height="6.96" fill="#ff5131"/>
<rect x="565.06" y="87.97" width="5.29" height="6.96" fill="#ff522f"/>
<rect x="570.30" y="87.97" width="5.29" height="6.96" fill="#e3394c"/>
<rect x="575.53" y="87.97" width="5.29" height="6.96" fill="#cd2f59"/>
<rect x="580.77" y="87.97" width="5.29" height="6.96" fill="#d13157"/>
<rect x="586.00" y="87.97" width="5.29" height="6.96" fill="#da3552"/>
<rect x="303.31" y="81.07" width="5.29" height="6.96" fill="#fa483a"/>
<rect x="308.55" y="81.07" width="5.29" height="6.96" fill="#ff5032"/>
<rect x="313.78" y="81.07" width="5.29" height="6.96" fill="#ff562b"/>
<rect x="319.02" y="81.07" width="5.29" height="6.96" fill="#f7463d"/>
<rect x="324.25" y="81.07" width="5.29" height="6.96" fill="#ff4e33"/>
<rect x="329.49" y="81.07" width="5.29" height="6.96" fill="#f6453e"/>
<rect x="334.72" y="81.07" width="5.29" height="6.96" fill="#ff4c36"/>
<rect x="339.96" y="81.07" width="5.29" height="6.96" fill="#f9473b"/>
<rect x="345.19" y="81.07" width="5.29" height="6.96" fill="#ff4d35"/>
<rect x="350.43" y="81.07" width="5.29" height="6.96" fill="#ff5131"/>
<rect x="355.66" y="81.07" width="5.29" height="6.96" fill="#ff552d"/>
<rect x="360.90" y="81.07" width="5.29" height="6.96" fill="#ff572a"/>
<rect x="366.13" y="81.07" width="5.29" height="6.96" fill="#fc4a39"/>
<rect x="371.37" y="81.07" width="5.29" height="6.96" fill="#ff6a18"/>
<rect x="376.60" y="81.07" width="5.29" height="6.96" fill="#ff5e23"/>
<rect x="381.84" y="81.07" width="5.29" height="6.96" fill="#ff5a27"/>
<rect x="387.07" y="81.07" width="5.29" height="6.96" fill="#ff6120"/>
<rect x="392.31" y="81.07" width="5.29" height="6.96" fill="#ff6c16"/>
<rect x="397.54" y="81.07" width="5.29" height="6.96" fill="#ff641d"/>
<rect x="402.78" y="81.07" width="5.29" height="6.96" fill="#ff6a18"/>
<rect x="408.01" y="81.07" width="5.29" height="6.96" fill="#ff6a18"/>
<rect x="413.25" y="81.07" width="5.29" height="6.96" fill="#ff760e"/>
<rect x="418.48" y="81.07" width="5.29" height="6.96" fill="#ff6a18"/>
<rect x="423.72" y="81.07" width="5.29" height="6.96" fill="#ff760e"/>
<rect x="428.95" y="81.07" width="5.29" height="6.96" fill="#ff760e"/>
<rect x="434.19" y="81.07" width="5.29" height="6.96" fill="#ff7311"/>
<rect x="439.42" y="81.07" width="5.29" height="6.96" fill="#ff7e06"/>
<rect x="444.66" y="81.07" width="5.29" height="6.96" fill="#ff7311"/>
<rect x="449.89" y="81.07" width="5.29" height="6.96" fill="#ff6919"/>
<rect x="455.13" y="81.07" width="5.29" height="6.96" fill="#ff760e"/>
<rect x="460.36" y="81.07" width="5.29" height="6.96" fill="#ff740f"/>
<rect x="465.60" y="81.07" width="5.29" height="6.96" fill="#ff7112"/>
<rect x="470.83" y="81.07" width="5.29" height="6.96" fill="#ff7311"/>
<rect x="476.07" y="81.07" width="5.29" height="6.96" fill="#ff8501"/>
<rect x="481.30" y="81.07" width="5.29" height="6.96" fill="#ff7112"/>
<rect x="486.54" y="81.07" width="5.29" height="6.96" fill="#ff7112"/>
<rect x="491.77" y="81.07" width="5.29" height="6.96" fill="#ff6919"/>
<rect x="497.01" y="81.07" width="5.29" height="6.96" fill="#ff760e"/>
<rect x="502.24" y="81.07" width="5.29" height="6.96" fill="#ff6919"/>
<rect x="507.48" y="81.07" width="5.29" height="6.96" fill="#ff6120"/>
<rect x="512.71" y="81.07" width="5.29" height="6.96" fill="#ff5c26"/>
<rect x="517.95" y="81.07" width="5.29" height="6.96" fill="#ff6919"/>
<rect x="523.18" y="81.07" width="5.29" height="6.96" fill="#ff6919"/>
<rect x="528.42" y="81.07" width="5.29" height="6.96" fill="#ff532e"/>
<rect x="533.65" y="81.07" width="5.29" height="6.96" fill="#ff562b"/>
<rect x="538.89" y="81.07" width="5.29" height="6.96" fill="#ff5d24"/>
<rect x="544.12" y="81.07" width="5.29" height="6.96" fill="#ff5c26"/>
<rect x="549.36" y="81.07" width="5.29" height="6.96" fill="#fa483a"/>
<rect x="554.59" y="81.07" width="5.29" height="6.96" fill="#ff4e33"/>
<rect x="559.83" y="81.07" width="5.29" height="6.96" fill="#ff562b"/>
<rect x="565.06" y="81.07" width="5.29" height="6.96" fill="#fa483a"/>
<rect x="570.30" y="81.07" width="5.29" height="6.96" fill="#d53255"/>
<rect x="575.53" y="81.07" width="5.29" height="6.96" fill="#cd2f59"/>
<rect x="580.77" y="81.07" width="5.29" height="6.96" fill="#c12a5e"/>
<rect x="586.00" y="81.07" width="5.29" height="6.96" fill="#ca2e5a"/>
<rect x="303.31" y="74.17" width="5.29" height="6.96" fill="#ff4d35"/>
<rect x="308.55" y="74.17" width="5.29" height="6.96" fill="#f34340"/>
<rect x="313.78" y="74.17" width="5.29" height="6.96" fill="#ff4c36"/>
<rect x="319.02" y="74.17" width="5.29" height="6.96" fill="#ff532e"/>
<rect x="324.25" y="74.17" width="5.29" height="6.96" fill="#ff4d35"/>
<rect x="329.49" y="74.17" width="5.29" height="6.96" fill="#ff522f"/>
<rect x="334.72" y="74.17" width="5.29" height="6.96" fill="#f9473b"/>
<rect x="339.96" y="74.17" width="5.29" height="6.96" fill="#ff572a"/>
<rect x="345.19" y="74.17" width="5.29" height="6.96" fill="#fc4a39"/>
<rect x="350.43" y="74.17" width="5.29" height="6.96" fill="#ff6022"/>
<rect x="355.66" y="74.17" width="5.29" height="6.96" fill="#ff5032"/>
<rect x="360.90" y="74.17" width="5.29" height="6.96" fill="#ff5032"/>
<rect x="366.13" y="74.17" width="5.29" height="6.96" fill="#ff5131"/>
<rect x="371.37" y="74.17" width="5.29" height="6.96" fill="#ff572a"/>
<rect x="376.60" y="74.17" width="5.29" height="6.96" fill="#ff5a27"/>
<rect x="381.84" y="74.17" width="5.29" height="6.96" fill="#ff5c26"/>
<rect x="387.07" y="74.17" width="5.29" height="6.96" fill="#ff6120"/>
<rect x="392.31" y="74.17" width="5.29" height="6.96" fill="#ff6e15"/>
<rect x="397.54" y="74.17" width="5.29" height="6.96" fill="#ff740f"/>
<rect x="402.78" y="74.17" width="5.29" height="6.96" fill="#ff6a18"/>
<rect x="408.01" y="74.17" width="5.29" height="6.96" fill="#ff790b"/>
<rect x="413.25" y="74.17" width="5.29" height="6.96" fill="#ff661c"/>
<rect x="418.48" y="74.17" width="5.29" height="6.96" fill="#ff671b"/>
<rect x="423.72" y="74.17" width="5.29" height="6.96" fill="#ff671b"/>
<rect x="428.95" y="74.17" width="5.29" height="6.96" fill="#ff790b"/>
<rect x="434.19" y="74.17" width="5.29" height="6.96" fill="#ff661c"/>
<rect x="439.42" y="74.17" width="5.29" height="6.96" fill="#ff671b"/>
<rect x="444.66" y="74.17" width="5.29" height="6.96" fill="#ff7e06"/>
<rect x="449.89" y="74.17" width="5.29" height="6.96" fill="#ff8402"/>
<rect x="455.13" y="74.17" width="5.29" height="6.96" fill="#ff8005"/>
<rect x="460.36" y="74.17" width="5.29" height="6.96" fill="#ff661c"/>
<rect x="465.60" y="74.17" width="5.29" height="6.96" fill="#ff7311"/>
<rect x="470.83" y="74.17" width="5.29" height="6.96" fill="#ff780c"/>
<rect x="476.07" y="74.17" width="5.29" height="6.96" fill="#ff7112"/>
<rect x="481.30" y="74.17" width="5.29" height="6.96" fill="#ff6022"/>
<rect x="486.54" y="74.17" width="5.29" height="6.96" fill="#ff6a18"/>
<rect x="491.77" y="74.17" width="5.29" height="6.96" fill="#ff5d24"/>
<rect x="497.01" y="74.17" width="5.29" height="6.96" fill="#ff6022"/>
<rect x="502.24" y="74.17" width="5.29" height="6.96" fill="#ff7d08"/>
<rect x="507.48" y="74.17" width="5.29" height="6.96" fill="#ff6e15"/>
<rect x="512.71" y="74.17" width="5.29" height="6.96" fill="#ff5a27"/>
<rect x="517.95" y="74.17" width="5.29" height="6.96" fill="#ff5929"/>
<rect x="523.18" y="74.17" width="5.29" height="6.96" fill="#ff671b"/>
<rect x="528.42" y="74.17" width="5.29" height="6.96" fill="#ff5c26"/>
<rect x="533.65" y="74.17" width="5.29" height="6.96" fill="#ff6120"/>
<rect x="538.89" y="74.17" width="5.29" height="6.96" fill="#ff552d"/>
<rect x="544.12" y="74.17" width="5.29" height="6.96" fill="#ff562b"/>
<rect x="549.36" y="74.17" width="5.29" height="6.96" fill="#ff572a"/>
<rect x="554.59" y="74.17" width="5.29" height="6.96" fill="#fd4b37"/>
<rect x="559.83" y="74.17" width="5.29" height="6.96" fill="#f4443f"/>
<rect x="565.06" y="74.17" width="5.29" height="6.96" fill="#f7463d"/>
<rect x="570.30" y="74.17" width="5.29" height="6.96" fill="#d83453"/>
<rect x="575.53" y="74.17" width="5.29" height="6.96" fill="#d53255"/>
<rect x="580.77" y="74.17" width="5.29" height="6.96" fill="#d13157"/>
<rect x="586.00" y="74.17" width="5.29" height="6.96" fill="#ca2e5a"/>
<rect x="303.31" y="67.26" width="5.29" height="6.96" fill="#ff4d35"/>
<rect x="308.55" y="67.26" width="5.29" height="6.96" fill="#f4443f"/>
<rect x="313.78" y="67.26" width="5.29" height="6.96" fill="#ff532e"/>
<rect x="319.02" y="67.26" width="5.29" height="6.96" fill="#ff572a"/>
<rect x="324.25" y="67.26" width="5.29" height="6.96" fill="#ff4c36"/>
<rect x="329.49" y="67.26" width="5.29" height="6.96" fill="#fd4b37"/>
<rect x="334.72" y="67.26" width="5.29" height="6.96" fill="#ff522f"/>
<rect x="339.96" y="67.26" width="5.29" height="6.96" fill="#ff5032"/>
<rect x="345.19" y="67.26" width="5.29" height="6.96" fill="#ff4e33"/>
<rect x="350.43" y="67.26" width="5.29" height="6.96" fill="#ff4e33"/>
<rect x="355.66" y="67.26" width="5.29" height="6.96" fill="#ff4c36"/>
<rect x="360.90" y="67.26" width="5.29" height="6.96" fill="#fd4b37"/>
<rect x="366.13" y="67.26" width="5.29" height="6.96" fill="#ff5a27"/>
<rect x="371.37" y="67.26" width="5.29" height="6.96" fill="#ff6120"/>
<rect x="376.60" y="67.26" width="5.29" height="6.96" fill="#ff532e"/>
<rect x="381.84" y="67.26" width="5.29" height="6.96" fill="#ff5e23"/>
<rect x="387.07" y="67.26" width="5.29" height="6.96" fill="#ff641d"/>
<rect x="392.31" y="67.26" width="5.29" height="6.96" fill="#ff631f"/>
<rect x="397.54" y="67.26" width="5.29" height="6.96" fill="#ff631f"/>
<rect x="402.78" y="67.26" width="5.29" height="6.96" fill="#ff671b"/>
<rect x="408.01" y="67.26" width="5.29" height="6.96" fill="#ff5c26"/>
<rect x="413.25" y="67.26" width="5.29" height="6.96" fill="#ff6e15"/>
<rect x="418.48" y="67.26" width="5.29" height="6.96" fill="#ff6e15"/>
<rect x="423.72" y="67.26" width="5.29" height="6.96" fill="#ff8501"/>
<rect x="428.95" y="67.26" width="5.29" height="6.96" fill="#ff7d08"/>
<rect x="434.19" y="67.26" width="5.29" height="6.96" fill="#ff7112"/>
<rect x="439.42" y="67.26" width="5.29" height="6.96" fill="#ff740f"/>
<rect x="444.66" y="67.26" width="5.29" height="6.96" fill="#ff8402"/>
<rect x="449.89" y="67.26" width="5.29" height="6.96" fill="#ff8402"/>
<rect x="455.13" y="67.26" width="5.29" height="6.96" fill="#ff760e"/>
<rect x="460.36" y="67.26" width="5.29" height="6.96" fill="#ff740f"/>
<rect x="465.60" y="67.26" width="5.29" height="6.96" fill="#ff671b"/>
<rect x="470.83" y="67.26" width="5.29" height="6.96" fill="#ff6f13"/>
<rect x="476.07" y="67.26" width="5.29" height="6.96" fill="#ff6f13"/>
<rect x="481.30" y="67.26" width="5.29" height="6.96" fill="#ff6919"/>
<rect x="486.54" y="67.26" width="5.29" height="6.96" fill="#ff7e06"/>
<rect x="491.77" y="67.26" width="5.29" height="6.96" fill="#ff5d24"/>
<rect x="497.01" y="67.26" width="5.29" height="6.96" fill="#ff6a18"/>
<rect x="502.24" y="67.26" width="5.29" height="6.96" fill="#ff6e15"/>
<rect x="507.48" y="67.26" width="5.29" height="6.96" fill="#ff6c16"/>
<rect x="512.71" y="67.26" width="5.29" height="6.96" fill="#ff760e"/>
<rect x="517.95" y="67.26" width="5.29" height="6.96" fill="#ff5a27"/>
<rect x="523.18" y="67.26" width="5.29" height="6.96" fill="#ff5d24"/>
<rect x="528.42" y="67.26" width="5.29" height="6.96" fill="#ff6120"/>
<rect x="533.65" y="67.26" width="5.29" height="6.96" fill="#ff6022"/>
<rect x="538.89" y="67.26" width="5.29" height="6.96" fill="#ff5929"/>
<rect x="544.12" y="67.26" width="5.29" height="6.96" fill="#ff532e"/>
<rect x="549.36" y="67.26" width="5.29" height="6.96" fill="#ff5e23"/>
<rect x="554.59" y="67.26" width="5.29" height="6.96" fill="#fc4a39"/>
<rect x="559.83" y="67.26" width="5.29" height="6.96" fill="#f9473b"/>
<rect x="565.06" y="67.26" width="5.29" height="6.96" fill="#eb3e46"/>
<rect x="570.30" y="67.26" width="5.29" height="6.96" fill="#e93d48"/>
<rect x="575.53" y="67.26" width="5.29" height="6.96" fill="#dd3750"/>
<rect x="580.77" y="67.26" width="5.29" height="6.96" fill="#c82d5b"/>
<rect x="586.00" y="67.26" width="5.29" height="6.96" fill="#c22b5e"/>
<rect x="303.31" y="60.36" width="5.29" height="6.96" fill="#f34340"/>
<rect x="308.55" y="60.36" width="5.29" height="6.96" fill="#f34340"/>
<rect x="313.78" y="60.36" width="5.29" height="6.96" fill="#f7463d"/>
<rect x="319.02" y="60.36" width="5.29" height="6.96" fill="#ff5131"/>
<rect x="324.25" y="60.36" width="5.29" height="6.96" fill="#fc4a39"/>
<rect x="329.49" y="60.36" width="5.29" height="6.96" fill="#f4443f"/>
<rect x="334.72" y="60.36" width="5.29" height="6.96" fill="#f4443f"/>
<rect x="339.96" y="60.36" width="5.29" height="6.96" fill="#f34340"/>
<rect x="345.19" y="60.36" width="5.29" height="6.96" fill="#ff552d"/>
<rect x="350.43" y="60.36" width="5.29" height="6.96" fill="#f34340"/>
<rect x="355.66" y="60.36" width="5.29" height="6.96" fill="#e93d48"/>
<rect x="360.90" y="60.36" width="5.29" height="6.96" fill="#fa483a"/>
<rect x="366.13" y="60.36" width="5.29" height="6.96" fill="#ff4c36"/>
<rect x="371.37" y="60.36" width="5.29" height="6.96" fill="#ff4c36"/>
<rect x="376.60" y="60.36" width="5.29" height="6.96" fill="#ff6120"/>
<rect x="381.84" y="60.36" width="5.29" height="6.96" fill="#ff5d24"/>
<rect x="387.07" y="60.36" width="5.29" height="6.96" fill="#ff790b"/>
<rect x="392.31" y="60.36" width="5.29" height="6.96" fill="#ff5c26"/>
<rect x="397.54" y="60.36" width="5.29" height="6.96" fill="#ff5e23"/>
<rect x="402.78" y="60.36" width="5.29" height="6.96" fill="#ff6f13"/>
<rect x="408.01" y="60.36" width="5.29" height="6.96" fill="#ff7112"/>
<rect x="413.25" y="60.36" width="5.29" height="6.96" fill="#ff6a18"/>
<rect x="418.48" y="60.36" width="5.29" height="6.96" fill="#ff5e23"/>
<rect x="423.72" y="60.36" width="5.29" height="6.96" fill="#ff7e06"/>
<rect x="428.95" y="60.36" width="5.29" height="6.96" fill="#ff780c"/>
<rect x="434.19" y="60.36" width="5.29" height="6.96" fill="#ff780c"/>
<rect x="439.42" y="60.36" width="5.29" height="6.96" fill="#ff6f13"/>
<rect x="444.66" y="60.36" width="5.29" height="6.96" fill="#ff7b09"/>
<rect x="449.89" y="60.36" width="5.29" height="6.96" fill="#ff7112"/>
<rect x="455.13" y="60.36" width="5.29" height="6.96" fill="#ff760e"/>
<rect x="460.36" y="60.36" width="5.29" height="6.96" fill="#ff740f"/>
<rect x="465.60" y="60.36" width="5.29" height="6.96" fill="#ff8203"/>
<rect x="470.83" y="60.36" width="5.29" height="6.96" fill="#ff6f13"/>
<rect x="476.07" y="60.36" width="5.29" height="6.96" fill="#ff6f13"/>
<rect x="481.30" y="60.36" width="5.29" height="6.96" fill="#ff7d08"/>
<rect x="486.54" y="60.36" width="5.29" height="6.96" fill="#ff7311"/>
<rect x="491.77" y="60.36" width="5.29" height="6.96" fill="#ff6f13"/>
<rect x="497.01" y="60.36" width="5.29" height="6.96" fill="#ff6a18"/>
<rect x="502.24" y="60.36" width="5.29" height="6.96" fill="#ff740f"/>
<rect x="507.48" y="60.36" width="5.29" height="6.96" fill="#ff641d"/>
<rect x="512.71" y="60.36" width="5.29" height="6.96" fill="#ff6c16"/>
<rect x="517.95" y="60.36" width="5.29" height="6.96" fill="#ff780c"/>
<rect x="523.18" y="60.36" width="5.29" height="6.96" fill="#ff671b"/>
<rect x="528.42" y="60.36" width="5.29" height="6.96" fill="#ff5c26"/>
<rect x="533.65" y="60.36" width="5.29" height="6.96" fill="#ff562b"/>
<rect x="538.89" y="60.36" width="5.29" height="6.96" fill="#ff5e23"/>
<rect x="544.12" y="60.36" width="5.29" height="6.96" fill="#ff5131"/>
<rect x="549.36" y="60.36" width="5.29" height="6.96" fill="#fd4b37"/>
<rect x="554.59" y="60.36" width="5.29" height="6.96" fill="#ff4c36"/>
<rect x="559.83" y="60.36" width="5.29" height="6.96" fill="#d53255"/>
<rect x="565.06" y="60.36" width="5.29" height="6.96" fill="#ff532e"/>
<rect x="570.30" y="60.36" width="5.29" height="6.96" fill="#cf3058"/>
<rect x="575.53" y="60.36" width="5.29" height="6.96" fill="#e83c49"/>
<rect x="580.77" y="60.36" width="5.29" height="6.96" fill="#cd2f59"/>
<rect x="586.00" y="60.36" width="5.29" height="6.96" fill="#d13157"/>
<rect x="303.31" y="53.46" width="5.29" height="6.96" fill="#fd4b37"/>
<rect x="308.55" y="53.46" width="5.29" height="6.96" fill="#fa483a"/>
<rect x="313.78" y="53.46" width="5.29" height="6.96" fill="#ff4c36"/>
<rect x="319.02" y="53.46" width="5.29" height="6.96" fill="#f34340"/>
<rect x="324.25" y="53.46" width="5.29" height="6.96" fill="#f34340"/>
<rect x="329.49" y="53.46" width="5.29" height="6.96" fill="#f6453e"/>
<rect x="334.72" y="53.46" width="5.29" height="6.96" fill="#f34340"/>
<rect x="339.96" y="53.46" width="5.29" height="6.96" fill="#f6453e"/>
<rect x="345.19" y="53.46" width="5.29" height="6.96" fill="#ff5131"/>
<rect x="350.43" y="53.46" width="5.29" height="6.96" fill="#fd4b37"/>
<rect x="355.66" y="53.46" width="5.29" height="6.96" fill="#fc4a39"/>
<rect x="360.90" y="53.46" width="5.29" height="6.96" fill="#fa483a"/>
<rect x="366.13" y="53.46" width="5.29" height="6.96" fill="#ff5032"/>
<rect x="371.37" y="53.46" width="5.29" height="6.96" fill="#ff532e"/>
<rect x="376.60" y="53.46" width="5.29" height="6.96" fill="#ff4d35"/>
<rect x="381.84" y="53.46" width="5.29" height="6.96" fill="#ff5d24"/>
<rect x="387.07" y="53.46" width="5.29" height="6.96" fill="#ff562b"/>
<rect x="392.31" y="53.46" width="5.29" height="6.96" fill="#ff641d"/>
<rect x="397.54" y="53.46" width="5.29" height="6.96" fill="#ff6120"/>
<rect x="402.78" y="53.46" width="5.29" height="6.96" fill="#ff7112"/>
<rect x="408.01" y="53.46" width="5.29" height="6.96" fill="#ff7112"/>
<rect x="413.25" y="53.46" width="5.29" height="6.96" fill="#ff6c16"/>
<rect x="418.48" y="53.46" width="5.29" height="6.96" fill="#ff6e15"/>
<rect x="423.72" y="53.46" width="5.29" height="6.96" fill="#ff740f"/>
<rect x="428.95" y="53.46" width="5.29" height="6.96" fill="#ff8005"/>
<rect x="434.19" y="53.46" width="5.29" height="6.96" fill="#ff7d08"/>
<rect x="439.42" y="53.46" width="5.29" height="6.96" fill="#ff760e"/>
<rect x="444.66" y="53.46" width="5.29" height="6.96" fill="#ff790b"/>
<rect x="449.89" y="53.46" width="5.29" height="6.96" fill="#ff8501"/>
<rect x="455.13" y="53.46" width="5.29" height="6.96" fill="#ff6919"/>
<rect x="460.36" y="53.46" width="5.29" height="6.96" fill="#ff7e06"/>
<rect x="465.60" y="53.46" width="5.29" height="6.96" fill="#ff6f13"/>
<rect x="470.83" y="53.46" width="5.29" height="6.96" fill="#ff8402"/>
<rect x="476.07" y="53.46" width="5.29" height="6.96" fill="#ff6f13"/>
<rect x="481.30" y="53.46" width="5.29" height="6.96" fill="#ff7311"/>
<rect x="486.54" y="53.46" width="5.29" height="6.96" fill="#ff6919"/>
<rect x="491.77" y="53.46" width="5.29" height="6.96" fill="#ff7112"/>
<rect x="497.01" y="53.46" width="5.29" height="6.96" fill="#ff760e"/>
<rect x="502.24" y="53.46" width="5.29" height="6.96" fill="#ff7d08"/>
<rect x="507.48" y="53.46" width="5.29" height="6.96" fill="#ff6022"/>
<rect x="512.71" y="53.46" width="5.29" height="6.96" fill="#ff641d"/>
<rect x="517.95" y="53.46" width="5.29" height="6.96" fill="#ff8b00"/>
<rect x="523.18" y="53.46" width="5.29" height="6.96" fill="#ff6c16"/>
<rect x="528.42" y="53.46" width="5.29" height="6.96" fill="#ff6120"/>
<rect x="533.65" y="53.46" width="5.29" height="6.96" fill="#ff641d"/>
<rect x="538.89" y="53.46" width="5.29" height="6.96" fill="#fd4b37"/>
<rect x="544.12" y="53.46" width="5.29" height="6.96" fill="#ff6919"/>
<rect x="549.36" y="53.46" width="5.29" height="6.96" fill="#ff5929"/>
<rect x="554.59" y="53.46" width="5.29" height="6.96" fill="#fc4a39"/>
<rect x="559.83" y="53.46" width="5.29" height="6.96" fill="#ff5a27"/>
<rect x="565.06" y="53.46" width="5.29" height="6.96" fill="#ff4e33"/>
<rect x="570.30" y="53.46" width="5.29" height="6.96" fill="#f9473b"/>
<rect x="575.53" y="53.46" width="5.29" height="6.96" fill="#e43a4b"/>
<rect x="580.77" y="53.46" width="5.29" height="6.96" fill="#dd3750"/>
<rect x="586.00" y="53.46" width="5.29" height="6.96" fill="#cf3058"/>
<rect x="303.31" y="46.56" width="5.29" height="6.96" fill="#f6453e"/>
<rect x="308.55" y="46.56" width="5.29" height="6.96" fill="#e93d48"/>
<rect x="313.78" y="46.56" width="5.29" height="6.96" fill="#f34340"/>
<rect x="319.02" y="46.56" width="5.29" height="6.96" fill="#ff4c36"/>
<rect x="324.25" y="46.56" width="5.29" height="6.96" fill="#ff4e33"/>
<rect x="329.49" y="46.56" width="5.29" height="6.96" fill="#fa483a"/>
<rect x="334.72" y="46.56" width="5.29" height="6.96" fill="#fa483a"/>
<rect x="339.96" y="46.56" width="5.29" height="6.96" fill="#e93d48"/>
<rect x="345.19" y="46.56" width="5.29" height="6.96" fill="#fa483a"/>
<rect x="350.43" y="46.56" width="5.29" height="6.96" fill="#f6453e"/>
<rect x="355.66" y="46.56" width="5.29" height="6.96" fill="#ff5a27"/>
<rect x="360.90" y="46.56" width="5.29" height="6.96" fill="#fd4b37"/>
<rect x="366.13" y="46.56" width="5.29" height="6.96" fill="#ff532e"/>
<rect x="371.37" y="46.56" width="5.29" height="6.96" fill="#ff532e"/>
<rect x="376.60" y="46.56" width="5.29" height="6.96" fill="#ff4d35"/>
<rect x="381.84" y="46.56" width="5.29" height="6.96" fill="#ff6a18"/>
<rect x="387.07" y="46.56" width="5.29" height="6.96" fill="#ff5a27"/>
<rect x="392.31" y="46.56" width="5.29" height="6.96" fill="#ff5a27"/>
<rect x="397.54" y="46.56" width="5.29" height="6.96" fill="#ff661c"/>
<rect x="402.78" y="46.56" width="5.29" height="6.96" fill="#ff6022"/>
<rect x="408.01" y="46.56" width="5.29" height="6.96" fill="#ff6919"/>
<rect x="413.25" y="46.56" width="5.29" height="6.96" fill="#ff631f"/>
<rect x="418.48" y="46.56" width="5.29" height="6.96" fill="#ff7311"/>
<rect x="423.72" y="46.56" width="5.29" height="6.96" fill="#ff7112"/>
<rect x="428.95" y="46.56" width="5.29" height="6.96" fill="#ff671b"/>
<rect x="434.19" y="46.56" width="5.29" height="6.96" fill="#ff7e06"/>
<rect x="439.42" y="46.56" width="5.29" height="6.96" fill="#ff780c"/>
<rect x="444.66" y="46.56" width="5.29" height="6.96" fill="#ff6e15"/>
<rect x="449.89" y="46.56" width="5.29" height="6.96" fill="#ff7b09"/>
<rect x="455.13" y="46.56" width="5.29" height="6.96" fill="#ff7e06"/>
<rect x="460.36" y="46.56" width="5.29" height="6.96" fill="#ff8c00"/>
<rect x="465.60" y="46.56" width="5.29" height="6.96" fill="#ff7112"/>
<rect x="470.83" y="46.56" width="5.29" height="6.96" fill="#ff8005"/>
<rect x="476.07" y="46.56" width="5.29" height="6.96" fill="#ff760e"/>
<rect x="481.30" y="46.56" width="5.29" height="6.96" fill="#ff7b09"/>
<rect x="486.54" y="46.56" width="5.29" height="6.96" fill="#ff7311"/>
<rect x="491.77" y="46.56" width="5.29" height="6.96" fill="#ff7311"/>
<rect x="497.01" y="46.56" width="5.29" height="6.96" fill="#ff760e"/>
<rect x="502.24" y="46.56" width="5.29" height="6.96" fill="#ff641d"/>
<rect x="507.48" y="46.56" width="5.29" height="6.96" fill="#ff5a27"/>
<rect x="512.71" y="46.56" width="5.29" height="6.96" fill="#ff6919"/>
<rect x="517.95" y="46.56" width="5.29" height="6.96" fill="#ff631f"/>
<rect x="523.18" y="46.56" width="5.29" height="6.96" fill="#ff641d"/>
<rect x="528.42" y="46.56" width="5.29" height="6.96" fill="#ff6919"/>
<rect x="533.65" y="46.56" width="5.29" height="6.96" fill="#ff6022"/>
<rect x="538.89" y="46.56" width="5.29" height="6.96" fill="#ff6919"/>
<rect x="544.12" y="46.56" width="5.29" height="6.96" fill="#ff5d24"/>
<rect x="549.36" y="46.56" width="5.29" height="6.96" fill="#ff5c26"/>
<rect x="554.59" y="46.56" width="5.29" height="6.96" fill="#ff6022"/>
<rect x="559.83" y="46.56" width="5.29" height="6.96" fill="#ff5d24"/>
<rect x="565.06" y="46.56" width="5.29" height="6.96" fill="#ff552d"/>
<rect x="570.30" y="46.56" width="5.29" height="6.96" fill="#ff5131"/>
<rect x="575.53" y="46.56" width="5.29" height="6.96" fill="#d63354"/>
<rect x="580.77" y="46.56" width="5.29" height="6.96" fill="#d53255"/>
<rect x="586.00" y="46.56" width="5.29" height="6.96" fill="#da3552"/>
<rect x="303.31" y="39.65" width="5.29" height="6.96" fill="#ff4c36"/>
<rect x="308.55" y="39.65" width="5.29" height="6.96" fill="#f4443f"/>
<rect x="313.78" y="39.65" width="5.29" height="6.96" fill="#ff4c36"/>
<rect x="319.02" y="39.65" width="5.29" height="6.96" fill="#ff532e"/>
<rect x="324.25" y="39.65" width="5.29" height="6.96" fill="#ff552d"/>
<rect x="329.49" y="39.65" width="5.29" height="6.96" fill="#e93d48"/>
<rect x="334.72" y="39.65" width="5.29" height="6.96" fill="#ff4d35"/>
<rect x="339.96" y="39.65" width="5.29" height="6.96" fill="#e93d48"/>
<rect x="345.19" y="39.65" width="5.29" height="6.96" fill="#ff5032"/>
<rect x="350.43" y="39.65" width="5.29" height="6.96" fill="#ff5131"/>
<rect x="355.66" y="39.65" width="5.29" height="6.96" fill="#ff5131"/>
<rect x="360.90" y="39.65" width="5.29" height="6.96" fill="#ff552d"/>
<rect x="366.13" y="39.65" width="5.29" height="6.96" fill="#ff522f"/>
<rect x="371.37" y="39.65" width="5.29" height="6.96" fill="#ff522f"/>
<rect x="376.60" y="39.65" width="5.29" height="6.96" fill="#ff5929"/>
<rect x="381.84" y="39.65" width="5.29" height="6.96" fill="#ff5e23"/>
<rect x="387.07" y="39.65" width="5.29" height="6.96" fill="#ff6919"/>
<rect x="392.31" y="39.65" width="5.29" height="6.96" fill="#ff641d"/>
<rect x="397.54" y="39.65" width="5.29" height="6.96" fill="#ff6c16"/>
<rect x="402.78" y="39.65" width="5.29" height="6.96" fill="#ff740f"/>
<rect x="408.01" y="39.65" width="5.29" height="6.96" fill="#ff6120"/>
<rect x="413.25" y="39.65" width="5.29" height="6.96" fill="#ff6a18"/>
<rect x="418.48" y="39.65" width="5.29" height="6.96" fill="#ff740f"/>
<rect x="423.72" y="39.65" width="5.29" height="6.96" fill="#ff7112"/>
<rect x="428.95" y="39.65" width="5.29" height="6.96" fill="#ff6a18"/>
<rect x="434.19" y="39.65" width="5.29" height="6.96" fill="#ff7e06"/>
<rect x="439.42" y="39.65" width="5.29" height="6.96" fill="#ff740f"/>
<rect x="444.66" y="39.65" width="5.29" height="6.96" fill="#ff6e15"/>
<rect x="449.89" y="39.65" width="5.29" height="6.96" fill="#ff8b00"/>
<rect x="455.13" y="39.65" width="5.29" height="6.96" fill="#ff6c16"/>
<rect x="460.36" y="39.65" width="5.29" height="6.96" fill="#ff790b"/>
<rect x="465.60" y="39.65" width="5.29" height="6.96" fill="#ff7311"/>
<rect x="470.83" y="39.65" width="5.29" height="6.96" fill="#ff790b"/>
<rect x="476.07" y="39.65" width="5.29" height="6.96" fill="#ff7d08"/>
<rect x="481.30" y="39.65" width="5.29" height="6.96" fill="#ff6e15"/>
<rect x="486.54" y="39.65" width="5.29" height="6.96" fill="#ff740f"/>
<rect x="491.77" y="39.65" width="5.29" height="6.96" fill="#ff7311"/>
<rect x="497.01" y="39.65" width="5.29" height="6.96" fill="#ff6919"/>
<rect x="502.24" y="39.65" width="5.29" height="6.96" fill="#ff790b"/>
<rect x="507.48" y="39.65" width="5.29" height="6.96" fill="#ff6e15"/>
<rect x="512.71" y="39.65" width="5.29" height="6.96" fill="#ff6919"/>
<rect x="517.95" y="39.65" width="5.29" height="6.96" fill="#ff631f"/>
<rect x="523.18" y="39.65" width="5.29" height="6.96" fill="#ff631f"/>
<rect x="528.42" y="39.65" width="5.29" height="6.96" fill="#ff661c"/>
<rect x="533.65" y="39.65" width="5.29" height="6.96" fill="#ff5e23"/>
<rect x="538.89" y="39.65" width="5.29" height="6.96" fill="#ff6c16"/>
<rect x="544.12" y="39.65" width="5.29" height="6.96" fill="#ff4c36"/>
<rect x="549.36" y="39.65" width="5.29" height="6.96" fill="#ff4d35"/>
<rect x="554.59" y="39.65" width="5.29" height="6.96" fill="#ff5a27"/>
<rect x="559.83" y="39.65" width="5.29" height="6.96" fill="#ff4c36"/>
<rect x="565.06" y="39.65" width="5.29" height="6.96" fill="#ff562b"/>
<rect x="570.30" y="39.65" width="5.29" height="6.96" fill="#ff4e33"/>
<rect x="575.53" y="39.65" width="5.29" height="6.96" fill="#ff532e"/>
<rect x="580.77" y="39.65" width="5.29" height="6.96" fill="#ff5032"/>
<rect x="586.00" y="39.65" width="5.29" height="6.96" fill="#ec3f45"/>
<rect x="303.31" y="32.75" width="5.29" height="6.96" fill="#ff4c36"/>
<rect x="308.55" y="32.75" width="5.29" height="6.96" fill="#ff4e33"/>
<rect x="313.78" y="32.75" width="5.29" height="6.96" fill="#fc4a39"/>
<rect x="319.02" y="32.75" width="5.29" height="6.96" fill="#ff4d35"/>
<rect x="324.25" y="32.75" width="5.29" height="6.96" fill="#fc4a39"/>
<rect x="329.49" y="32.75" width="5.29" height="6.96" fill="#f34340"/>
<rect x="334.72" y="32.75" width="5.29" height="6.96" fill="#f34340"/>
<rect x="339.96" y="32.75" width="5.29" height="6.96" fill="#f34340"/>
<rect x="345.19" y="32.75" width="5.29" height="6.96" fill="#ff4d35"/>
<rect x="350.43" y="32.75" width="5.29" height="6.96" fill="#f34340"/>
<rect x="355.66" y="32.75" width="5.29" height="6.96" fill="#ff4e33"/>
<rect x="360.90" y="32.75" width="5.29" height="6.96" fill="#fd4b37"/>
<rect x="366.13" y="32.75" width="5.29" height="6.96" fill="#ff562b"/>
<rect x="371.37" y="32.75" width="5.29" height="6.96" fill="#ff562b"/>
<rect x="376.60" y="32.75" width="5.29" height="6.96" fill="#ff522f"/>
<rect x="381.84" y="32.75" width="5.29" height="6.96" fill="#ff5a27"/>
<rect x="387.07" y="32.75" width="5.29" height="6.96" fill="#ff4d35"/>
<rect x="392.31" y="32.75" width="5.29" height="6.96" fill="#ff631f"/>
<rect x="397.54" y="32.75" width="5.29" height="6.96" fill="#ff6919"/>
<rect x="402.78" y="32.75" width="5.29" height="6.96" fill="#ff5929"/>
<rect x="408.01" y="32.75" width="5.29" height="6.96" fill="#ff7112"/>
<rect x="413.25" y="32.75" width="5.29" height="6.96" fill="#ff6a18"/>
<rect x="418.48" y="32.75" width="5.29" height="6.96" fill="#ff6f13"/>
<rect x="423.72" y="32.75" width="5.29" height="6.96" fill="#ff641d"/>
<rect x="428.95" y="32.75" width="5.29" height="6.96" fill="#ff790b"/>
<rect x="434.19" y="32.75" width="5.29" height="6.96" fill="#ff790b"/>
<rect x="439.42" y="32.75" width="5.29" height="6.96" fill="#ff740f"/>
<rect x="444.66" y="32.75" width="5.29" height="6.96" fill="#ff6c16"/>
<rect x="449.89" y="32.75" width="5.29" height="6.96" fill="#ff7d08"/>
<rect x="455.13" y="32.75" width="5.29" height="6.96" fill="#ff8402"/>
<rect x="460.36" y="32.75" width="5.29" height="6.96" fill="#ff7b09"/>
<rect x="465.60" y="32.75" width="5.29" height="6.96" fill="#ff8005"/>
<rect x="470.83" y="32.75" width="5.29" height="6.96" fill="#ff7112"/>
<rect x="476.07" y="32.75" width="5.29" height="6.96" fill="#ff780c"/>
<rect x="481.30" y="32.75" width="5.29" height="6.96" fill="#ff790b"/>
<rect x="486.54" y="32.75" width="5.29" height="6.96" fill="#ff760e"/>
<rect x="491.77" y="32.75" width="5.29" height="6.96" fill="#ff8e00"/>
<rect x="497.01" y="32.75" width="5.29" height="6.96" fill="#ff760e"/>
<rect x="502.24" y="32.75" width="5.29" height="6.96" fill="#ff6a18"/>
<rect x="507.48" y="32.75" width="5.29" height="6.96" fill="#ff760e"/>
<rect x="512.71" y="32.75" width="5.29" height="6.96" fill="#ff631f"/>
<rect x="517.95" y="32.75" width="5.29" height="6.96" fill="#ff6e15"/>
<rect x="523.18" y="32.75" width="5.29" height="6.96" fill="#ff6f13"/>
<rect x="528.42" y="32.75" width="5.29" height="6.96" fill="#ff631f"/>
<rect x="533.65" y="32.75" width="5.29" height="6.96" fill="#ff6120"/>
<rect x="538.89" y="32.75" width="5.29" height="6.96" fill="#ff5c26"/>
<rect x="544.12" y="32.75" width="5.29" height="6.96" fill="#ff6120"/>
<rect x="549.36" y="32.75" width="5.29" height="6.96" fill="#ff5a27"/>
<rect x="554.59" y="32.75" width="5.29" height="6.96" fill="#ff6c16"/>
<rect x="559.83" y="32.75" width="5.29" height="6.96" fill="#ff6022"/>
<rect x="565.06" y="32.75" width="5.29" height="6.96" fill="#ff572a"/>
<rect x="570.30" y="32.75" width="5.29" height="6.96" fill="#ff4d35"/>
<rect x="575.53" y="32.75" width="5.29" height="6.96" fill="#ff641d"/>
<rect x="580.77" y="32.75" width="5.29" height="6.96" fill="#ff5d24"/>
<rect x="586.00" y="32.75" width="5.29" height="6.96" fill="#ff552d"/>
<rect x="303.31" y="25.85" width="5.29" height="6.96" fill="#f9473b"/>
<rect x="308.55" y="25.85" width="5.29" height="6.96" fill="#f9473b"/>
<rect x="313.78" y="25.85" width="5.29" height="6.96" fill="#f4443f"/>
<rect x="319.02" y="25.85" width="5.29" height="6.96" fill="#ff532e"/>
<rect x="324.25" y="25.85" width="5.29" height="6.96" fill="#fa483a"/>
<rect x="329.49" y="25.85" width="5.29" height="6.96" fill="#f34340"/>
<rect x="334.72" y="25.85" width="5.29" height="6.96" fill="#f34340"/>
<rect x="339.96" y="25.85" width="5.29" height="6.96" fill="#f34340"/>
<rect x="345.19" y="25.85" width="5.29" height="6.96" fill="#ff4e33"/>
<rect x="350.43" y="25.85" width="5.29" height="6.96" fill="#ff5131"/>
<rect x="355.66" y="25.85" width="5.29" height="6.96" fill="#ff5a27"/>
<rect x="360.90" y="25.85" width="5.29" height="6.96" fill="#ff6022"/>
<rect x="366.13" y="25.85" width="5.29" height="6.96" fill="#ff4c36"/>
<rect x="371.37" y="25.85" width="5.29" height="6.96" fill="#ff5929"/>
<rect x="376.60" y="25.85" width="5.29" height="6.96" fill="#ff6022"/>
<rect x="381.84" y="25.85" width="5.29" height="6.96" fill="#ff6120"/>
<rect x="387.07" y="25.85" width="5.29" height="6.96" fill="#ff5a27"/>
<rect x="392.31" y="25.85" width="5.29" height="6.96" fill="#ff6919"/>
<rect x="397.54" y="25.85" width="5.29" height="6.96" fill="#ff6919"/>
<rect x="402.78" y="25.85" width="5.29" height="6.96" fill="#ff740f"/>
<rect x="408.01" y="25.85" width="5.29" height="6.96" fill="#ff6a18"/>
<rect x="413.25" y="25.85" width="5.29" height="6.96" fill="#ff6a18"/>
<rect x="418.48" y="25.85" width="5.29" height="6.96" fill="#ff6a18"/>
<rect x="423.72" y="25.85" width="5.29" height="6.96" fill="#ff6e15"/>
<rect x="428.95" y="25.85" width="5.29" height="6.96" fill="#ff6e15"/>
<rect x="434.19" y="25.85" width="5.29" height="6.96" fill="#ff7112"/>
<rect x="439.42" y="25.85" width="5.29" height="6.96" fill="#ff790b"/>
<rect x="444.66" y="25.85" width="5.29" height="6.96" fill="#ff790b"/>
<rect x="449.89" y="25.85" width="5.29" height="6.96" fill="#ff8203"/>
<rect x="455.13" y="25.85" width="5.29" height="6.96" fill="#ff8005"/>
<rect x="460.36" y="25.85" width="5.29" height="6.96" fill="#ff7d08"/>
<rect x="465.60" y="25.85" width="5.29" height="6.96" fill="#ff6a18"/>
<rect x="470.83" y="25.85" width="5.29" height="6.96" fill="#ff7b09"/>
<rect x="476.07" y="25.85" width="5.29" height="6.96" fill="#ff8005"/>
<rect x="481.30" y="25.85" width="5.29" height="6.96" fill="#ff6919"/>
<rect x="486.54" y="25.85" width="5.29" height="6.96" fill="#ff6a18"/>
<rect x="491.77" y="25.85" width="5.29" height="6.96" fill="#ff6a18"/>
<rect x="497.01" y="25.85" width="5.29" height="6.96" fill="#ff6919"/>
<rect x="502.24" y="25.85" width="5.29" height="6.96" fill="#ff6e15"/>
<rect x="507.48" y="25.85" width="5.29" height="6.96" fill="#ff671b"/>
<rect x="512.71" y="25.85" width="5.29" height="6.96" fill="#ff7112"/>
<rect x="517.95" y="25.85" width="5.29" height="6.96" fill="#ff6120"/>
<rect x="523.18" y="25.85" width="5.29" height="6.96" fill="#ff6919"/>
<rect x="528.42" y="25.85" width="5.29" height="6.96" fill="#ff641d"/>
<rect x="533.65" y="25.85" width="5.29" height="6.96" fill="#ff5e23"/>
<rect x="538.89" y="25.85" width="5.29" height="6.96" fill="#ff6c16"/>
<rect x="544.12" y="25.85" width="5.29" height="6.96" fill="#ff6120"/>
<rect x="549.36" y="25.85" width="5.29" height="6.96" fill="#ff641d"/>
<rect x="554.59" y="25.85" width="5.29" height="6.96" fill="#ff5a27"/>
<rect x="559.83" y="25.85" width="5.29" height="6.96" fill="#ff6120"/>
<rect x="565.06" y="25.85" width="5.29" height="6.96" fill="#ff5e23"/>
<rect x="570.30" y="25.85" width="5.29" height="6.96" fill="#ff572a"/>
<rect x="575.53" y="25.85" width="5.29" height="6.96" fill="#fd4b37"/>
<rect x="580.77" y="25.85" width="5.29" height="6.96" fill="#ff5c26"/>
<rect x="586.00" y="25.85" width="5.29" height="6.96" fill="#e93d48"/>
<rect x="303.31" y="18.95" width="5.29" height="6.96" fill="#f9473b"/>
<rect x="308.55" y="18.95" width="5.29" height="6.96" fill="#f9473b"/>
<rect x="313.78" y="18.95" width="5.29" height="6.96" fill="#f9473b"/>
<rect x="319.02" y="18.95" width="5.29" height="6.96" fill="#e93d48"/>
<rect x="324.25" y="18.95" width="5.29" height="6.96" fill="#e93d48"/>
<rect x="329.49" y="18.95" width="5.29" height="6.96" fill="#f7463d"/>
<rect x="334.72" y="18.95" width="5.29" height="6.96" fill="#fa483a"/>
<rect x="339.96" y="18.95" width="5.29" height="6.96" fill="#e93d48"/>
<rect x="345.19" y="18.95" width="5.29" height="6.96" fill="#e93d48"/>
<rect x="350.43" y="18.95" width="5.29" height="6.96" fill="#e93d48"/>
<rect x="355.66" y="18.95" width="5.29" height="6.96" fill="#ff522f"/>
<rect x="360.90" y="18.95" width="5.29" height="6.96" fill="#ff4d35"/>
<rect x="366.13" y="18.95" width="5.29" height="6.96" fill="#ff4e33"/>
<rect x="371.37" y="18.95" width="5.29" height="6.96" fill="#f34340"/>
<rect x="376.60" y="18.95" width="5.29" height="6.96" fill="#ff4d35"/>
<rect x="381.84" y="18.95" width="5.29" height="6.96" fill="#ff5929"/>
<rect x="387.07" y="18.95" width="5.29" height="6.96" fill="#ff6919"/>
<rect x="392.31" y="18.95" width="5.29" height="6.96" fill="#ff522f"/>
<rect x="397.54" y="18.95" width="5.29" height="6.96" fill="#ff5e23"/>
<rect x="402.78" y="18.95" width="5.29" height="6.96" fill="#ff790b"/>
<rect x="408.01" y="18.95" width="5.29" height="6.96" fill="#ff6f13"/>
<rect x="413.25" y="18.95" width="5.29" height="6.96" fill="#ff6f13"/>
<rect x="418.48" y="18.95" width="5.29" height="6.96" fill="#ff790b"/>
<rect x="423.72" y="18.95" width="5.29" height="6.96" fill="#ff6f13"/>
<rect x="428.95" y="18.95" width="5.29" height="6.96" fill="#ff7311"/>
<rect x="434.19" y="18.95" width="5.29" height="6.96" fill="#ff7b09"/>
<rect x="439.42" y="18.95" width="5.29" height="6.96" fill="#ff7b09"/>
<rect x="444.66" y="18.95" width="5.29" height="6.96" fill="#ff6a18"/>
<rect x="449.89" y="18.95" width="5.29" height="6.96" fill="#ff8203"/>
<rect x="455.13" y="18.95" width="5.29" height="6.96" fill="#ff641d"/>
<rect x="460.36" y="18.95" width="5.29" height="6.96" fill="#ff6e15"/>
<rect x="465.60" y="18.95" width="5.29" height="6.96" fill="#ff9200"/>
<rect x="470.83" y="18.95" width="5.29" height="6.96" fill="#ff6f13"/>
<rect x="476.07" y="18.95" width="5.29" height="6.96" fill="#ff790b"/>
<rect x="481.30" y="18.95" width="5.29" height="6.96" fill="#ff6a18"/>
<rect x="486.54" y="18.95" width="5.29" height="6.96" fill="#ff7112"/>
<rect x="491.77" y="18.95" width="5.29" height="6.96" fill="#ff6e15"/>
<rect x="497.01" y="18.95" width="5.29" height="6.96" fill="#ff6f13"/>
<rect x="502.24" y="18.95" width="5.29" height="6.96" fill="#ff780c"/>
<rect x="507.48" y="18.95" width="5.29" height="6.96" fill="#ff8005"/>
<rect x="512.71" y="18.95" width="5.29" height="6.96" fill="#ff760e"/>
<rect x="517.95" y="18.95" width="5.29" height="6.96" fill="#ff7d08"/>
<rect x="523.18" y="18.95" width="5.29" height="6.96" fill="#ff671b"/>
<rect x="528.42" y="18.95" width="5.29" height="6.96" fill="#ff780c"/>
<rect x="533.65" y="18.95" width="5.29" height="6.96" fill="#ff6c16"/>
<rect x="538.89" y="18.95" width="5.29" height="6.96" fill="#ff7112"/>
<rect x="544.12" y="18.95" width="5.29" height="6.96" fill="#ff5e23"/>
<rect x="549.36" y="18.95" width="5.29" height="6.96" fill="#ff5e23"/>
<rect x="554.59" y="18.95" width="5.29" height="6.96" fill="#ff6919"/>
<rect x="559.83" y="18.95" width="5.29" height="6.96" fill="#ff6120"/>
<rect x="565.06" y="18.95" width="5.29" height="6.96" fill="#ff5c26"/>
<rect x="570.30" y="18.95" width="5.29" height="6.96" fill="#ff552d"/>
<rect x="575.53" y="18.95" width="5.29" height="6.96" fill="#ff572a"/>
<rect x="580.77" y="18.95" width="5.29" height="6.96" fill="#ff5c26"/>
<rect x="586.00" y="18.95" width="5.29" height="6.96" fill="#ff5c26"/>
</g>
<line x1="305.93" y1="19.15" x2="305.93" y2="301.95" stroke="#000" stroke-width="2.0" stroke-dasharray="2.0 3.185"/>
<line x1="337.34" y1="19.15" x2="337.34" y2="301.95" stroke="#000" stroke-width="2.0" stroke-dasharray="2.0 3.185"/>
<line x1="368.75" y1="19.15" x2="368.75" y2="301.95" stroke="#000" stroke-width="2.0" stroke-dasharray="2.0 3.185"/>
<line x1="400.16" y1="19.15" x2="400.16" y2="301.95" stroke="#000" stroke-width="2.0" stroke-dasharray="2.0 3.185"/>
<line x1="431.57" y1="19.15" x2="431.57" y2="301.95" stroke="#000" stroke-width="2.0" stroke-dasharray="2.0 3.185"/>
<line x1="462.98" y1="19.15" x2="462.98" y2="301.95" stroke="#000" stroke-width="2.0" stroke-dasharray="2.0 3.185"/>
<line x1="494.39" y1="19.15" x2="494.39" y2="301.95" stroke="#000" stroke-width="2.0" stroke-dasharray="2.0 3.185"/>
<line x1="525.80" y1="19.15" x2="525.80" y2="301.95" stroke="#000" stroke-width="2.0" stroke-dasharray="2.0 3.185"/>
<line x1="557.21" y1="19.15" x2="557.21" y2="301.95" stroke="#000" stroke-width="2.0" stroke-dasharray="2.0 3.185"/>
<line x1="588.62" y1="19.15" x2="588.62" y2="301.95" stroke="#000" stroke-width="2.0" stroke-dasharray="2.0 3.185"/>
<polyline points="418.0,298.4 424.6,290.0 429.0,287.5 436.3,288.1 441.4,282.0 446.5,279.3 450.9,273.2 455.3,269.6 458.9,264.5 461.8,258.6 466.2,255.7 469.9,254.2 472.8,248.4 477.2,244.0 483.0,240.4 487.4,235.3 490.3,230.9 494.7,226.5 499.0,220.7 502.3,211.9 501.1,205.5 498.8,202.6 495.3,201.4 493.5,203.1 492.4,207.2 490.0,210.7 486.5,209.0 485.4,204.9 487.7,197.9 488.9,193.2 485.9,190.3 481.9,188.0 484.2,184.5 488.9,178.6 493.0,179.8 497.0,178.0 500.5,174.5 502.3,168.7 501.7,166.4 504.1,162.8 511.1,160.5 515.3,158.8 515.9,151.6 517.9,144.4 520.5,139.8 525.8,141.1 529.7,137.8 532.3,132.6 536.9,128.0 540.2,125.3 535.0,118.1 538.2,113.5 541.5,110.9 546.1,114.8 550.7,109.6 554.7,105.0 552.0,101.7 550.1,97.7 551.4,90.5 556.0,92.5 560.6,90.5 561.9,93.8 560.6,97.7 562.6,99.7 567.2,95.8 570.9,90.6 567.8,84.5 571.4,77.3 567.8,73.2 562.7,72.2 562.2,62.0 567.8,66.1 572.9,61.0 577.0,55.9 576.0,49.7 578.0,46.7 583.1,44.1 588.7,42.1" fill="none" stroke="#000" stroke-width="3.3" stroke-linejoin="round" stroke-linecap="round"/>
<polyline points="304.4,227.3 311.0,228.4 316.4,226.2 321.9,227.3 327.4,225.1 332.8,227.3 337.2,229.4 341.6,225.1 347.1,227.3 352.6,225.1 358.0,221.8 362.4,225.1 367.9,223.1 373.4,227.3 377.7,232.7 382.1,225.1 386.5,218.5 389.8,217.0 392.0,220.7 389.8,227.3 386.5,232.7 383.2,237.1 377.7,239.3 372.3,242.1 367.9,242.6 361.3,244.8 352.6,248.1 347.1,244.8 340.5,247.0 332.8,249.2 326.3,250.9 320.8,248.1 314.2,247.0 308.8,248.1 304.4,247.0" fill="none" stroke="#000" stroke-width="3.3" stroke-linejoin="round" stroke-linecap="round"/>
<polyline points="318.6,22.4 320.4,24.9 323.0,26.0 326.0,25.4 328.6,23.0" fill="none" stroke="#000" stroke-width="3.3" stroke-linejoin="round" stroke-linecap="round"/>
<polyline points="340.9,22.3 343.5,25.2 346.7,26.4 350.0,25.6 353.7,22.3" fill="none" stroke="#000" stroke-width="3.3" stroke-linejoin="round" stroke-linecap="round"/>
<polyline points="588.7,26.0 587.6,29.5 588.7,33.5" fill="none" stroke="#000" stroke-width="3.3" stroke-linejoin="round" stroke-linecap="round"/>
<polygon points="338.5,50.5 341.5,40.0 347.3,40.5 344.5,51.2" fill="none" stroke="#000" stroke-width="3.3" stroke-linejoin="round" stroke-linecap="round"/>
<polygon points="466.2,206.8 474.0,204.6 478.8,198.4 482.2,201.2 477.8,208.2 471.4,210.0" fill="none" stroke="#000" stroke-width="3.3" stroke-linejoin="round" stroke-linecap="round"/>
<polygon points="491.8,181.5 501.1,188.0 493.0,192.6" fill="none" stroke="#000" stroke-width="3.3" stroke-linejoin="round" stroke-linecap="round"/>
<polygon points="462.2,194.0 467.8,194.5 464.5,200.2" fill="none" stroke="#000" stroke-width="3.3" stroke-linejoin="round" stroke-linecap="round"/>
<polygon points="576.5,36.5 582.0,33.9 588.8,35.5 583.0,39.0" fill="#000" stroke="#000" stroke-width="2.6" stroke-linejoin="round"/>
<ellipse cx="326.6" cy="35.8" rx="2.7" ry="3.0" fill="#000"/>
<ellipse cx="332.0" cy="42.0" rx="2.70" ry="2.40" fill="none" stroke="#000" stroke-width="2.6"/>
<ellipse cx="310.2" cy="49.5" rx="3.10" ry="2.50" fill="none" stroke="#000" stroke-width="2.6"/>
<ellipse cx="357.8" cy="34.9" rx="2.6" ry="3.4" fill="#000"/>
<ellipse cx="363.1" cy="28.4" rx="1.4" ry="1.4" fill="#000"/>
<ellipse cx="357.8" cy="49.5" rx="2.2" ry="1.5" fill="#000"/>
<ellipse cx="357.8" cy="63.5" rx="3.00" ry="3.30" fill="none" stroke="#000" stroke-width="2.6"/>
<ellipse cx="305.8" cy="62.9" rx="1.0" ry="1.6" fill="#000"/>
<ellipse cx="421" cy="206" rx="1.7" ry="3.8" fill="#000"/>
<ellipse cx="421.7" cy="222.8" rx="3.20" ry="3.20" fill="none" stroke="#000" stroke-width="2.6"/>
<ellipse cx="379.4" cy="215.2" rx="2.0" ry="3.0" fill="#000"/>
<ellipse cx="400.4" cy="223.4" rx="1.7" ry="3.4" fill="#000"/>
<ellipse cx="394.6" cy="229.2" rx="2.0" ry="1.5" fill="#000"/>
<ellipse cx="457.4" cy="208.2" rx="3.20" ry="3.20" fill="none" stroke="#000" stroke-width="2.6"/>
<ellipse cx="452.7" cy="186.7" rx="1.7" ry="3.2" fill="#000"/>
<ellipse cx="467.8" cy="174.2" rx="1.6" ry="1.6" fill="#000"/>
<ellipse cx="498.8" cy="160" rx="2.0" ry="1.3" fill="#000"/>
<ellipse cx="514.6" cy="174" rx="1.6" ry="2.0" fill="#000"/>
<ellipse cx="520.4" cy="166.9" rx="1.8" ry="1.6" fill="#000"/>
<ellipse cx="528.4" cy="126.3" rx="3.20" ry="2.20" fill="none" stroke="#000" stroke-width="2.6"/>
<ellipse cx="535.6" cy="139.8" rx="2.4" ry="1.8" fill="#000"/>
<ellipse cx="557.3" cy="83.9" rx="1.8" ry="2.0" fill="#000"/>
<ellipse cx="567.8" cy="104.3" rx="1.6" ry="1.6" fill="#000"/>
<ellipse cx="567.8" cy="56.4" rx="3.0" ry="1.9" fill="#000"/>
<ellipse cx="583.1" cy="65.1" rx="2.2" ry="4.4" fill="#000"/>
<ellipse cx="557.1" cy="84.5" rx="2.0" ry="2.2" fill="#000"/>
<rect x="312.80" y="150.70" width="17.4" height="17.4" fill="none" stroke="#fff" stroke-width="6"/>
<rect x="429.00" y="233.60" width="17.4" height="17.4" fill="none" stroke="#fff" stroke-width="6"/>
<rect x="546.60" y="234.30" width="17.4" height="17.4" fill="none" stroke="#fff" stroke-width="6"/>
<text transform="translate(303.75 133.80) scale(1.131 1)" font-size="32" fill="#fff">(</text>
<text x="317.96" y="133.80" font-size="32" fill="#fff">i</text>
<text transform="translate(327.39 133.80) scale(1.131 1)" font-size="32" fill="#fff">)</text>
<text transform="translate(421.45 215.90) scale(1.131 1)" font-size="32" fill="#fff">(</text>
<text x="436.16" y="215.90" font-size="32" fill="#fff">i</text>
<text x="445.16" y="215.90" font-size="32" fill="#fff">i</text>
<text transform="translate(453.99 215.90) scale(1.131 1)" font-size="32" fill="#fff">)</text>
<text transform="translate(533.95 218.00) scale(1.131 1)" font-size="32" fill="#fff">(</text>
<text x="548.36" y="218.00" font-size="32" fill="#fff">i</text>
<text x="557.31" y="218.00" font-size="32" fill="#fff">i</text>
<text x="566.26" y="218.00" font-size="32" fill="#fff">i</text>
<text transform="translate(576.49 218.00) scale(1.131 1)" font-size="32" fill="#fff">)</text>
<rect x="303.31" y="18.95" width="287.92" height="283.00" fill="none" stroke="#000" stroke-width="1.5"/>
<line x1="296.81" y1="298.50" x2="303.31" y2="298.50" stroke="#000" stroke-width="1.5"/>
<text x="259.82" y="306.00" font-size="20.46" font-weight="normal" font-style="normal" fill="#000" textLength="29.82" lengthAdjust="spacingAndGlyphs">0.0</text>
<line x1="296.81" y1="243.28" x2="303.31" y2="243.28" stroke="#000" stroke-width="1.5"/>
<text x="260.49" y="250.78" font-size="20.46" font-weight="normal" font-style="normal" fill="#000" textLength="29.38" lengthAdjust="spacingAndGlyphs">0.2</text>
<line x1="296.81" y1="188.06" x2="303.31" y2="188.06" stroke="#000" stroke-width="1.5"/>
<text x="259.63" y="195.56" font-size="20.46" font-weight="normal" font-style="normal" fill="#000" textLength="29.80" lengthAdjust="spacingAndGlyphs">0.4</text>
<line x1="296.81" y1="132.84" x2="303.31" y2="132.84" stroke="#000" stroke-width="1.5"/>
<text x="259.75" y="140.34" font-size="20.46" font-weight="normal" font-style="normal" fill="#000" textLength="30.00" lengthAdjust="spacingAndGlyphs">0.6</text>
<line x1="296.81" y1="77.62" x2="303.31" y2="77.62" stroke="#000" stroke-width="1.5"/>
<text x="259.86" y="85.12" font-size="20.46" font-weight="normal" font-style="normal" fill="#000" textLength="29.88" lengthAdjust="spacingAndGlyphs">0.8</text>
<line x1="296.81" y1="22.40" x2="303.31" y2="22.40" stroke="#000" stroke-width="1.5"/>
<text x="259.88" y="29.90" font-size="20.46" font-weight="normal" font-style="normal" fill="#000" textLength="29.76" lengthAdjust="spacingAndGlyphs">1.0</text>
<line x1="368.75" y1="301.95" x2="368.75" y2="308.75" stroke="#000" stroke-width="1.5"/>
<text x="351.72" y="330.00" font-size="20.40" font-weight="normal" font-style="normal" fill="#000" textLength="23.87" lengthAdjust="spacingAndGlyphs">10</text>
<text x="376.89" y="322.60" font-size="14.40" font-weight="normal" font-style="normal" fill="#000" textLength="7.91" lengthAdjust="spacingAndGlyphs">0</text>
<line x1="462.98" y1="301.95" x2="462.98" y2="308.75" stroke="#000" stroke-width="1.5"/>
<text x="445.95" y="330.00" font-size="20.40" font-weight="normal" font-style="normal" fill="#000" textLength="23.87" lengthAdjust="spacingAndGlyphs">10</text>
<text x="471.13" y="322.60" font-size="14.40" font-weight="normal" font-style="normal" fill="#000" textLength="7.98" lengthAdjust="spacingAndGlyphs">3</text>
<line x1="557.21" y1="301.95" x2="557.21" y2="308.75" stroke="#000" stroke-width="1.5"/>
<text x="540.18" y="330.00" font-size="20.40" font-weight="normal" font-style="normal" fill="#000" textLength="23.87" lengthAdjust="spacingAndGlyphs">10</text>
<text x="565.16" y="322.60" font-size="14.40" font-weight="normal" font-style="normal" fill="#000" textLength="8.20" lengthAdjust="spacingAndGlyphs">6</text>
<text x="346.85" y="356.50" font-size="20.56" font-weight="normal" font-style="normal" fill="#000" textLength="200.04" lengthAdjust="spacingAndGlyphs">Input frequency (Hz)</text>
<g transform="rotate(-90 249.3 160.0)">
</g>
<g transform="rotate(-90 247.0 160.0)">
<text x="102.98" y="160.00" font-size="20.5" textLength="227.66" lengthAdjust="spacingAndGlyphs">Input field magnitude B</text>
<text x="330.64" y="162.60" font-size="14.4" textLength="8.59" lengthAdjust="spacingAndGlyphs">1</text>
<text x="345.37" y="160.00" font-size="20.5" textLength="45.65" lengthAdjust="spacingAndGlyphs">(mT)</text>
</g>
<defs><linearGradient id="inf" x1="0" y1="1" x2="0" y2="0">
<stop offset="0.000" stop-color="#000004"/>
<stop offset="0.023" stop-color="#02000c"/>
<stop offset="0.045" stop-color="#070019"/>
<stop offset="0.068" stop-color="#0e0326"/>
<stop offset="0.091" stop-color="#170634"/>
<stop offset="0.114" stop-color="#210743"/>
<stop offset="0.136" stop-color="#2b074f"/>
<stop offset="0.159" stop-color="#37055a"/>
<stop offset="0.182" stop-color="#440463"/>
<stop offset="0.205" stop-color="#500568"/>
<stop offset="0.227" stop-color="#5b086c"/>
<stop offset="0.250" stop-color="#670b6d"/>
<stop offset="0.273" stop-color="#700f6e"/>
<stop offset="0.295" stop-color="#7b136e"/>
<stop offset="0.318" stop-color="#87166d"/>
<stop offset="0.341" stop-color="#921a6c"/>
<stop offset="0.364" stop-color="#9d1e6a"/>
<stop offset="0.386" stop-color="#a72168"/>
<stop offset="0.409" stop-color="#b22564"/>
<stop offset="0.432" stop-color="#bd2960"/>
<stop offset="0.455" stop-color="#c82d5b"/>
<stop offset="0.477" stop-color="#d33156"/>
<stop offset="0.500" stop-color="#dd3750"/>
<stop offset="0.523" stop-color="#e63b4a"/>
<stop offset="0.545" stop-color="#f04143"/>
<stop offset="0.568" stop-color="#f9473b"/>
<stop offset="0.591" stop-color="#ff4e33"/>
<stop offset="0.614" stop-color="#ff562b"/>
<stop offset="0.636" stop-color="#ff5d24"/>
<stop offset="0.659" stop-color="#ff661c"/>
<stop offset="0.682" stop-color="#ff6f13"/>
<stop offset="0.705" stop-color="#ff790b"/>
<stop offset="0.727" stop-color="#ff8402"/>
<stop offset="0.750" stop-color="#ff8e00"/>
<stop offset="0.773" stop-color="#ff9700"/>
<stop offset="0.795" stop-color="#ffa300"/>
<stop offset="0.818" stop-color="#ffae03"/>
<stop offset="0.841" stop-color="#ffba10"/>
<stop offset="0.864" stop-color="#ffc61e"/>
<stop offset="0.886" stop-color="#ffcf2c"/>
<stop offset="0.909" stop-color="#ffdb3e"/>
<stop offset="0.932" stop-color="#ffe654"/>
<stop offset="0.955" stop-color="#fff16c"/>
<stop offset="0.977" stop-color="#fff984"/>
<stop offset="1.000" stop-color="#ffff95"/>
</linearGradient></defs>
<rect x="608.7" y="18.95" width="14.60" height="283.00" fill="url(#inf)" stroke="#000" stroke-width="1.5"/>
<line x1="607.70" y1="147.59" x2="623.30" y2="147.59" stroke="#000" stroke-width="2.4"/>
<line x1="623.30" y1="301.95" x2="630.10" y2="301.95" stroke="#000" stroke-width="1.5"/>
<text x="637.78" y="309.15" font-size="20.46" font-weight="normal" font-style="normal" fill="#000" textLength="11.31" lengthAdjust="spacingAndGlyphs">0</text>
<line x1="623.30" y1="250.50" x2="630.10" y2="250.50" stroke="#000" stroke-width="1.5"/>
<text x="637.80" y="257.70" font-size="20.46" font-weight="normal" font-style="normal" fill="#000" textLength="23.60" lengthAdjust="spacingAndGlyphs">10</text>
<line x1="623.30" y1="199.04" x2="630.10" y2="199.04" stroke="#000" stroke-width="1.5"/>
<text x="637.64" y="206.24" font-size="20.46" font-weight="normal" font-style="normal" fill="#000" textLength="23.77" lengthAdjust="spacingAndGlyphs">20</text>
<line x1="623.30" y1="147.59" x2="630.10" y2="147.59" stroke="#000" stroke-width="1.5"/>
<text x="637.97" y="154.79" font-size="20.46" font-weight="normal" font-style="normal" fill="#000" textLength="23.43" lengthAdjust="spacingAndGlyphs">30</text>
<line x1="623.30" y1="96.13" x2="630.10" y2="96.13" stroke="#000" stroke-width="1.5"/>
<text x="637.75" y="103.33" font-size="20.46" font-weight="normal" font-style="normal" fill="#000" textLength="23.65" lengthAdjust="spacingAndGlyphs">40</text>
<line x1="623.30" y1="44.68" x2="630.10" y2="44.68" stroke="#000" stroke-width="1.5"/>
<text x="637.94" y="51.88" font-size="20.46" font-weight="normal" font-style="normal" fill="#000" textLength="23.46" lengthAdjust="spacingAndGlyphs">50</text>
<g transform="rotate(90 669.8 160.8)"><text x="639.86" y="160.8" font-size="20.5" textLength="59.88" lengthAdjust="spacingAndGlyphs">1/MSE</text></g>
</g>
<g id="pc">
<text x="-0.94" y="398.90" font-size="32.00" font-weight="bold" font-style="normal" fill="#000" textLength="17.67" lengthAdjust="spacingAndGlyphs">c</text>
<clipPath id="clip_top"><rect x="75.8" y="392.7" width="550.7" height="97.10000000000002"/></clipPath>
<g clip-path="url(#clip_top)">
<polyline points="70.8,419.9 71.5,418.8 72.2,417.7 72.9,416.7 73.6,415.7 74.3,414.7 75.0,413.7 75.7,412.8 76.4,411.8 77.1,411.0 77.8,410.1 78.5,409.3 79.2,408.5 79.9,407.8 80.6,407.0 81.3,406.4 82.0,405.7 82.7,405.1 83.4,404.5 84.1,404.0 84.8,403.5 85.5,403.1 86.2,402.7 86.9,402.3 87.6,402.0 88.3,401.7 89.0,401.4 89.7,401.2 90.4,401.0 91.1,400.9 91.8,400.8 92.5,400.8 93.2,400.8 93.9,400.8 94.6,400.9 95.3,401.1 96.0,401.2 96.7,401.4 97.4,401.7 98.1,402.0 98.8,402.3 99.5,402.7 100.2,403.1 100.9,403.6 101.6,404.1 102.3,404.6 103.0,405.2 103.7,405.8 104.4,406.5 105.1,407.1 105.8,407.9 106.5,408.6 107.2,409.4 107.9,410.2 108.6,411.1 109.3,412.0 110.0,412.9 110.7,413.8 111.4,414.8 112.1,415.8 112.8,416.8 113.5,417.9 114.2,419.0 114.9,420.1 115.6,421.2 116.3,422.4 117.0,423.5 117.7,424.7 118.4,425.9 119.1,427.1 119.8,428.4 120.5,429.6 121.2,430.9 121.9,432.1 122.6,433.4 123.3,434.7 124.0,436.0 124.7,437.3 125.4,438.6 126.1,439.9 126.8,441.2 127.5,442.5 128.2,443.8 128.9,445.1 129.6,446.4 130.3,447.7 131.0,449.0 131.7,450.3 132.4,451.5 133.1,452.8 133.8,454.1 134.5,455.3 135.2,456.5 135.9,457.7 136.6,458.9 137.3,460.1 138.0,461.2 138.7,462.3 139.4,463.4 140.1,464.5 140.8,465.6 141.5,466.6 142.2,467.6 142.9,468.6 143.6,469.5 144.3,470.5 145.0,471.4 145.7,472.2 146.4,473.0 147.1,473.8 147.8,474.6 148.5,475.3 149.2,476.0 149.9,476.6 150.6,477.3 151.3,477.8 152.0,478.4 152.7,478.9 153.4,479.3 154.1,479.8 154.8,480.1 155.5,480.5 156.2,480.8 156.9,481.0 157.6,481.3 158.3,481.4 159.0,481.6 159.7,481.7 160.4,481.7 161.1,481.7 161.8,481.7 162.5,481.6 163.2,481.5 163.9,481.3 164.6,481.1 165.3,480.9 166.0,480.6 166.7,480.2 167.4,479.9 168.1,479.5 168.8,479.0 169.5,478.5 170.2,478.0 170.9,477.4 171.6,476.8 172.3,476.2 173.0,475.5 173.7,474.8 174.4,474.0 175.1,473.3 175.8,472.4 176.5,471.6 177.2,470.7 177.9,469.8 178.6,468.9 179.3,467.9 180.0,466.9 180.7,465.9 181.4,464.8 182.1,463.8 182.8,462.7 183.5,461.5 184.2,460.4 184.9,459.2 185.6,458.0 186.3,456.9 187.0,455.6 187.7,454.4 188.4,453.2 189.1,451.9 189.8,450.6 190.5,449.4 191.2,448.1 191.9,446.8 192.6,445.5 193.3,444.2 194.0,442.9 194.7,441.6 195.4,440.3 196.1,439.0 196.8,437.7 197.5,436.4 198.2,435.1 198.9,433.8 199.6,432.5 200.3,431.2 201.0,430.0 201.7,428.7 202.4,427.5 203.1,426.3 203.8,425.0 204.5,423.9 205.2,422.7 205.9,421.5 206.6,420.4 207.3,419.3 208.0,418.2 208.7,417.1 209.4,416.1 210.1,415.1 210.8,414.1 211.5,413.2 212.2,412.2 212.9,411.3 213.6,410.5 214.3,409.6 215.0,408.8 215.7,408.1 216.4,407.3 217.1,406.6 217.8,406.0 218.5,405.4 219.2,404.8 219.9,404.2 220.6,403.7 221.3,403.3 222.0,402.8 222.7,402.4 223.4,402.1 224.1,401.8 224.8,401.5 225.5,401.3 226.2,401.1 226.9,401.0 227.6,400.9 228.3,400.8 229.0,400.8 229.7,400.8 230.4,400.9 231.1,401.0 231.8,401.2 232.5,401.3 233.2,401.6 233.9,401.9 234.6,402.2 235.3,402.5 236.0,402.9 236.7,403.4 237.4,403.9 238.1,404.4 238.8,404.9 239.5,405.5 240.2,406.2 240.9,406.8 241.6,407.5 242.3,408.3 243.0,409.1 243.7,409.9 244.4,410.7 245.1,411.6 245.8,412.5 246.5,413.4 247.2,414.4 247.9,415.4 248.6,416.4 249.3,417.4 250.0,418.5 250.7,419.6 251.4,420.7 252.1,421.9 252.8,423.0 253.5,424.2 254.2,425.4 254.9,426.6 255.6,427.8 256.3,429.1 257.0,430.3 257.7,431.6 258.4,432.9 259.1,434.1 259.8,435.4 260.5,436.7 261.2,438.0 261.9,439.3 262.6,440.6 263.3,442.0 264.0,443.3 264.7,444.6 265.4,445.9 266.1,447.2 266.8,448.4 267.5,449.7 268.2,451.0 268.9,452.3 269.6,453.5 270.3,454.8 271.0,456.0 271.7,457.2 272.4,458.4 273.1,459.6 273.8,460.7 274.5,461.9 275.2,463.0 275.9,464.1 276.6,465.1 277.3,466.2 278.0,467.2 278.7,468.2 279.4,469.1 280.1,470.1 280.8,471.0 281.5,471.8 282.2,472.7 282.9,473.5 283.6,474.3 284.3,475.0 285.0,475.7 285.7,476.4 286.4,477.0 287.1,477.6 287.8,478.2 288.5,478.7 289.2,479.1 289.9,479.6 290.6,480.0 291.3,480.3 292.0,480.7 292.7,480.9 293.4,481.2 294.1,481.4 294.8,481.5 295.5,481.6 296.2,481.7 296.9,481.7 297.6,481.7 298.3,481.6 299.0,481.5 299.7,481.4 300.4,481.2 301.1,481.0 301.8,480.7 302.5,480.4 303.2,480.0 303.9,479.6 304.6,479.2 305.3,478.7 306.0,478.2 306.7,477.7 307.4,477.1 308.1,476.5 308.8,475.8 309.5,475.1 310.2,474.4 310.9,473.6 311.6,472.8 312.3,472.0 313.0,471.1 313.7,470.2 314.4,469.3 315.1,468.3 315.8,467.3 316.5,466.3 317.2,465.3 317.9,464.2 318.6,463.1 319.3,462.0 320.0,460.9 320.7,459.7 321.4,458.6 322.1,457.4 322.8,456.2 323.5,454.9 324.2,453.7 324.9,452.4 325.6,451.2 326.3,449.9 327.0,448.6 327.7,447.3 328.4,446.0 329.1,444.7 329.8,443.4 330.5,442.1 331.2,440.8 331.9,439.5 332.6,438.2 333.3,436.9 334.0,435.6 334.7,434.3 335.4,433.0 336.1,431.8 336.8,430.5 337.5,429.2 338.2,428.0 338.9,426.8 339.6,425.6 340.3,424.4 341.0,423.2 341.7,422.0 342.4,420.9 343.1,419.8 343.8,418.7 344.5,417.6 345.2,416.5 345.9,415.5 346.6,414.5 347.3,413.6 348.0,412.6 348.7,411.7 349.4,410.8 350.1,410.0 350.8,409.2 351.5,408.4 352.2,407.7 352.9,406.9 353.6,406.3 354.3,405.6 355.0,405.0 355.7,404.5 356.4,403.9 357.1,403.5 357.8,403.0 358.5,402.6 359.2,402.2 359.9,401.9 360.6,401.6 361.3,401.4 362.0,401.2 362.7,401.0 363.4,400.9 364.1,400.8 364.8,400.8 365.5,400.8 366.2,400.9 366.9,400.9 367.6,401.1 368.3,401.3 369.0,401.5 369.7,401.7 370.4,402.0 371.1,402.4 371.8,402.8 372.5,403.2 373.2,403.7 373.9,404.2 374.6,404.7 375.3,405.3 376.0,405.9 376.7,406.6 377.4,407.2 378.1,408.0 378.8,408.7 379.5,409.5 380.2,410.4 380.9,411.2 381.6,412.1 382.3,413.0 383.0,414.0 383.7,415.0 384.4,416.0 385.1,417.0 385.8,418.1 386.5,419.1 387.2,420.2 387.9,421.4 388.6,422.5 389.3,423.7 390.0,424.9 390.7,426.1 391.4,427.3 392.1,428.5 392.8,429.8 393.5,431.0 394.2,432.3 394.9,433.6 395.6,434.9 396.3,436.2 397.0,437.5 397.7,438.8 398.4,440.1 399.1,441.4 399.8,442.7 400.5,444.0 401.2,445.3 401.9,446.6 402.6,447.9 403.3,449.2 404.0,450.5 404.7,451.7 405.4,453.0 406.1,454.2 406.8,455.5 407.5,456.7 408.2,457.9 408.9,459.1 409.6,460.2 410.3,461.4 411.0,462.5 411.7,463.6 412.4,464.7 413.1,465.7 413.8,466.8 414.5,467.8 415.2,468.7 415.9,469.7 416.6,470.6 417.3,471.5 418.0,472.3 418.7,473.2 419.4,473.9 420.1,474.7 420.8,475.4 421.5,476.1 422.2,476.7 422.9,477.3 423.6,477.9 424.3,478.5 425.0,478.9 425.7,479.4 426.4,479.8 427.1,480.2 427.8,480.5 428.5,480.8 429.2,481.1 429.9,481.3 430.6,481.4 431.3,481.6 432.0,481.7 432.7,481.7 433.4,481.7 434.1,481.7 434.8,481.6 435.5,481.4 436.2,481.3 436.9,481.1 437.6,480.8 438.3,480.5 439.0,480.2 439.7,479.8 440.4,479.4 441.1,478.9 441.8,478.5 442.5,477.9 443.2,477.3 443.9,476.7 444.6,476.1 445.3,475.4 446.0,474.7 446.7,473.9 447.4,473.2 448.1,472.3 448.8,471.5 449.5,470.6 450.2,469.7 450.9,468.7 451.6,467.8 452.3,466.8 453.0,465.7 453.7,464.7 454.4,463.6 455.1,462.5 455.8,461.4 456.5,460.2 457.2,459.1 457.9,457.9 458.6,456.7 459.3,455.5 460.0,454.2 460.7,453.0 461.4,451.7 462.1,450.5 462.8,449.2 463.5,447.9 464.2,446.6 464.9,445.3 465.6,444.0 466.3,442.7 467.0,441.4 467.7,440.1 468.4,438.8 469.1,437.5 469.8,436.2 470.5,434.9 471.2,433.6 471.9,432.3 472.6,431.0 473.3,429.8 474.0,428.5 474.7,427.3 475.4,426.1 476.1,424.9 476.8,423.7 477.5,422.5 478.2,421.4 478.9,420.2 479.6,419.1 480.3,418.1 481.0,417.0 481.7,416.0 482.4,415.0 483.1,414.0 483.8,413.0 484.5,412.1 485.2,411.2 485.9,410.4 486.6,409.5 487.3,408.7 488.0,408.0 488.7,407.2 489.4,406.6 490.1,405.9 490.8,405.3 491.5,404.7 492.2,404.2 492.9,403.7 493.6,403.2 494.3,402.8 495.0,402.4 495.7,402.0 496.4,401.7 497.1,401.5 497.8,401.3 498.5,401.1 499.2,400.9 499.9,400.9 500.6,400.8 501.3,400.8 502.0,400.8 502.7,400.9 503.4,401.0 504.1,401.2 504.8,401.4 505.5,401.6 506.2,401.9 506.9,402.2 507.6,402.6 508.3,403.0 509.0,403.5 509.7,403.9 510.4,404.5 511.1,405.0 511.8,405.6 512.5,406.3 513.2,406.9 513.9,407.7 514.6,408.4 515.3,409.2 516.0,410.0 516.7,410.8 517.4,411.7 518.1,412.6 518.8,413.6 519.5,414.5 520.2,415.5 520.9,416.5 521.6,417.6 522.3,418.7 523.0,419.8 523.7,420.9 524.4,422.0 525.1,423.2 525.8,424.4 526.5,425.6 527.2,426.8 527.9,428.0 528.6,429.2 529.3,430.5 530.0,431.8 530.7,433.0 531.4,434.3 532.1,435.6 532.8,436.9 533.5,438.2 534.2,439.5 534.9,440.8 535.6,442.1 536.3,443.4 537.0,444.7 537.7,446.0 538.4,447.3 539.1,448.6 539.8,449.9 540.5,451.2 541.2,452.4 541.9,453.7 542.6,454.9 543.3,456.2 544.0,457.4 544.7,458.6 545.4,459.7 546.1,460.9 546.8,462.0 547.5,463.1 548.2,464.2 548.9,465.3 549.6,466.3 550.3,467.3 551.0,468.3 551.7,469.3 552.4,470.2 553.1,471.1 553.8,472.0 554.5,472.8 555.2,473.6 555.9,474.4 556.6,475.1 557.3,475.8 558.0,476.5 558.7,477.1 559.4,477.7 560.1,478.2 560.8,478.7 561.5,479.2 562.2,479.6 562.9,480.0 563.6,480.4 564.3,480.7 565.0,481.0 565.7,481.2 566.4,481.4 567.1,481.5 567.8,481.6 568.5,481.7 569.2,481.7 569.9,481.7 570.6,481.6 571.3,481.5 572.0,481.4 572.7,481.2 573.4,480.9 574.1,480.7 574.8,480.3 575.5,480.0 576.2,479.6 576.9,479.1 577.6,478.7 578.3,478.2 579.0,477.6 579.7,477.0 580.4,476.4 581.1,475.7 581.8,475.0 582.5,474.3 583.2,473.5 583.9,472.7 584.6,471.8 585.3,471.0 586.0,470.1 586.7,469.1 587.4,468.2 588.1,467.2 588.8,466.2 589.5,465.1 590.2,464.1 590.9,463.0 591.6,461.9 592.3,460.7 593.0,459.6 593.7,458.4 594.4,457.2 595.1,456.0 595.8,454.8 596.5,453.5 597.2,452.3 597.9,451.0 598.6,449.7 599.3,448.4 600.0,447.2 600.7,445.9 601.4,444.6 602.1,443.3 602.8,442.0 603.5,440.6 604.2,439.3 604.9,438.0 605.6,436.7 606.3,435.4 607.0,434.1 607.7,432.9 608.4,431.6 609.1,430.3 609.8,429.1 610.5,427.8 611.2,426.6 611.9,425.4 612.6,424.2 613.3,423.0 614.0,421.9 614.7,420.7 615.4,419.6 616.1,418.5 616.8,417.4 617.5,416.4 618.2,415.4 618.9,414.4 619.6,413.4 620.3,412.5 621.0,411.6 621.7,410.7 622.4,409.9 623.1,409.1 623.8,408.3 624.5,407.5 625.2,406.8 625.9,406.2 626.6,405.5 627.3,404.9 628.0,404.4 628.7,403.9 629.4,403.4 630.1,402.9 630.8,402.5 631.5,402.2" fill="none" stroke="#000" stroke-width="2.0" stroke-dasharray="0.1 4.4" stroke-linecap="round"/>
<polyline points="77.6,471.2 82.7,468.2 88.3,464.9 94.0,461.5 99.7,458.1 105.3,454.7 111.0,451.4 116.7,448.0 122.4,444.6 128.0,441.2 133.7,437.9 139.4,434.5 145.0,431.1 150.7,427.8 156.4,424.4 162.0,421.0 167.7,417.6 173.4,414.3 179.1,410.9 184.7,407.5 190.4,404.2 196.1,481.7 201.7,478.3 207.4,475.0 213.1,471.6 218.8,468.2 224.4,464.9 230.1,461.5 235.8,458.1 241.4,454.7 247.1,451.4 252.8,448.0 258.4,444.6 264.1,441.2 269.8,437.9 275.5,434.5 281.1,431.1 286.8,427.8 292.5,424.4 298.1,421.0 303.8,417.6 309.5,414.3 315.2,410.9 320.8,407.5 326.5,404.2 332.2,481.7 337.8,478.3 343.5,475.0 349.2,471.6 354.9,468.2 360.5,464.9 366.2,461.5 371.9,458.1 377.5,454.7 383.2,451.4 388.9,448.0 394.6,444.6 400.2,441.2 405.9,437.9 411.6,434.5 417.2,431.1 422.9,427.8 428.6,424.4 434.2,421.0 439.9,417.6 445.6,414.3 451.3,410.9 456.9,407.5 462.6,404.2 468.3,481.7 473.9,478.3 479.6,475.0 485.3,471.6 491.0,468.2 496.6,464.9 502.3,461.5 508.0,458.1 513.6,454.7 519.3,451.4 525.0,448.0 530.6,444.6 536.3,441.2 542.0,437.9 547.7,434.5 553.3,431.1 559.0,427.8 564.7,424.4 570.3,421.0 576.0,417.6 581.7,414.3 587.4,410.9 593.0,407.5 598.7,404.2 604.4,481.7 610.0,478.3 615.7,475.0 621.4,471.6 627.1,468.2 632.7,464.9" fill="none" stroke="#000" stroke-width="2.0" stroke-dasharray="6.6 2.9"/>
</g>
<rect x="75.8" y="392.7" width="550.70" height="97.10" fill="none" stroke="#333" stroke-width="1.1"/>
<line x1="71.80" y1="481.71" x2="75.8" y2="481.71" stroke="#333" stroke-width="1.1"/>
<text x="55.68" y="489.01" font-size="20.46" font-weight="normal" font-style="normal" fill="#000" textLength="11.31" lengthAdjust="spacingAndGlyphs">0</text>
<line x1="71.80" y1="400.79" x2="75.8" y2="400.79" stroke="#333" stroke-width="1.1"/>
<text x="56.34" y="408.09" font-size="20.46" font-weight="normal" font-style="normal" fill="#000" textLength="10.81" lengthAdjust="spacingAndGlyphs">1</text>
<clipPath id="clip_i"><rect x="75.8" y="505.3" width="550.7" height="97.59999999999997"/></clipPath>
<g clip-path="url(#clip_i)">
<polyline points="78.6,583.4 82.4,581.2 88.1,577.8 93.9,574.4 99.6,571.0 105.3,567.7 111.1,564.3 116.8,560.9 122.6,557.5 128.3,554.1 134.0,550.7 139.8,547.3 145.5,543.9 151.2,540.5 157.0,537.2 162.7,533.8 168.5,530.4 174.2,527.0 179.9,523.6 185.7,520.2 191.4,516.8 197.1,594.8 202.9,591.4 208.6,588.0 214.3,584.6 220.1,581.2 225.8,577.8 231.6,574.4 237.3,571.0 243.0,567.7 248.8,564.3 254.5,560.9 260.2,557.5 266.0,554.1 271.7,550.7 277.5,547.3 283.2,543.9 288.9,540.5 294.7,537.2 300.4,533.8 306.1,530.4 311.9,527.0 317.6,523.6 323.4,520.2 329.1,516.8 334.8,594.8 340.6,591.4 346.3,588.0 352.1,584.6 357.8,581.2 363.5,577.8 369.3,574.4 375.0,571.0 380.7,567.7 386.5,564.3 392.2,560.9 397.9,557.5 403.7,554.1 409.4,550.7 415.2,547.3 420.9,543.9 426.6,540.5 432.4,537.2 438.1,533.8 443.9,530.4 449.6,527.0 455.3,523.6 461.1,520.2 466.8,516.8 472.5,594.8 478.3,591.4 484.0,588.0 489.8,584.6 495.5,581.2 501.2,577.8 507.0,574.4 512.7,571.0 518.4,567.7 524.2,564.3 529.9,560.9 535.6,557.5 541.4,554.1 547.1,550.7 552.9,547.3 558.6,543.9 564.3,540.5 570.1,537.2 575.8,533.8 581.5,530.4 587.3,527.0 593.0,523.6 598.8,520.2 604.5,516.8 610.2,594.8 616.0,591.4 621.7,588.0 627.5,584.6 633.2,581.2" fill="none" stroke="#000" stroke-width="2.0" stroke-dasharray="6.6 2.9"/>
<polyline points="70.8,568.2 71.5,568.9 72.2,569.6 72.9,570.2 73.6,570.9 74.3,571.5 75.0,572.1 75.7,572.7 76.4,573.3 77.1,573.9 77.8,574.4 78.5,575.0 79.2,575.5 79.9,576.0 80.6,576.4 81.3,576.9 82.0,577.3 82.7,577.7 83.4,578.1 84.1,578.5 84.8,578.8 85.5,579.1 86.2,579.4 86.9,579.7 87.6,579.9 88.3,580.1 89.0,580.3 89.7,580.5 90.4,580.6 91.1,580.7 91.8,580.8 92.5,580.9 93.2,580.9 93.9,580.9 94.6,580.9 95.3,580.9 96.0,580.8 96.7,580.7 97.4,580.6 98.1,580.5 98.8,580.3 99.5,580.1 100.2,579.9 100.9,579.7 101.6,579.4 102.3,579.1 103.0,578.8 103.7,578.5 104.4,578.1 105.1,577.7 105.8,577.3 106.5,576.9 107.2,576.4 107.9,576.0 108.6,575.5 109.3,575.0 110.0,574.4 110.7,573.9 111.4,573.3 112.1,572.7 112.8,572.1 113.5,571.5 114.2,570.9 114.9,570.2 115.6,569.6 116.3,568.9 117.0,568.2 117.7,567.5 118.4,566.8 119.1,566.0 119.8,565.3 120.5,564.5 121.2,563.8 121.9,563.0 122.6,562.2 123.3,561.5 124.0,560.7 124.7,559.9 125.4,559.1 126.1,558.3 126.8,557.5 127.5,556.7 128.2,555.9 128.9,555.1 129.6,554.3 130.3,553.5 131.0,552.7 131.7,551.9 132.4,551.1 133.1,550.3 133.8,549.5 134.5,548.7 135.2,547.9 135.9,547.2 136.6,546.4 137.3,545.7 138.0,545.0 138.7,544.2 139.4,543.5 140.1,542.8 140.8,542.1 141.5,541.5 142.2,540.8 142.9,540.2 143.6,539.5 144.3,538.9 145.0,538.3 145.7,537.8 146.4,537.2 147.1,536.7 147.8,536.2 148.5,535.7 149.2,535.2 149.9,534.7 150.6,534.3 151.3,533.9 152.0,533.5 152.7,533.1 153.4,532.8 154.1,532.5 154.8,532.2 155.5,531.9 156.2,531.6 156.9,531.4 157.6,531.2 158.3,531.0 159.0,530.9 159.7,530.8 160.4,530.7 161.1,530.6 161.8,530.5 162.5,530.5 163.2,530.5 163.9,530.5 164.6,530.6 165.3,530.7 166.0,530.8 166.7,530.9 167.4,531.1 168.1,531.3 168.8,531.5 169.5,531.7 170.2,532.0 170.9,532.2 171.6,532.5 172.3,532.9 173.0,533.2 173.7,533.6 174.4,534.0 175.1,534.4 175.8,534.9 176.5,535.3 177.2,535.8 177.9,536.3 178.6,536.8 179.3,537.4 180.0,537.9 180.7,538.5 181.4,539.1 182.1,539.7 182.8,540.3 183.5,541.0 184.2,541.7 184.9,542.3 185.6,543.0 186.3,543.7 187.0,544.4 187.7,545.2 188.4,545.9 189.1,546.6 189.8,547.4 190.5,548.2 191.2,548.9 191.9,549.7 192.6,550.5 193.3,551.3 194.0,552.1 194.7,552.9 195.4,553.7 196.1,554.5 196.8,555.3 197.5,556.1 198.2,556.9 198.9,557.7 199.6,558.5 200.3,559.3 201.0,560.1 201.7,560.9 202.4,561.7 203.1,562.5 203.8,563.2 204.5,564.0 205.2,564.8 205.9,565.5 206.6,566.2 207.3,567.0 208.0,567.7 208.7,568.4 209.4,569.1 210.1,569.7 210.8,570.4 211.5,571.1 212.2,571.7 212.9,572.3 213.6,572.9 214.3,573.5 215.0,574.0 215.7,574.6 216.4,575.1 217.1,575.6 217.8,576.1 218.5,576.6 219.2,577.0 219.9,577.4 220.6,577.8 221.3,578.2 222.0,578.6 222.7,578.9 223.4,579.2 224.1,579.5 224.8,579.7 225.5,580.0 226.2,580.2 226.9,580.4 227.6,580.5 228.3,580.7 229.0,580.8 229.7,580.8 230.4,580.9 231.1,580.9 231.8,580.9 232.5,580.9 233.2,580.9 233.9,580.8 234.6,580.7 235.3,580.6 236.0,580.4 236.7,580.3 237.4,580.1 238.1,579.8 238.8,579.6 239.5,579.3 240.2,579.0 240.9,578.7 241.6,578.4 242.3,578.0 243.0,577.6 243.7,577.2 244.4,576.8 245.1,576.3 245.8,575.8 246.5,575.3 247.2,574.8 247.9,574.3 248.6,573.7 249.3,573.2 250.0,572.6 250.7,572.0 251.4,571.3 252.1,570.7 252.8,570.0 253.5,569.4 254.2,568.7 254.9,568.0 255.6,567.3 256.3,566.6 257.0,565.8 257.7,565.1 258.4,564.3 259.1,563.6 259.8,562.8 260.5,562.0 261.2,561.2 261.9,560.4 262.6,559.7 263.3,558.9 264.0,558.1 264.7,557.3 265.4,556.4 266.1,555.6 266.8,554.8 267.5,554.0 268.2,553.2 268.9,552.4 269.6,551.6 270.3,550.8 271.0,550.1 271.7,549.3 272.4,548.5 273.1,547.7 273.8,547.0 274.5,546.2 275.2,545.5 275.9,544.7 276.6,544.0 277.3,543.3 278.0,542.6 278.7,541.9 279.4,541.3 280.1,540.6 280.8,540.0 281.5,539.4 282.2,538.8 282.9,538.2 283.6,537.6 284.3,537.1 285.0,536.5 285.7,536.0 286.4,535.5 287.1,535.0 287.8,534.6 288.5,534.2 289.2,533.8 289.9,533.4 290.6,533.0 291.3,532.7 292.0,532.4 292.7,532.1 293.4,531.8 294.1,531.6 294.8,531.3 295.5,531.2 296.2,531.0 296.9,530.8 297.6,530.7 298.3,530.6 299.0,530.6 299.7,530.5 300.4,530.5 301.1,530.5 301.8,530.6 302.5,530.6 303.2,530.7 303.9,530.8 304.6,531.0 305.3,531.1 306.0,531.3 306.7,531.5 307.4,531.8 308.1,532.0 308.8,532.3 309.5,532.6 310.2,533.0 310.9,533.3 311.6,533.7 312.3,534.1 313.0,534.5 313.7,535.0 314.4,535.5 315.1,535.9 315.8,536.4 316.5,537.0 317.2,537.5 317.9,538.1 318.6,538.7 319.3,539.3 320.0,539.9 320.7,540.5 321.4,541.2 322.1,541.8 322.8,542.5 323.5,543.2 324.2,543.9 324.9,544.6 325.6,545.4 326.3,546.1 327.0,546.9 327.7,547.6 328.4,548.4 329.1,549.2 329.8,549.9 330.5,550.7 331.2,551.5 331.9,552.3 332.6,553.1 333.3,553.9 334.0,554.7 334.7,555.5 335.4,556.3 336.1,557.1 336.8,557.9 337.5,558.7 338.2,559.5 338.9,560.3 339.6,561.1 340.3,561.9 341.0,562.7 341.7,563.5 342.4,564.2 343.1,565.0 343.8,565.7 344.5,566.4 345.2,567.2 345.9,567.9 346.6,568.6 347.3,569.3 348.0,569.9 348.7,570.6 349.4,571.2 350.1,571.9 350.8,572.5 351.5,573.1 352.2,573.6 352.9,574.2 353.6,574.7 354.3,575.3 355.0,575.8 355.7,576.2 356.4,576.7 357.1,577.1 357.8,577.5 358.5,577.9 359.2,578.3 359.9,578.7 360.6,579.0 361.3,579.3 362.0,579.6 362.7,579.8 363.4,580.0 364.1,580.2 364.8,580.4 365.5,580.6 366.2,580.7 366.9,580.8 367.6,580.9 368.3,580.9 369.0,580.9 369.7,580.9 370.4,580.9 371.1,580.9 371.8,580.8 372.5,580.7 373.2,580.5 373.9,580.4 374.6,580.2 375.3,580.0 376.0,579.8 376.7,579.5 377.4,579.2 378.1,578.9 378.8,578.6 379.5,578.3 380.2,577.9 380.9,577.5 381.6,577.1 382.3,576.6 383.0,576.2 383.7,575.7 384.4,575.2 385.1,574.7 385.8,574.1 386.5,573.6 387.2,573.0 387.9,572.4 388.6,571.8 389.3,571.1 390.0,570.5 390.7,569.8 391.4,569.2 392.1,568.5 392.8,567.8 393.5,567.1 394.2,566.3 394.9,565.6 395.6,564.9 396.3,564.1 397.0,563.3 397.7,562.6 398.4,561.8 399.1,561.0 399.8,560.2 400.5,559.4 401.2,558.6 401.9,557.8 402.6,557.0 403.3,556.2 404.0,555.4 404.7,554.6 405.4,553.8 406.1,553.0 406.8,552.2 407.5,551.4 408.2,550.6 408.9,549.8 409.6,549.0 410.3,548.3 411.0,547.5 411.7,546.8 412.4,546.0 413.1,545.3 413.8,544.5 414.5,543.8 415.2,543.1 415.9,542.4 416.6,541.8 417.3,541.1 418.0,540.4 418.7,539.8 419.4,539.2 420.1,538.6 420.8,538.0 421.5,537.4 422.2,536.9 422.9,536.4 423.6,535.9 424.3,535.4 425.0,534.9 425.7,534.5 426.4,534.1 427.1,533.7 427.8,533.3 428.5,532.9 429.2,532.6 429.9,532.3 430.6,532.0 431.3,531.7 432.0,531.5 432.7,531.3 433.4,531.1 434.1,530.9 434.8,530.8 435.5,530.7 436.2,530.6 436.9,530.6 437.6,530.5 438.3,530.5 439.0,530.5 439.7,530.6 440.4,530.6 441.1,530.7 441.8,530.9 442.5,531.0 443.2,531.2 443.9,531.4 444.6,531.6 445.3,531.8 446.0,532.1 446.7,532.4 447.4,532.7 448.1,533.1 448.8,533.4 449.5,533.8 450.2,534.2 450.9,534.7 451.6,535.1 452.3,535.6 453.0,536.1 453.7,536.6 454.4,537.1 455.1,537.7 455.8,538.3 456.5,538.8 457.2,539.5 457.9,540.1 458.6,540.7 459.3,541.4 460.0,542.0 460.7,542.7 461.4,543.4 462.1,544.1 462.8,544.8 463.5,545.6 464.2,546.3 464.9,547.1 465.6,547.8 466.3,548.6 467.0,549.4 467.7,550.2 468.4,551.0 469.1,551.7 469.8,552.5 470.5,553.3 471.2,554.1 471.9,555.0 472.6,555.8 473.3,556.6 474.0,557.4 474.7,558.2 475.4,559.0 476.1,559.8 476.8,560.6 477.5,561.3 478.2,562.1 478.9,562.9 479.6,563.7 480.3,564.4 481.0,565.2 481.7,565.9 482.4,566.7 483.1,567.4 483.8,568.1 484.5,568.8 485.2,569.5 485.9,570.1 486.6,570.8 487.3,571.4 488.0,572.0 488.7,572.6 489.4,573.2 490.1,573.8 490.8,574.4 491.5,574.9 492.2,575.4 492.9,575.9 493.6,576.4 494.3,576.8 495.0,577.3 495.7,577.7 496.4,578.0 497.1,578.4 497.8,578.8 498.5,579.1 499.2,579.4 499.9,579.6 500.6,579.9 501.3,580.1 502.0,580.3 502.7,580.5 503.4,580.6 504.1,580.7 504.8,580.8 505.5,580.9 506.2,580.9 506.9,580.9 507.6,580.9 508.3,580.9 509.0,580.8 509.7,580.7 510.4,580.6 511.1,580.5 511.8,580.3 512.5,580.2 513.2,579.9 513.9,579.7 514.6,579.4 515.3,579.2 516.0,578.8 516.7,578.5 517.4,578.2 518.1,577.8 518.8,577.4 519.5,576.9 520.2,576.5 520.9,576.0 521.6,575.5 522.3,575.0 523.0,574.5 523.7,574.0 524.4,573.4 525.1,572.8 525.8,572.2 526.5,571.6 527.2,571.0 527.9,570.3 528.6,569.7 529.3,569.0 530.0,568.3 530.7,567.6 531.4,566.9 532.1,566.1 532.8,565.4 533.5,564.6 534.2,563.9 534.9,563.1 535.6,562.3 536.3,561.6 537.0,560.8 537.7,560.0 538.4,559.2 539.1,558.4 539.8,557.6 540.5,556.8 541.2,556.0 541.9,555.2 542.6,554.4 543.3,553.6 544.0,552.8 544.7,552.0 545.4,551.2 546.1,550.4 546.8,549.6 547.5,548.8 548.2,548.1 548.9,547.3 549.6,546.5 550.3,545.8 551.0,545.1 551.7,544.3 552.4,543.6 553.1,542.9 553.8,542.2 554.5,541.6 555.2,540.9 555.9,540.3 556.6,539.6 557.3,539.0 558.0,538.4 558.7,537.8 559.4,537.3 560.1,536.7 560.8,536.2 561.5,535.7 562.2,535.2 562.9,534.8 563.6,534.4 564.3,533.9 565.0,533.5 565.7,533.2 566.4,532.8 567.1,532.5 567.8,532.2 568.5,531.9 569.2,531.7 569.9,531.4 570.6,531.2 571.3,531.1 572.0,530.9 572.7,530.8 573.4,530.7 574.1,530.6 574.8,530.5 575.5,530.5 576.2,530.5 576.9,530.5 577.6,530.6 578.3,530.7 579.0,530.8 579.7,530.9 580.4,531.1 581.1,531.2 581.8,531.4 582.5,531.7 583.2,531.9 583.9,532.2 584.6,532.5 585.3,532.8 586.0,533.2 586.7,533.5 587.4,533.9 588.1,534.4 588.8,534.8 589.5,535.2 590.2,535.7 590.9,536.2 591.6,536.7 592.3,537.3 593.0,537.8 593.7,538.4 594.4,539.0 595.1,539.6 595.8,540.3 596.5,540.9 597.2,541.6 597.9,542.2 598.6,542.9 599.3,543.6 600.0,544.3 600.7,545.1 601.4,545.8 602.1,546.5 602.8,547.3 603.5,548.1 604.2,548.8 604.9,549.6 605.6,550.4 606.3,551.2 607.0,552.0 607.7,552.8 608.4,553.6 609.1,554.4 609.8,555.2 610.5,556.0 611.2,556.8 611.9,557.6 612.6,558.4 613.3,559.2 614.0,560.0 614.7,560.8 615.4,561.6 616.1,562.3 616.8,563.1 617.5,563.9 618.2,564.6 618.9,565.4 619.6,566.1 620.3,566.9 621.0,567.6 621.7,568.3 622.4,569.0 623.1,569.7 623.8,570.3 624.5,571.0 625.2,571.6 625.9,572.2 626.6,572.8 627.3,573.4 628.0,574.0 628.7,574.5 629.4,575.0 630.1,575.5 630.8,576.0 631.5,576.5" fill="none" stroke="#ff7c7c" stroke-width="2.1"/>
<polyline points="76.0,573.9 114.9,573.9 119.0,575.6 125.1,581.3 129.2,560.4 136.3,533.8 141.4,530.5 146.6,533.2 185.4,533.2 187.4,535.7 192.5,552.1 197.6,570.4 202.3,576.9 206.8,574.0 208.1,573.9 257.7,573.9 263.2,581.1 269.4,554.3 274.1,536.2 279.0,528.5 283.7,533.5 312.3,533.5 317.4,531.1 323.1,526.0 327.6,546.4 332.7,566.7 337.8,571.2 344.7,573.9 396.1,573.9 401.2,576.2 406.6,551.9 411.2,538.0 417.6,529.5 422.9,533.3 455.6,533.3 461.5,535.1 466.1,550.7 472.0,568.2 479.0,574.4 533.0,573.9 538.2,575.5 543.6,554.9 549.1,536.4 553.5,533.1 592.9,533.1 598.9,529.5 604.4,546.9 615.6,576.1 620.0,573.9 626.7,573.3" fill="none" stroke="#1a8cff" stroke-width="2.1" stroke-linejoin="round"/>
</g>
<rect x="75.8" y="505.3" width="550.70" height="97.60" fill="none" stroke="#333" stroke-width="1.1"/>
<line x1="71.80" y1="594.77" x2="75.8" y2="594.77" stroke="#333" stroke-width="1.1"/>
<text x="55.68" y="602.07" font-size="20.46" font-weight="normal" font-style="normal" fill="#000" textLength="11.31" lengthAdjust="spacingAndGlyphs">0</text>
<line x1="71.80" y1="513.43" x2="75.8" y2="513.43" stroke="#333" stroke-width="1.1"/>
<text x="56.34" y="520.73" font-size="20.46" font-weight="normal" font-style="normal" fill="#000" textLength="10.81" lengthAdjust="spacingAndGlyphs">1</text>
<clipPath id="clip_ii"><rect x="75.8" y="642.6" width="550.7" height="97.0"/></clipPath>
<g clip-path="url(#clip_ii)">
<polyline points="78.6,720.0 81.8,718.0 87.5,714.7 93.2,711.3 98.9,707.9 104.6,704.6 110.2,701.2 115.9,697.8 121.6,694.5 127.3,691.1 133.0,687.7 138.7,684.4 144.3,681.0 150.0,677.6 155.7,674.3 161.4,670.9 167.1,667.5 172.8,664.2 178.4,660.8 184.1,657.4 189.8,654.1 195.5,731.5 201.2,728.1 206.9,724.8 212.5,721.4 218.2,718.0 223.9,714.7 229.6,711.3 235.3,707.9 241.0,704.6 246.6,701.2 252.3,697.8 258.0,694.5 263.7,691.1 269.4,687.7 275.1,684.4 280.7,681.0 286.4,677.6 292.1,674.3 297.8,670.9 303.5,667.5 309.2,664.2 314.8,660.8 320.5,657.4 326.2,654.1 331.9,731.5 337.6,728.1 343.2,724.8 348.9,721.4 354.6,718.0 360.3,714.7 366.0,711.3 371.7,707.9 377.4,704.6 383.0,701.2 388.7,697.8 394.4,694.5 400.1,691.1 405.8,687.7 411.5,684.4 417.1,681.0 422.8,677.6 428.5,674.3 434.2,670.9 439.9,667.5 445.6,664.2 451.2,660.8 456.9,657.4 462.6,654.1 468.3,731.5 474.0,728.1 479.7,724.8 485.3,721.4 491.0,718.0 496.7,714.7 502.4,711.3 508.1,707.9 513.8,704.6 519.4,701.2 525.1,697.8 530.8,694.5 536.5,691.1 542.2,687.7 547.9,684.4 553.5,681.0 559.2,677.6 564.9,674.3 570.6,670.9 576.3,667.5 582.0,664.2 587.6,660.8 593.3,657.4 599.0,654.1 604.7,731.5 610.4,728.1 616.0,724.8 621.7,721.4 627.4,718.0 633.1,714.7" fill="none" stroke="#000" stroke-width="2.0" stroke-dasharray="6.6 2.9"/>
<polyline points="70.8,706.5 71.5,707.1 72.2,707.8 72.9,708.4 73.6,709.0 74.3,709.6 75.0,710.2 75.7,710.8 76.4,711.3 77.1,711.9 77.8,712.4 78.5,712.9 79.2,713.3 79.9,713.8 80.6,714.2 81.3,714.6 82.0,715.0 82.7,715.4 83.4,715.7 84.1,716.0 84.8,716.3 85.5,716.6 86.2,716.8 86.9,717.0 87.6,717.2 88.3,717.4 89.0,717.5 89.7,717.6 90.4,717.7 91.1,717.7 91.8,717.8 92.5,717.8 93.2,717.8 93.9,717.7 94.6,717.6 95.3,717.5 96.0,717.4 96.7,717.3 97.4,717.1 98.1,716.9 98.8,716.7 99.5,716.4 100.2,716.1 100.9,715.8 101.6,715.5 102.3,715.2 103.0,714.8 103.7,714.4 104.4,714.0 105.1,713.5 105.8,713.1 106.5,712.6 107.2,712.1 107.9,711.6 108.6,711.0 109.3,710.5 110.0,709.9 110.7,709.3 111.4,708.7 112.1,708.1 112.8,707.4 113.5,706.7 114.2,706.1 114.9,705.4 115.6,704.7 116.3,704.0 117.0,703.2 117.7,702.5 118.4,701.7 119.1,701.0 119.8,700.2 120.5,699.4 121.2,698.7 121.9,697.9 122.6,697.1 123.3,696.3 124.0,695.5 124.7,694.7 125.4,693.9 126.1,693.1 126.8,692.3 127.5,691.4 128.2,690.6 128.9,689.8 129.6,689.0 130.3,688.2 131.0,687.4 131.7,686.7 132.4,685.9 133.1,685.1 133.8,684.3 134.5,683.6 135.2,682.8 135.9,682.1 136.6,681.4 137.3,680.7 138.0,680.0 138.7,679.3 139.4,678.6 140.1,677.9 140.8,677.3 141.5,676.7 142.2,676.0 142.9,675.5 143.6,674.9 144.3,674.3 145.0,673.8 145.7,673.3 146.4,672.8 147.1,672.3 147.8,671.8 148.5,671.4 149.2,671.0 149.9,670.6 150.6,670.2 151.3,669.9 152.0,669.6 152.7,669.3 153.4,669.0 154.1,668.7 154.8,668.5 155.5,668.3 156.2,668.1 156.9,668.0 157.6,667.9 158.3,667.8 159.0,667.7 159.7,667.7 160.4,667.7 161.1,667.7 161.8,667.7 162.5,667.8 163.2,667.9 163.9,668.0 164.6,668.1 165.3,668.3 166.0,668.5 166.7,668.7 167.4,668.9 168.1,669.2 168.8,669.5 169.5,669.8 170.2,670.1 170.9,670.5 171.6,670.9 172.3,671.3 173.0,671.7 173.7,672.1 174.4,672.6 175.1,673.1 175.8,673.6 176.5,674.2 177.2,674.7 177.9,675.3 178.6,675.9 179.3,676.5 180.0,677.1 180.7,677.7 181.4,678.4 182.1,679.1 182.8,679.8 183.5,680.5 184.2,681.2 184.9,681.9 185.6,682.6 186.3,683.4 187.0,684.1 187.7,684.9 188.4,685.7 189.1,686.4 189.8,687.2 190.5,688.0 191.2,688.8 191.9,689.6 192.6,690.4 193.3,691.2 194.0,692.0 194.7,692.8 195.4,693.6 196.1,694.4 196.8,695.3 197.5,696.1 198.2,696.9 198.9,697.6 199.6,698.4 200.3,699.2 201.0,700.0 201.7,700.8 202.4,701.5 203.1,702.3 203.8,703.0 204.5,703.8 205.2,704.5 205.9,705.2 206.6,705.9 207.3,706.6 208.0,707.2 208.7,707.9 209.4,708.5 210.1,709.1 210.8,709.7 211.5,710.3 212.2,710.9 212.9,711.4 213.6,712.0 214.3,712.5 215.0,712.9 215.7,713.4 216.4,713.9 217.1,714.3 217.8,714.7 218.5,715.1 219.2,715.4 219.9,715.7 220.6,716.1 221.3,716.3 222.0,716.6 222.7,716.8 223.4,717.0 224.1,717.2 224.8,717.4 225.5,717.5 226.2,717.6 226.9,717.7 227.6,717.7 228.3,717.8 229.0,717.8 229.7,717.7 230.4,717.7 231.1,717.6 231.8,717.5 232.5,717.4 233.2,717.2 233.9,717.1 234.6,716.9 235.3,716.6 236.0,716.4 236.7,716.1 237.4,715.8 238.1,715.5 238.8,715.1 239.5,714.7 240.2,714.3 240.9,713.9 241.6,713.5 242.3,713.0 243.0,712.5 243.7,712.0 244.4,711.5 245.1,711.0 245.8,710.4 246.5,709.8 247.2,709.2 247.9,708.6 248.6,708.0 249.3,707.3 250.0,706.7 250.7,706.0 251.4,705.3 252.1,704.6 252.8,703.9 253.5,703.1 254.2,702.4 254.9,701.6 255.6,700.9 256.3,700.1 257.0,699.3 257.7,698.5 258.4,697.8 259.1,697.0 259.8,696.2 260.5,695.4 261.2,694.6 261.9,693.8 262.6,692.9 263.3,692.1 264.0,691.3 264.7,690.5 265.4,689.7 266.1,688.9 266.8,688.1 267.5,687.3 268.2,686.5 268.9,685.8 269.6,685.0 270.3,684.2 271.0,683.5 271.7,682.7 272.4,682.0 273.1,681.3 273.8,680.6 274.5,679.9 275.2,679.2 275.9,678.5 276.6,677.8 277.3,677.2 278.0,676.6 278.7,676.0 279.4,675.4 280.1,674.8 280.8,674.2 281.5,673.7 282.2,673.2 282.9,672.7 283.6,672.2 284.3,671.8 285.0,671.3 285.7,670.9 286.4,670.5 287.1,670.2 287.8,669.8 288.5,669.5 289.2,669.2 289.9,668.9 290.6,668.7 291.3,668.5 292.0,668.3 292.7,668.1 293.4,668.0 294.1,667.9 294.8,667.8 295.5,667.7 296.2,667.7 296.9,667.7 297.6,667.7 298.3,667.7 299.0,667.8 299.7,667.9 300.4,668.0 301.1,668.1 301.8,668.3 302.5,668.5 303.2,668.7 303.9,668.9 304.6,669.2 305.3,669.5 306.0,669.8 306.7,670.2 307.4,670.5 308.1,670.9 308.8,671.3 309.5,671.8 310.2,672.2 310.9,672.7 311.6,673.2 312.3,673.7 313.0,674.2 313.7,674.8 314.4,675.4 315.1,676.0 315.8,676.6 316.5,677.2 317.2,677.8 317.9,678.5 318.6,679.2 319.3,679.9 320.0,680.6 320.7,681.3 321.4,682.0 322.1,682.7 322.8,683.5 323.5,684.2 324.2,685.0 324.9,685.8 325.6,686.5 326.3,687.3 327.0,688.1 327.7,688.9 328.4,689.7 329.1,690.5 329.8,691.3 330.5,692.1 331.2,692.9 331.9,693.8 332.6,694.6 333.3,695.4 334.0,696.2 334.7,697.0 335.4,697.8 336.1,698.5 336.8,699.3 337.5,700.1 338.2,700.9 338.9,701.6 339.6,702.4 340.3,703.1 341.0,703.9 341.7,704.6 342.4,705.3 343.1,706.0 343.8,706.7 344.5,707.3 345.2,708.0 345.9,708.6 346.6,709.2 347.3,709.8 348.0,710.4 348.7,711.0 349.4,711.5 350.1,712.0 350.8,712.5 351.5,713.0 352.2,713.5 352.9,713.9 353.6,714.3 354.3,714.7 355.0,715.1 355.7,715.5 356.4,715.8 357.1,716.1 357.8,716.4 358.5,716.6 359.2,716.9 359.9,717.1 360.6,717.2 361.3,717.4 362.0,717.5 362.7,717.6 363.4,717.7 364.1,717.7 364.8,717.8 365.5,717.8 366.2,717.7 366.9,717.7 367.6,717.6 368.3,717.5 369.0,717.4 369.7,717.2 370.4,717.0 371.1,716.8 371.8,716.6 372.5,716.3 373.2,716.1 373.9,715.7 374.6,715.4 375.3,715.1 376.0,714.7 376.7,714.3 377.4,713.9 378.1,713.4 378.8,712.9 379.5,712.5 380.2,712.0 380.9,711.4 381.6,710.9 382.3,710.3 383.0,709.7 383.7,709.1 384.4,708.5 385.1,707.9 385.8,707.2 386.5,706.6 387.2,705.9 387.9,705.2 388.6,704.5 389.3,703.8 390.0,703.0 390.7,702.3 391.4,701.5 392.1,700.8 392.8,700.0 393.5,699.2 394.2,698.4 394.9,697.6 395.6,696.9 396.3,696.1 397.0,695.3 397.7,694.4 398.4,693.6 399.1,692.8 399.8,692.0 400.5,691.2 401.2,690.4 401.9,689.6 402.6,688.8 403.3,688.0 404.0,687.2 404.7,686.4 405.4,685.7 406.1,684.9 406.8,684.1 407.5,683.4 408.2,682.6 408.9,681.9 409.6,681.2 410.3,680.5 411.0,679.8 411.7,679.1 412.4,678.4 413.1,677.7 413.8,677.1 414.5,676.5 415.2,675.9 415.9,675.3 416.6,674.7 417.3,674.2 418.0,673.6 418.7,673.1 419.4,672.6 420.1,672.1 420.8,671.7 421.5,671.3 422.2,670.9 422.9,670.5 423.6,670.1 424.3,669.8 425.0,669.5 425.7,669.2 426.4,668.9 427.1,668.7 427.8,668.5 428.5,668.3 429.2,668.1 429.9,668.0 430.6,667.9 431.3,667.8 432.0,667.7 432.7,667.7 433.4,667.7 434.1,667.7 434.8,667.7 435.5,667.8 436.2,667.9 436.9,668.0 437.6,668.1 438.3,668.3 439.0,668.5 439.7,668.7 440.4,669.0 441.1,669.3 441.8,669.6 442.5,669.9 443.2,670.2 443.9,670.6 444.6,671.0 445.3,671.4 446.0,671.8 446.7,672.3 447.4,672.8 448.1,673.3 448.8,673.8 449.5,674.3 450.2,674.9 450.9,675.5 451.6,676.0 452.3,676.7 453.0,677.3 453.7,677.9 454.4,678.6 455.1,679.3 455.8,680.0 456.5,680.7 457.2,681.4 457.9,682.1 458.6,682.8 459.3,683.6 460.0,684.3 460.7,685.1 461.4,685.9 462.1,686.7 462.8,687.4 463.5,688.2 464.2,689.0 464.9,689.8 465.6,690.6 466.3,691.4 467.0,692.3 467.7,693.1 468.4,693.9 469.1,694.7 469.8,695.5 470.5,696.3 471.2,697.1 471.9,697.9 472.6,698.7 473.3,699.4 474.0,700.2 474.7,701.0 475.4,701.7 476.1,702.5 476.8,703.2 477.5,704.0 478.2,704.7 478.9,705.4 479.6,706.1 480.3,706.7 481.0,707.4 481.7,708.1 482.4,708.7 483.1,709.3 483.8,709.9 484.5,710.5 485.2,711.0 485.9,711.6 486.6,712.1 487.3,712.6 488.0,713.1 488.7,713.5 489.4,714.0 490.1,714.4 490.8,714.8 491.5,715.2 492.2,715.5 492.9,715.8 493.6,716.1 494.3,716.4 495.0,716.7 495.7,716.9 496.4,717.1 497.1,717.3 497.8,717.4 498.5,717.5 499.2,717.6 499.9,717.7 500.6,717.8 501.3,717.8 502.0,717.8 502.7,717.7 503.4,717.7 504.1,717.6 504.8,717.5 505.5,717.4 506.2,717.2 506.9,717.0 507.6,716.8 508.3,716.6 509.0,716.3 509.7,716.0 510.4,715.7 511.1,715.4 511.8,715.0 512.5,714.6 513.2,714.2 513.9,713.8 514.6,713.3 515.3,712.9 516.0,712.4 516.7,711.9 517.4,711.3 518.1,710.8 518.8,710.2 519.5,709.6 520.2,709.0 520.9,708.4 521.6,707.8 522.3,707.1 523.0,706.5 523.7,705.8 524.4,705.1 525.1,704.4 525.8,703.6 526.5,702.9 527.2,702.2 527.9,701.4 528.6,700.7 529.3,699.9 530.0,699.1 530.7,698.3 531.4,697.5 532.1,696.7 532.8,695.9 533.5,695.1 534.2,694.3 534.9,693.5 535.6,692.7 536.3,691.9 537.0,691.1 537.7,690.3 538.4,689.5 539.1,688.7 539.8,687.9 540.5,687.1 541.2,686.3 541.9,685.5 542.6,684.8 543.3,684.0 544.0,683.3 544.7,682.5 545.4,681.8 546.1,681.1 546.8,680.4 547.5,679.7 548.2,679.0 548.9,678.3 549.6,677.7 550.3,677.0 551.0,676.4 551.7,675.8 552.4,675.2 553.1,674.6 553.8,674.1 554.5,673.6 555.2,673.0 555.9,672.6 556.6,672.1 557.3,671.6 558.0,671.2 558.7,670.8 559.4,670.4 560.1,670.1 560.8,669.7 561.5,669.4 562.2,669.1 562.9,668.9 563.6,668.6 564.3,668.4 565.0,668.2 565.7,668.1 566.4,667.9 567.1,667.8 567.8,667.8 568.5,667.7 569.2,667.7 569.9,667.7 570.6,667.7 571.3,667.7 572.0,667.8 572.7,667.9 573.4,668.0 574.1,668.2 574.8,668.3 575.5,668.5 576.2,668.8 576.9,669.0 577.6,669.3 578.3,669.6 579.0,669.9 579.7,670.3 580.4,670.6 581.1,671.0 581.8,671.5 582.5,671.9 583.2,672.3 583.9,672.8 584.6,673.3 585.3,673.9 586.0,674.4 586.7,675.0 587.4,675.5 588.1,676.1 588.8,676.7 589.5,677.4 590.2,678.0 590.9,678.7 591.6,679.4 592.3,680.1 593.0,680.8 593.7,681.5 594.4,682.2 595.1,682.9 595.8,683.7 596.5,684.4 597.2,685.2 597.9,686.0 598.6,686.8 599.3,687.6 600.0,688.4 600.7,689.2 601.4,690.0 602.1,690.8 602.8,691.6 603.5,692.4 604.2,693.2 604.9,694.0 605.6,694.8 606.3,695.6 607.0,696.4 607.7,697.2 608.4,698.0 609.1,698.8 609.8,699.6 610.5,700.3 611.2,701.1 611.9,701.9 612.6,702.6 613.3,703.3 614.0,704.1 614.7,704.8 615.4,705.5 616.1,706.2 616.8,706.8 617.5,707.5 618.2,708.1 618.9,708.8 619.6,709.4 620.3,710.0 621.0,710.6 621.7,711.1 622.4,711.7 623.1,712.2 623.8,712.7 624.5,713.2 625.2,713.6 625.9,714.0 626.6,714.5 627.3,714.8 628.0,715.2 628.7,715.6 629.4,715.9 630.1,716.2 630.8,716.4 631.5,716.7" fill="none" stroke="#ff7c7c" stroke-width="2.1"/>
<polyline points="75.0,717.3 80.1,703.4 85.2,695.6 91.4,692.7 97.5,700.3 107.7,700.7 113.9,692.7 119.0,688.0 124.1,680.3 129.6,703.8 135.3,693.1 141.4,689.7 151.3,668.0 185.4,668.0 194.6,704.4 200.7,702.3 206.8,712.1 212.2,698.2 217.3,700.3 224.4,712.6 228.5,717.0 234.6,717.0 239.7,719.7 244.9,719.7 250.0,715.6 255.1,692.1 261.2,683.9 266.7,680.5 272.4,686.0 277.6,693.5 281.6,672.7 287.8,668.0 321.1,668.0 327.6,690.1 337.4,722.8 343.1,707.4 348.2,705.0 353.3,708.5 359.4,697.2 364.5,694.8 370.7,696.8 380.9,696.8 386.6,690.1 392.1,698.2 397.2,691.1 402.3,685.4 408.5,671.7 413.6,678.8 418.7,672.7 424.8,668.0 457.5,668.0 462.6,671.7 473.9,717.7 484.1,719.2 490.4,731.6 495.4,715.8 501.0,725.5 508.9,725.5 518.0,723.7 522.5,718.1 528.2,696.6 535.0,692.5 540.6,696.6 547.4,694.3 555.3,671.7 559.9,667.6 593.8,667.6 604.0,707.9 615.3,716.9 621.6,705.6 626.6,710.2" fill="none" stroke="#1a8cff" stroke-width="2.1" stroke-linejoin="round"/>
</g>
<rect x="75.8" y="642.6" width="550.70" height="97.00" fill="none" stroke="#333" stroke-width="1.1"/>
<line x1="71.80" y1="731.52" x2="75.8" y2="731.52" stroke="#333" stroke-width="1.1"/>
<text x="55.68" y="738.82" font-size="20.46" font-weight="normal" font-style="normal" fill="#000" textLength="11.31" lengthAdjust="spacingAndGlyphs">0</text>
<line x1="71.80" y1="650.68" x2="75.8" y2="650.68" stroke="#333" stroke-width="1.1"/>
<text x="56.34" y="657.98" font-size="20.46" font-weight="normal" font-style="normal" fill="#000" textLength="10.81" lengthAdjust="spacingAndGlyphs">1</text>
<clipPath id="clip_iii"><rect x="75.8" y="779.2" width="550.7" height="97.0"/></clipPath>
<g clip-path="url(#clip_iii)">
<polyline points="78.6,857.4 83.3,854.6 88.9,851.3 94.6,847.9 100.2,844.5 105.9,841.2 111.6,837.8 117.2,834.4 122.9,831.1 128.5,827.7 134.2,824.3 139.9,821.0 145.5,817.6 151.2,814.2 156.8,810.9 162.5,807.5 168.2,804.1 173.8,800.8 179.5,797.4 185.1,794.0 190.8,790.7 196.5,868.1 202.1,864.7 207.8,861.4 213.4,858.0 219.1,854.6 224.8,851.3 230.4,847.9 236.1,844.5 241.7,841.2 247.4,837.8 253.1,834.4 258.7,831.1 264.4,827.7 270.0,824.3 275.7,821.0 281.4,817.6 287.0,814.2 292.7,810.9 298.3,807.5 304.0,804.1 309.7,800.8 315.3,797.4 321.0,794.0 326.6,790.7 332.3,868.1 338.0,864.7 343.6,861.4 349.3,858.0 355.0,854.6 360.6,851.3 366.3,847.9 371.9,844.5 377.6,841.2 383.3,837.8 388.9,834.4 394.6,831.1 400.2,827.7 405.9,824.3 411.6,821.0 417.2,817.6 422.9,814.2 428.5,810.9 434.2,807.5 439.9,804.1 445.5,800.8 451.2,797.4 456.8,794.0 462.5,790.7 468.2,868.1 473.8,864.7 479.5,861.4 485.1,858.0 490.8,854.6 496.5,851.3 502.1,847.9 507.8,844.5 513.4,841.2 519.1,837.8 524.8,834.4 530.4,831.1 536.1,827.7 541.7,824.3 547.4,821.0 553.1,817.6 558.7,814.2 564.4,810.9 570.0,807.5 575.7,804.1 581.4,800.8 587.0,797.4 592.7,794.0 598.3,790.7 604.0,868.1 609.7,864.7 615.3,861.4 621.0,858.0 626.7,854.6 632.3,851.3" fill="none" stroke="#000" stroke-width="2.0" stroke-dasharray="6.6 2.9"/>
<polyline points="70.8,842.0 71.5,842.7 72.2,843.4 72.9,844.0 73.6,844.7 74.3,845.3 75.0,845.9 75.7,846.5 76.4,847.1 77.1,847.7 77.8,848.2 78.5,848.7 79.2,849.2 79.9,849.7 80.6,850.2 81.3,850.6 82.0,851.0 82.7,851.4 83.4,851.8 84.1,852.1 84.8,852.5 85.5,852.8 86.2,853.0 86.9,853.3 87.6,853.5 88.3,853.7 89.0,853.9 89.7,854.0 90.4,854.1 91.1,854.2 91.8,854.3 92.5,854.4 93.2,854.4 93.9,854.4 94.6,854.3 95.3,854.3 96.0,854.2 96.7,854.1 97.4,853.9 98.1,853.8 98.8,853.6 99.5,853.4 100.2,853.1 100.9,852.8 101.6,852.6 102.3,852.2 103.0,851.9 103.7,851.5 104.4,851.1 105.1,850.7 105.8,850.3 106.5,849.8 107.2,849.4 107.9,848.9 108.6,848.4 109.3,847.8 110.0,847.3 110.7,846.7 111.4,846.1 112.1,845.5 112.8,844.9 113.5,844.2 114.2,843.6 114.9,842.9 115.6,842.2 116.3,841.5 117.0,840.8 117.7,840.0 118.4,839.3 119.1,838.6 119.8,837.8 120.5,837.0 121.2,836.3 121.9,835.5 122.6,834.7 123.3,833.9 124.0,833.1 124.7,832.3 125.4,831.5 126.1,830.7 126.8,829.9 127.5,829.0 128.2,828.2 128.9,827.4 129.6,826.6 130.3,825.8 131.0,825.0 131.7,824.2 132.4,823.4 133.1,822.6 133.8,821.9 134.5,821.1 135.2,820.3 135.9,819.6 136.6,818.8 137.3,818.1 138.0,817.4 138.7,816.7 139.4,816.0 140.1,815.3 140.8,814.6 141.5,814.0 142.2,813.3 142.9,812.7 143.6,812.1 144.3,811.6 145.0,811.0 145.7,810.4 146.4,809.9 147.1,809.4 147.8,808.9 148.5,808.5 149.2,808.0 149.9,807.6 150.6,807.2 151.3,806.9 152.0,806.5 152.7,806.2 153.4,805.9 154.1,805.6 154.8,805.4 155.5,805.1 156.2,804.9 156.9,804.8 157.6,804.6 158.3,804.5 159.0,804.4 159.7,804.3 160.4,804.3 161.1,804.3 161.8,804.3 162.5,804.3 163.2,804.4 163.9,804.4 164.6,804.6 165.3,804.7 166.0,804.9 166.7,805.1 167.4,805.3 168.1,805.5 168.8,805.8 169.5,806.1 170.2,806.4 170.9,806.7 171.6,807.1 172.3,807.5 173.0,807.9 173.7,808.3 174.4,808.8 175.1,809.2 175.8,809.7 176.5,810.3 177.2,810.8 177.9,811.3 178.6,811.9 179.3,812.5 180.0,813.1 180.7,813.8 181.4,814.4 182.1,815.1 182.8,815.7 183.5,816.4 184.2,817.1 184.9,817.8 185.6,818.6 186.3,819.3 187.0,820.1 187.7,820.8 188.4,821.6 189.1,822.4 189.8,823.1 190.5,823.9 191.2,824.7 191.9,825.5 192.6,826.3 193.3,827.1 194.0,827.9 194.7,828.8 195.4,829.6 196.1,830.4 196.8,831.2 197.5,832.0 198.2,832.8 198.9,833.6 199.6,834.4 200.3,835.2 201.0,836.0 201.7,836.8 202.4,837.5 203.1,838.3 203.8,839.0 204.5,839.8 205.2,840.5 205.9,841.2 206.6,841.9 207.3,842.6 208.0,843.3 208.7,844.0 209.4,844.6 210.1,845.3 210.8,845.9 211.5,846.5 212.2,847.1 212.9,847.6 213.6,848.2 214.3,848.7 215.0,849.2 215.7,849.7 216.4,850.1 217.1,850.6 217.8,851.0 218.5,851.4 219.2,851.8 219.9,852.1 220.6,852.4 221.3,852.7 222.0,853.0 222.7,853.3 223.4,853.5 224.1,853.7 224.8,853.9 225.5,854.0 226.2,854.1 226.9,854.2 227.6,854.3 228.3,854.4 229.0,854.4 229.7,854.4 230.4,854.3 231.1,854.3 231.8,854.2 232.5,854.1 233.2,853.9 233.9,853.8 234.6,853.6 235.3,853.4 236.0,853.1 236.7,852.9 237.4,852.6 238.1,852.3 238.8,851.9 239.5,851.6 240.2,851.2 240.9,850.8 241.6,850.3 242.3,849.9 243.0,849.4 243.7,848.9 244.4,848.4 245.1,847.9 245.8,847.3 246.5,846.7 247.2,846.1 247.9,845.5 248.6,844.9 249.3,844.3 250.0,843.6 250.7,842.9 251.4,842.2 252.1,841.5 252.8,840.8 253.5,840.1 254.2,839.4 254.9,838.6 255.6,837.8 256.3,837.1 257.0,836.3 257.7,835.5 258.4,834.7 259.1,833.9 259.8,833.1 260.5,832.3 261.2,831.5 261.9,830.7 262.6,829.9 263.3,829.1 264.0,828.3 264.7,827.5 265.4,826.7 266.1,825.9 266.8,825.1 267.5,824.3 268.2,823.5 268.9,822.7 269.6,821.9 270.3,821.1 271.0,820.4 271.7,819.6 272.4,818.9 273.1,818.1 273.8,817.4 274.5,816.7 275.2,816.0 275.9,815.3 276.6,814.7 277.3,814.0 278.0,813.4 278.7,812.8 279.4,812.2 280.1,811.6 280.8,811.0 281.5,810.5 282.2,810.0 282.9,809.5 283.6,809.0 284.3,808.5 285.0,808.1 285.7,807.6 286.4,807.3 287.1,806.9 287.8,806.5 288.5,806.2 289.2,805.9 289.9,805.6 290.6,805.4 291.3,805.1 292.0,804.9 292.7,804.8 293.4,804.6 294.1,804.5 294.8,804.4 295.5,804.3 296.2,804.3 296.9,804.3 297.6,804.3 298.3,804.3 299.0,804.4 299.7,804.4 300.4,804.6 301.1,804.7 301.8,804.9 302.5,805.0 303.2,805.3 303.9,805.5 304.6,805.8 305.3,806.0 306.0,806.4 306.7,806.7 307.4,807.1 308.1,807.4 308.8,807.9 309.5,808.3 310.2,808.7 310.9,809.2 311.6,809.7 312.3,810.2 313.0,810.8 313.7,811.3 314.4,811.9 315.1,812.5 315.8,813.1 316.5,813.7 317.2,814.4 317.9,815.0 318.6,815.7 319.3,816.4 320.0,817.1 320.7,817.8 321.4,818.5 322.1,819.3 322.8,820.0 323.5,820.8 324.2,821.5 324.9,822.3 325.6,823.1 326.3,823.9 327.0,824.7 327.7,825.5 328.4,826.3 329.1,827.1 329.8,827.9 330.5,828.7 331.2,829.5 331.9,830.3 332.6,831.1 333.3,831.9 334.0,832.7 334.7,833.5 335.4,834.3 336.1,835.1 336.8,835.9 337.5,836.7 338.2,837.5 338.9,838.2 339.6,839.0 340.3,839.7 341.0,840.5 341.7,841.2 342.4,841.9 343.1,842.6 343.8,843.3 344.5,843.9 345.2,844.6 345.9,845.2 346.6,845.8 347.3,846.4 348.0,847.0 348.7,847.6 349.4,848.1 350.1,848.7 350.8,849.2 351.5,849.6 352.2,850.1 352.9,850.6 353.6,851.0 354.3,851.4 355.0,851.7 355.7,852.1 356.4,852.4 357.1,852.7 357.8,853.0 358.5,853.3 359.2,853.5 359.9,853.7 360.6,853.9 361.3,854.0 362.0,854.1 362.7,854.2 363.4,854.3 364.1,854.4 364.8,854.4 365.5,854.4 366.2,854.3 366.9,854.3 367.6,854.2 368.3,854.1 369.0,853.9 369.7,853.8 370.4,853.6 371.1,853.4 371.8,853.1 372.5,852.9 373.2,852.6 373.9,852.3 374.6,851.9 375.3,851.6 376.0,851.2 376.7,850.8 377.4,850.4 378.1,849.9 378.8,849.4 379.5,848.9 380.2,848.4 380.9,847.9 381.6,847.3 382.3,846.8 383.0,846.2 383.7,845.6 384.4,844.9 385.1,844.3 385.8,843.6 386.5,843.0 387.2,842.3 387.9,841.6 388.6,840.9 389.3,840.1 390.0,839.4 390.7,838.7 391.4,837.9 392.1,837.1 392.8,836.4 393.5,835.6 394.2,834.8 394.9,834.0 395.6,833.2 396.3,832.4 397.0,831.6 397.7,830.8 398.4,830.0 399.1,829.2 399.8,828.3 400.5,827.5 401.2,826.7 401.9,825.9 402.6,825.1 403.3,824.3 404.0,823.5 404.7,822.7 405.4,822.0 406.1,821.2 406.8,820.4 407.5,819.7 408.2,818.9 408.9,818.2 409.6,817.5 410.3,816.8 411.0,816.1 411.7,815.4 412.4,814.7 413.1,814.1 413.8,813.4 414.5,812.8 415.2,812.2 415.9,811.6 416.6,811.1 417.3,810.5 418.0,810.0 418.7,809.5 419.4,809.0 420.1,808.5 420.8,808.1 421.5,807.7 422.2,807.3 422.9,806.9 423.6,806.6 424.3,806.2 425.0,805.9 425.7,805.6 426.4,805.4 427.1,805.2 427.8,805.0 428.5,804.8 429.2,804.6 429.9,804.5 430.6,804.4 431.3,804.3 432.0,804.3 432.7,804.3 433.4,804.3 434.1,804.3 434.8,804.4 435.5,804.4 436.2,804.5 436.9,804.7 437.6,804.8 438.3,805.0 439.0,805.2 439.7,805.5 440.4,805.7 441.1,806.0 441.8,806.3 442.5,806.7 443.2,807.0 443.9,807.4 444.6,807.8 445.3,808.3 446.0,808.7 446.7,809.2 447.4,809.7 448.1,810.2 448.8,810.7 449.5,811.3 450.2,811.8 450.9,812.4 451.6,813.0 452.3,813.7 453.0,814.3 453.7,815.0 454.4,815.6 455.1,816.3 455.8,817.0 456.5,817.7 457.2,818.5 457.9,819.2 458.6,819.9 459.3,820.7 460.0,821.5 460.7,822.2 461.4,823.0 462.1,823.8 462.8,824.6 463.5,825.4 464.2,826.2 464.9,827.0 465.6,827.8 466.3,828.6 467.0,829.4 467.7,830.3 468.4,831.1 469.1,831.9 469.8,832.7 470.5,833.5 471.2,834.3 471.9,835.1 472.6,835.9 473.3,836.6 474.0,837.4 474.7,838.2 475.4,838.9 476.1,839.7 476.8,840.4 477.5,841.1 478.2,841.8 478.9,842.5 479.6,843.2 480.3,843.9 481.0,844.5 481.7,845.2 482.4,845.8 483.1,846.4 483.8,847.0 484.5,847.5 485.2,848.1 485.9,848.6 486.6,849.1 487.3,849.6 488.0,850.1 488.7,850.5 489.4,850.9 490.1,851.3 490.8,851.7 491.5,852.1 492.2,852.4 492.9,852.7 493.6,853.0 494.3,853.2 495.0,853.5 495.7,853.7 496.4,853.8 497.1,854.0 497.8,854.1 498.5,854.2 499.2,854.3 499.9,854.4 500.6,854.4 501.3,854.4 502.0,854.3 502.7,854.3 503.4,854.2 504.1,854.1 504.8,854.0 505.5,853.8 506.2,853.6 506.9,853.4 507.6,853.2 508.3,852.9 509.0,852.6 509.7,852.3 510.4,852.0 511.1,851.6 511.8,851.2 512.5,850.8 513.2,850.4 513.9,849.9 514.6,849.5 515.3,849.0 516.0,848.5 516.7,847.9 517.4,847.4 518.1,846.8 518.8,846.2 519.5,845.6 520.2,845.0 520.9,844.4 521.6,843.7 522.3,843.0 523.0,842.3 523.7,841.6 524.4,840.9 525.1,840.2 525.8,839.5 526.5,838.7 527.2,838.0 527.9,837.2 528.6,836.4 529.3,835.6 530.0,834.8 530.7,834.1 531.4,833.3 532.1,832.5 532.8,831.6 533.5,830.8 534.2,830.0 534.9,829.2 535.6,828.4 536.3,827.6 537.0,826.8 537.7,826.0 538.4,825.2 539.1,824.4 539.8,823.6 540.5,822.8 541.2,822.0 541.9,821.2 542.6,820.5 543.3,819.7 544.0,819.0 544.7,818.3 545.4,817.5 546.1,816.8 546.8,816.1 547.5,815.4 548.2,814.8 548.9,814.1 549.6,813.5 550.3,812.9 551.0,812.3 551.7,811.7 552.4,811.1 553.1,810.6 553.8,810.0 554.5,809.5 555.2,809.0 555.9,808.6 556.6,808.1 557.3,807.7 558.0,807.3 558.7,806.9 559.4,806.6 560.1,806.2 560.8,805.9 561.5,805.7 562.2,805.4 562.9,805.2 563.6,805.0 564.3,804.8 565.0,804.6 565.7,804.5 566.4,804.4 567.1,804.3 567.8,804.3 568.5,804.3 569.2,804.3 569.9,804.3 570.6,804.3 571.3,804.4 572.0,804.5 572.7,804.7 573.4,804.8 574.1,805.0 574.8,805.2 575.5,805.5 576.2,805.7 576.9,806.0 577.6,806.3 578.3,806.7 579.0,807.0 579.7,807.4 580.4,807.8 581.1,808.2 581.8,808.7 582.5,809.1 583.2,809.6 583.9,810.1 584.6,810.7 585.3,811.2 586.0,811.8 586.7,812.4 587.4,813.0 588.1,813.6 588.8,814.3 589.5,814.9 590.2,815.6 590.9,816.3 591.6,817.0 592.3,817.7 593.0,818.4 593.7,819.1 594.4,819.9 595.1,820.6 595.8,821.4 596.5,822.2 597.2,823.0 597.9,823.8 598.6,824.6 599.3,825.3 600.0,826.2 600.7,827.0 601.4,827.8 602.1,828.6 602.8,829.4 603.5,830.2 604.2,831.0 604.9,831.8 605.6,832.6 606.3,833.4 607.0,834.2 607.7,835.0 608.4,835.8 609.1,836.6 609.8,837.4 610.5,838.1 611.2,838.9 611.9,839.6 612.6,840.4 613.3,841.1 614.0,841.8 614.7,842.5 615.4,843.2 616.1,843.8 616.8,844.5 617.5,845.1 618.2,845.7 618.9,846.4 619.6,846.9 620.3,847.5 621.0,848.1 621.7,848.6 622.4,849.1 623.1,849.6 623.8,850.0 624.5,850.5 625.2,850.9 625.9,851.3 626.6,851.7 627.3,852.0 628.0,852.4 628.7,852.7 629.4,853.0 630.1,853.2 630.8,853.4 631.5,853.7" fill="none" stroke="#ff7c7c" stroke-width="2.1"/>
<polyline points="76.6,824.9 81.9,832.0 87.1,830.7 92.4,836.0 99.0,837.5 135.7,837.5 141.8,836.7 147.0,826.8 152.8,826.2 158.1,826.8 164.6,825.4 202.7,825.4 210.6,830.2 217.2,833.3 225.1,836.7 230.3,839.4 238.2,840.7 267.1,840.7 272.3,838.1 277.6,837.3 282.8,830.2 289.4,822.3 293.4,821.0 299.9,821.0 305.2,819.1 342.0,819.1 348.5,823.6 353.8,830.2 360.4,830.7 369.5,834.1 402.4,834.1 407.6,835.4 414.2,836.7 419.5,831.5 424.7,827.5 429.5,828.3 437.0,825.3 478.9,825.3 484.9,828.9 489.4,834.3 495.3,834.9 500.4,838.5 505.8,837.0 544.7,837.0 550.7,828.9 559.7,821.4 574.7,819.3 598.6,819.3 610.6,822.3 619.6,828.9 626.5,834.0" fill="none" stroke="#1a8cff" stroke-width="2.1" stroke-linejoin="round"/>
</g>
<rect x="75.8" y="779.2" width="550.70" height="97.00" fill="none" stroke="#333" stroke-width="1.1"/>
<line x1="71.80" y1="868.12" x2="75.8" y2="868.12" stroke="#333" stroke-width="1.1"/>
<text x="55.68" y="875.42" font-size="20.46" font-weight="normal" font-style="normal" fill="#000" textLength="11.31" lengthAdjust="spacingAndGlyphs">0</text>
<line x1="71.80" y1="787.28" x2="75.8" y2="787.28" stroke="#333" stroke-width="1.1"/>
<text x="56.34" y="794.58" font-size="20.46" font-weight="normal" font-style="normal" fill="#000" textLength="10.81" lengthAdjust="spacingAndGlyphs">1</text>
<line x1="202.80" y1="602.90" x2="202.80" y2="606.90" stroke="#333" stroke-width="1.1"/>
<text x="182.06" y="626.20" font-size="20.56" font-weight="normal" font-style="normal" fill="#000" textLength="41.69" lengthAdjust="spacingAndGlyphs">5.82</text>
<line x1="333.60" y1="602.90" x2="333.60" y2="606.90" stroke="#333" stroke-width="1.1"/>
<text x="312.74" y="626.20" font-size="20.56" font-weight="normal" font-style="normal" fill="#000" textLength="41.76" lengthAdjust="spacingAndGlyphs">5.85</text>
<line x1="464.50" y1="602.90" x2="464.50" y2="606.90" stroke="#333" stroke-width="1.1"/>
<text x="443.45" y="626.20" font-size="20.56" font-weight="normal" font-style="normal" fill="#000" textLength="42.18" lengthAdjust="spacingAndGlyphs">5.88</text>
<line x1="595.30" y1="602.90" x2="595.30" y2="606.90" stroke="#333" stroke-width="1.1"/>
<text x="574.49" y="626.20" font-size="20.56" font-weight="normal" font-style="normal" fill="#000" textLength="41.82" lengthAdjust="spacingAndGlyphs">5.91</text>
<text x="75.45" y="626.20" font-size="20.56" font-weight="normal" font-style="normal" fill="#000" textLength="90.95" lengthAdjust="spacingAndGlyphs">Time (ks)</text>
<line x1="242.70" y1="739.60" x2="242.70" y2="743.60" stroke="#333" stroke-width="1.1"/>
<text x="215.32" y="762.90" font-size="20.56" font-weight="normal" font-style="normal" fill="#000" textLength="54.86" lengthAdjust="spacingAndGlyphs">0.916</text>
<line x1="360.00" y1="739.60" x2="360.00" y2="743.60" stroke="#333" stroke-width="1.1"/>
<text x="332.66" y="762.90" font-size="20.56" font-weight="normal" font-style="normal" fill="#000" textLength="54.68" lengthAdjust="spacingAndGlyphs">0.920</text>
<line x1="477.30" y1="739.60" x2="477.30" y2="743.60" stroke="#333" stroke-width="1.1"/>
<text x="449.86" y="762.90" font-size="20.56" font-weight="normal" font-style="normal" fill="#000" textLength="54.66" lengthAdjust="spacingAndGlyphs">0.924</text>
<line x1="594.60" y1="739.60" x2="594.60" y2="743.60" stroke="#333" stroke-width="1.1"/>
<text x="567.28" y="762.90" font-size="20.56" font-weight="normal" font-style="normal" fill="#000" textLength="54.74" lengthAdjust="spacingAndGlyphs">0.928</text>
<text x="75.45" y="762.90" font-size="20.56" font-weight="normal" font-style="normal" fill="#000" textLength="79.71" lengthAdjust="spacingAndGlyphs">Time (s)</text>
<line x1="195.90" y1="876.20" x2="195.90" y2="880.20" stroke="#333" stroke-width="1.1"/>
<text x="177.66" y="899.50" font-size="20.56" font-weight="normal" font-style="normal" fill="#000" textLength="36.32" lengthAdjust="spacingAndGlyphs">228</text>
<line x1="331.60" y1="876.20" x2="331.60" y2="880.20" stroke="#333" stroke-width="1.1"/>
<text x="313.38" y="899.50" font-size="20.56" font-weight="normal" font-style="normal" fill="#000" textLength="36.37" lengthAdjust="spacingAndGlyphs">229</text>
<line x1="467.30" y1="876.20" x2="467.30" y2="880.20" stroke="#333" stroke-width="1.1"/>
<text x="449.05" y="899.50" font-size="20.56" font-weight="normal" font-style="normal" fill="#000" textLength="36.26" lengthAdjust="spacingAndGlyphs">230</text>
<line x1="603.00" y1="876.20" x2="603.00" y2="880.20" stroke="#333" stroke-width="1.1"/>
<text x="585.01" y="899.50" font-size="20.56" font-weight="normal" font-style="normal" fill="#000" textLength="35.95" lengthAdjust="spacingAndGlyphs">231</text>
<text x="75.46" y="899.50" font-size="20.56" font-weight="normal" font-style="normal" fill="#000" textLength="92.05" lengthAdjust="spacingAndGlyphs">Time (μs)</text>
<text transform="translate(10.65 561.90) scale(1.131 1)" font-size="32" fill="#000">(</text>
<text x="26.06" y="561.90" font-size="32" fill="#000">i</text>
<text transform="translate(35.69 561.90) scale(1.131 1)" font-size="32" fill="#000">)</text>
<text transform="translate(11.05 699.90) scale(1.131 1)" font-size="32" fill="#000">(</text>
<text x="25.76" y="699.90" font-size="32" fill="#000">i</text>
<text x="34.86" y="699.90" font-size="32" fill="#000">i</text>
<text transform="translate(44.19 699.90) scale(1.131 1)" font-size="32" fill="#000">)</text>
<text transform="translate(6.55 834.40) scale(1.131 1)" font-size="32" fill="#000">(</text>
<text x="20.96" y="834.40" font-size="32" fill="#000">i</text>
<text x="29.91" y="834.40" font-size="32" fill="#000">i</text>
<text x="38.86" y="834.40" font-size="32" fill="#000">i</text>
<text transform="translate(48.89 834.40) scale(1.131 1)" font-size="32" fill="#000">)</text>
<rect x="506.9" y="516.4" width="111.40" height="78.10" rx="3" ry="3" fill="#fff" fill-opacity="0.8" stroke="#cccccc" stroke-width="1.0"/>
<text x="539.29" y="534.70" font-size="14.84" font-weight="bold" font-style="normal" fill="#000" textLength="47.44" lengthAdjust="spacingAndGlyphs">1/MSE</text>
<line x1="511.90" y1="552.50" x2="548.70" y2="552.50" stroke="#ff7c7c" stroke-width="2.1"/>
<line x1="511.90" y1="577.70" x2="548.70" y2="577.70" stroke="#1a8cff" stroke-width="2.1"/>
<text x="563.38" y="559.10" font-size="18.44" font-weight="normal" font-style="normal" fill="#000" textLength="48.69" lengthAdjust="spacingAndGlyphs">30.23</text>
<text x="563.38" y="583.90" font-size="18.44" font-weight="normal" font-style="normal" fill="#000" textLength="48.89" lengthAdjust="spacingAndGlyphs">39.48</text>
<rect x="508.5" y="654.0" width="110.20" height="77.60" rx="3" ry="3" fill="#fff" fill-opacity="0.8" stroke="#cccccc" stroke-width="1.0"/>
<text x="540.29" y="672.30" font-size="14.84" font-weight="bold" font-style="normal" fill="#000" textLength="47.44" lengthAdjust="spacingAndGlyphs">1/MSE</text>
<line x1="513.50" y1="690.10" x2="550.30" y2="690.10" stroke="#ff7c7c" stroke-width="2.1"/>
<line x1="513.50" y1="715.30" x2="550.30" y2="715.30" stroke="#1a8cff" stroke-width="2.1"/>
<text x="564.98" y="696.70" font-size="18.44" font-weight="normal" font-style="normal" fill="#000" textLength="48.69" lengthAdjust="spacingAndGlyphs">30.23</text>
<text x="564.97" y="721.50" font-size="18.44" font-weight="normal" font-style="normal" fill="#000" textLength="48.54" lengthAdjust="spacingAndGlyphs">55.05</text>
<rect x="508.2" y="790.2" width="108.80" height="76.80" rx="3" ry="3" fill="#fff" fill-opacity="0.8" stroke="#cccccc" stroke-width="1.0"/>
<text x="539.29" y="808.50" font-size="14.84" font-weight="bold" font-style="normal" fill="#000" textLength="47.44" lengthAdjust="spacingAndGlyphs">1/MSE</text>
<line x1="513.20" y1="826.30" x2="550.00" y2="826.30" stroke="#ff7c7c" stroke-width="2.1"/>
<line x1="513.20" y1="851.50" x2="550.00" y2="851.50" stroke="#1a8cff" stroke-width="2.1"/>
<text x="564.68" y="832.90" font-size="18.44" font-weight="normal" font-style="normal" fill="#000" textLength="48.69" lengthAdjust="spacingAndGlyphs">30.23</text>
<text x="564.52" y="857.70" font-size="18.44" font-weight="normal" font-style="normal" fill="#000" textLength="49.00" lengthAdjust="spacingAndGlyphs">13.70</text>
</g>
<g id="lg">
<rect x="93.6" y="926.9" width="504.9" height="60.6" rx="3.5" ry="3.5" fill="#fff" stroke="#cccccc" stroke-width="1.1"/>
<line x1="100.6" y1="942.4" x2="139.2" y2="942.4" stroke="#000" stroke-width="1.8" stroke-dasharray="1.8 3.5"/>
<line x1="100.6" y1="969.6" x2="139.2" y2="969.6" stroke="#000" stroke-width="1.8" stroke-dasharray="7.6 2.8"/>
<line x1="299.1" y1="942.3" x2="339.0" y2="942.3" stroke="#ff7c7c" stroke-width="2.4"/>
<line x1="299.1" y1="969.7" x2="339.0" y2="969.7" stroke="#0000ff" stroke-width="2.2"/>
<text x="152.50" y="949.40" font-size="19.93" font-weight="normal" font-style="normal" fill="#000" textLength="110.95" lengthAdjust="spacingAndGlyphs">Input signal</text>
<text x="153.32" y="976.40" font-size="19.93" font-weight="normal" font-style="normal" fill="#000" textLength="61.85" lengthAdjust="spacingAndGlyphs">Target</text>
<text x="352.44" y="949.40" font-size="19.93" font-weight="normal" font-style="normal" fill="#000" textLength="237.60" lengthAdjust="spacingAndGlyphs">Prediction with input only</text>
<text x="352.48" y="976.40" font-size="19.93" font-weight="normal" font-style="normal" fill="#000" textLength="176.29" lengthAdjust="spacingAndGlyphs">Prediction with ASI</text>
</g>
</svg></body></html>
